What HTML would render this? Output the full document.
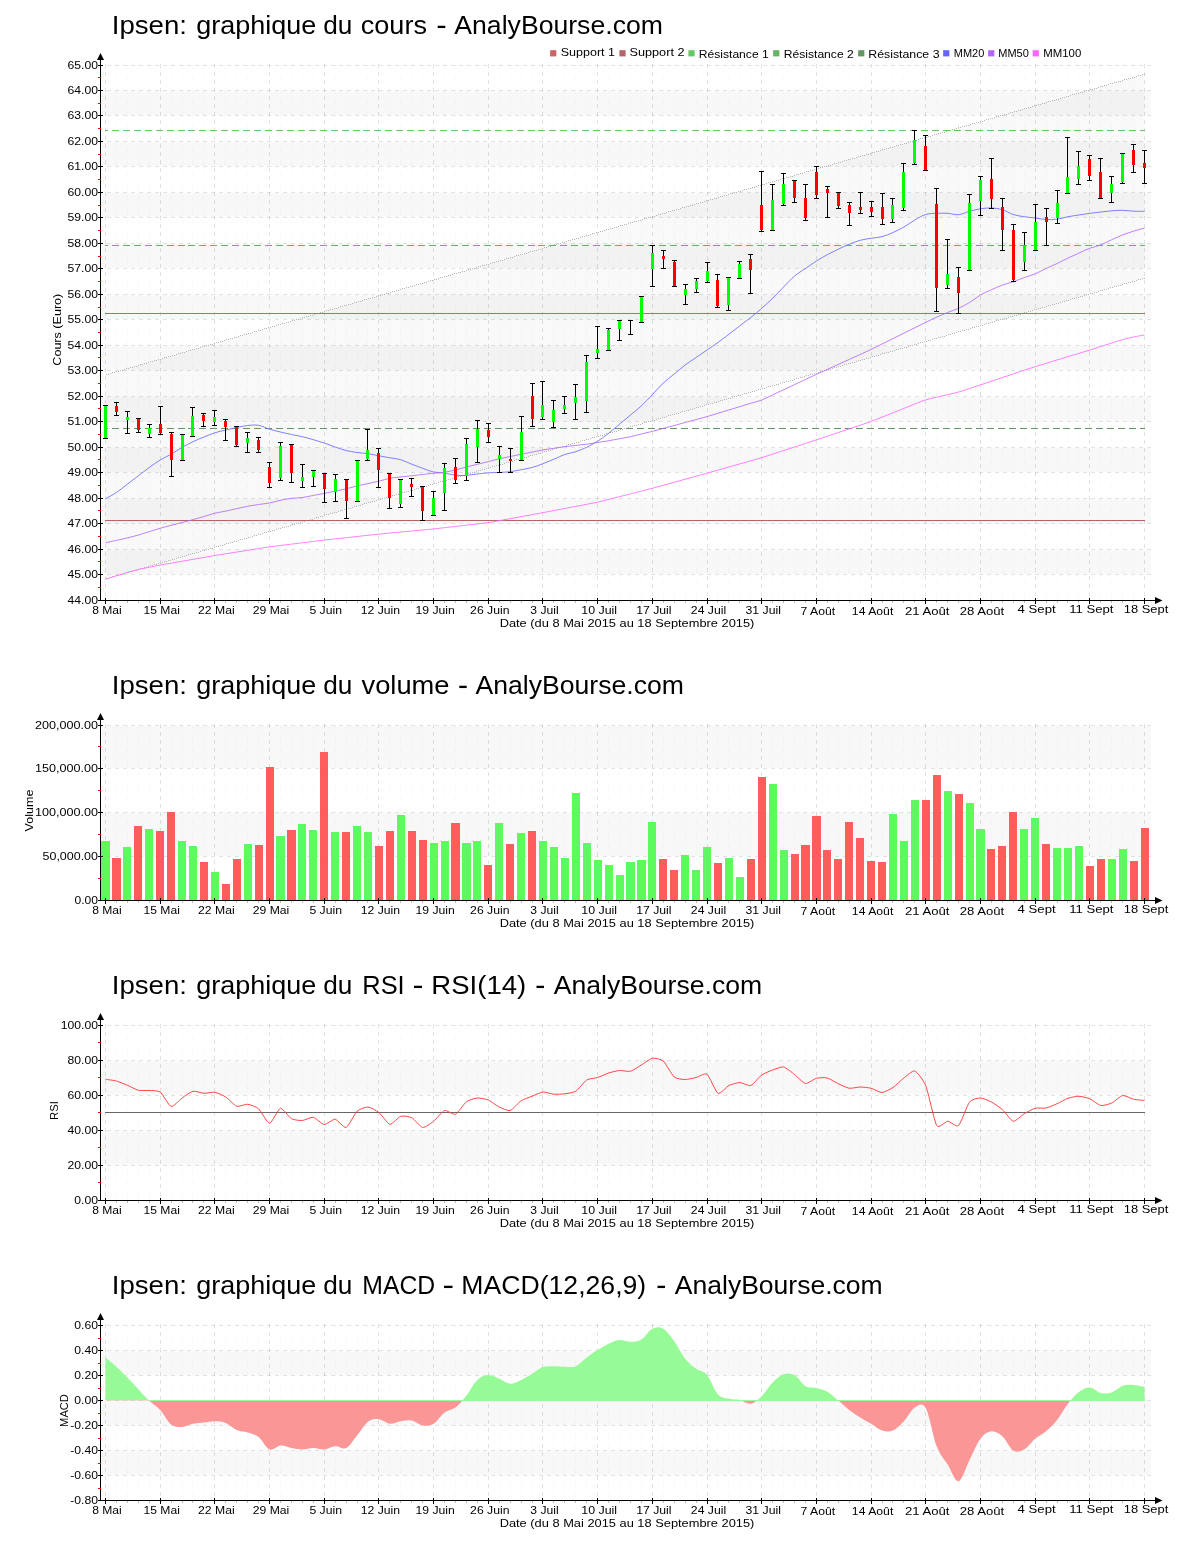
<!DOCTYPE html><html><head><meta charset="utf-8"><title>Ipsen</title><style>html,body{margin:0;padding:0;background:#fff}svg{display:block;will-change:transform}text{font-family:"Liberation Sans",sans-serif}</style></head><body>
<svg width="1200" height="1550" viewBox="0 0 1200 1550">
<rect width="1200" height="1550" fill="#fff"/>
<rect x="102" y="91" width="1049" height="24" fill="#f8f8f8" shape-rendering="crispEdges"/>
<rect x="102" y="142" width="1049" height="24" fill="#f8f8f8" shape-rendering="crispEdges"/>
<rect x="102" y="193" width="1049" height="24" fill="#f8f8f8" shape-rendering="crispEdges"/>
<rect x="102" y="244" width="1049" height="24" fill="#f8f8f8" shape-rendering="crispEdges"/>
<rect x="102" y="295" width="1049" height="24" fill="#f8f8f8" shape-rendering="crispEdges"/>
<rect x="102" y="346" width="1049" height="24" fill="#f8f8f8" shape-rendering="crispEdges"/>
<rect x="102" y="397" width="1049" height="24" fill="#f8f8f8" shape-rendering="crispEdges"/>
<rect x="102" y="448" width="1049" height="24" fill="#f8f8f8" shape-rendering="crispEdges"/>
<rect x="102" y="499" width="1049" height="24" fill="#f8f8f8" shape-rendering="crispEdges"/>
<rect x="102" y="550" width="1049" height="24" fill="#f8f8f8" shape-rendering="crispEdges"/>
<path d="M105.5 375.0 L1144.5 74.1 L1144.5 278.1 L105.5 579.0 Z" fill="#000" fill-opacity="0.022"/>
<g shape-rendering="crispEdges" fill="none">
<line x1="105.5" y1="64.0" x2="105.5" y2="600.0" stroke="#000" stroke-opacity="0.115" stroke-dasharray="4 4"/>
<line x1="116.5" y1="64.0" x2="116.5" y2="600.0" stroke="#000" stroke-opacity="0.022" stroke-dasharray="6 6"/>
<line x1="127.5" y1="64.0" x2="127.5" y2="600.0" stroke="#000" stroke-opacity="0.022" stroke-dasharray="6 6"/>
<line x1="138.5" y1="64.0" x2="138.5" y2="600.0" stroke="#000" stroke-opacity="0.022" stroke-dasharray="6 6"/>
<line x1="149.5" y1="64.0" x2="149.5" y2="600.0" stroke="#000" stroke-opacity="0.022" stroke-dasharray="6 6"/>
<line x1="160.5" y1="64.0" x2="160.5" y2="600.0" stroke="#000" stroke-opacity="0.115" stroke-dasharray="4 4"/>
<line x1="171.5" y1="64.0" x2="171.5" y2="600.0" stroke="#000" stroke-opacity="0.022" stroke-dasharray="6 6"/>
<line x1="182.5" y1="64.0" x2="182.5" y2="600.0" stroke="#000" stroke-opacity="0.022" stroke-dasharray="6 6"/>
<line x1="192.5" y1="64.0" x2="192.5" y2="600.0" stroke="#000" stroke-opacity="0.022" stroke-dasharray="6 6"/>
<line x1="203.5" y1="64.0" x2="203.5" y2="600.0" stroke="#000" stroke-opacity="0.022" stroke-dasharray="6 6"/>
<line x1="214.5" y1="64.0" x2="214.5" y2="600.0" stroke="#000" stroke-opacity="0.115" stroke-dasharray="4 4"/>
<line x1="225.5" y1="64.0" x2="225.5" y2="600.0" stroke="#000" stroke-opacity="0.022" stroke-dasharray="6 6"/>
<line x1="236.5" y1="64.0" x2="236.5" y2="600.0" stroke="#000" stroke-opacity="0.022" stroke-dasharray="6 6"/>
<line x1="247.5" y1="64.0" x2="247.5" y2="600.0" stroke="#000" stroke-opacity="0.022" stroke-dasharray="6 6"/>
<line x1="258.5" y1="64.0" x2="258.5" y2="600.0" stroke="#000" stroke-opacity="0.022" stroke-dasharray="6 6"/>
<line x1="269.5" y1="64.0" x2="269.5" y2="600.0" stroke="#000" stroke-opacity="0.115" stroke-dasharray="4 4"/>
<line x1="280.5" y1="64.0" x2="280.5" y2="600.0" stroke="#000" stroke-opacity="0.022" stroke-dasharray="6 6"/>
<line x1="291.5" y1="64.0" x2="291.5" y2="600.0" stroke="#000" stroke-opacity="0.022" stroke-dasharray="6 6"/>
<line x1="302.5" y1="64.0" x2="302.5" y2="600.0" stroke="#000" stroke-opacity="0.022" stroke-dasharray="6 6"/>
<line x1="313.5" y1="64.0" x2="313.5" y2="600.0" stroke="#000" stroke-opacity="0.022" stroke-dasharray="6 6"/>
<line x1="324.5" y1="64.0" x2="324.5" y2="600.0" stroke="#000" stroke-opacity="0.115" stroke-dasharray="4 4"/>
<line x1="335.5" y1="64.0" x2="335.5" y2="600.0" stroke="#000" stroke-opacity="0.022" stroke-dasharray="6 6"/>
<line x1="346.5" y1="64.0" x2="346.5" y2="600.0" stroke="#000" stroke-opacity="0.022" stroke-dasharray="6 6"/>
<line x1="357.5" y1="64.0" x2="357.5" y2="600.0" stroke="#000" stroke-opacity="0.022" stroke-dasharray="6 6"/>
<line x1="367.5" y1="64.0" x2="367.5" y2="600.0" stroke="#000" stroke-opacity="0.022" stroke-dasharray="6 6"/>
<line x1="378.5" y1="64.0" x2="378.5" y2="600.0" stroke="#000" stroke-opacity="0.115" stroke-dasharray="4 4"/>
<line x1="389.5" y1="64.0" x2="389.5" y2="600.0" stroke="#000" stroke-opacity="0.022" stroke-dasharray="6 6"/>
<line x1="400.5" y1="64.0" x2="400.5" y2="600.0" stroke="#000" stroke-opacity="0.022" stroke-dasharray="6 6"/>
<line x1="411.5" y1="64.0" x2="411.5" y2="600.0" stroke="#000" stroke-opacity="0.022" stroke-dasharray="6 6"/>
<line x1="422.5" y1="64.0" x2="422.5" y2="600.0" stroke="#000" stroke-opacity="0.022" stroke-dasharray="6 6"/>
<line x1="433.5" y1="64.0" x2="433.5" y2="600.0" stroke="#000" stroke-opacity="0.115" stroke-dasharray="4 4"/>
<line x1="444.5" y1="64.0" x2="444.5" y2="600.0" stroke="#000" stroke-opacity="0.022" stroke-dasharray="6 6"/>
<line x1="455.5" y1="64.0" x2="455.5" y2="600.0" stroke="#000" stroke-opacity="0.022" stroke-dasharray="6 6"/>
<line x1="466.5" y1="64.0" x2="466.5" y2="600.0" stroke="#000" stroke-opacity="0.022" stroke-dasharray="6 6"/>
<line x1="477.5" y1="64.0" x2="477.5" y2="600.0" stroke="#000" stroke-opacity="0.022" stroke-dasharray="6 6"/>
<line x1="488.5" y1="64.0" x2="488.5" y2="600.0" stroke="#000" stroke-opacity="0.115" stroke-dasharray="4 4"/>
<line x1="499.5" y1="64.0" x2="499.5" y2="600.0" stroke="#000" stroke-opacity="0.022" stroke-dasharray="6 6"/>
<line x1="510.5" y1="64.0" x2="510.5" y2="600.0" stroke="#000" stroke-opacity="0.022" stroke-dasharray="6 6"/>
<line x1="521.5" y1="64.0" x2="521.5" y2="600.0" stroke="#000" stroke-opacity="0.022" stroke-dasharray="6 6"/>
<line x1="532.5" y1="64.0" x2="532.5" y2="600.0" stroke="#000" stroke-opacity="0.022" stroke-dasharray="6 6"/>
<line x1="542.5" y1="64.0" x2="542.5" y2="600.0" stroke="#000" stroke-opacity="0.115" stroke-dasharray="4 4"/>
<line x1="553.5" y1="64.0" x2="553.5" y2="600.0" stroke="#000" stroke-opacity="0.022" stroke-dasharray="6 6"/>
<line x1="564.5" y1="64.0" x2="564.5" y2="600.0" stroke="#000" stroke-opacity="0.022" stroke-dasharray="6 6"/>
<line x1="575.5" y1="64.0" x2="575.5" y2="600.0" stroke="#000" stroke-opacity="0.022" stroke-dasharray="6 6"/>
<line x1="586.5" y1="64.0" x2="586.5" y2="600.0" stroke="#000" stroke-opacity="0.022" stroke-dasharray="6 6"/>
<line x1="597.5" y1="64.0" x2="597.5" y2="600.0" stroke="#000" stroke-opacity="0.115" stroke-dasharray="4 4"/>
<line x1="608.5" y1="64.0" x2="608.5" y2="600.0" stroke="#000" stroke-opacity="0.022" stroke-dasharray="6 6"/>
<line x1="619.5" y1="64.0" x2="619.5" y2="600.0" stroke="#000" stroke-opacity="0.022" stroke-dasharray="6 6"/>
<line x1="630.5" y1="64.0" x2="630.5" y2="600.0" stroke="#000" stroke-opacity="0.022" stroke-dasharray="6 6"/>
<line x1="641.5" y1="64.0" x2="641.5" y2="600.0" stroke="#000" stroke-opacity="0.022" stroke-dasharray="6 6"/>
<line x1="652.5" y1="64.0" x2="652.5" y2="600.0" stroke="#000" stroke-opacity="0.115" stroke-dasharray="4 4"/>
<line x1="663.5" y1="64.0" x2="663.5" y2="600.0" stroke="#000" stroke-opacity="0.022" stroke-dasharray="6 6"/>
<line x1="674.5" y1="64.0" x2="674.5" y2="600.0" stroke="#000" stroke-opacity="0.022" stroke-dasharray="6 6"/>
<line x1="685.5" y1="64.0" x2="685.5" y2="600.0" stroke="#000" stroke-opacity="0.022" stroke-dasharray="6 6"/>
<line x1="696.5" y1="64.0" x2="696.5" y2="600.0" stroke="#000" stroke-opacity="0.022" stroke-dasharray="6 6"/>
<line x1="707.5" y1="64.0" x2="707.5" y2="600.0" stroke="#000" stroke-opacity="0.115" stroke-dasharray="4 4"/>
<line x1="717.5" y1="64.0" x2="717.5" y2="600.0" stroke="#000" stroke-opacity="0.022" stroke-dasharray="6 6"/>
<line x1="728.5" y1="64.0" x2="728.5" y2="600.0" stroke="#000" stroke-opacity="0.022" stroke-dasharray="6 6"/>
<line x1="739.5" y1="64.0" x2="739.5" y2="600.0" stroke="#000" stroke-opacity="0.022" stroke-dasharray="6 6"/>
<line x1="750.5" y1="64.0" x2="750.5" y2="600.0" stroke="#000" stroke-opacity="0.022" stroke-dasharray="6 6"/>
<line x1="761.5" y1="64.0" x2="761.5" y2="600.0" stroke="#000" stroke-opacity="0.115" stroke-dasharray="4 4"/>
<line x1="772.5" y1="64.0" x2="772.5" y2="600.0" stroke="#000" stroke-opacity="0.022" stroke-dasharray="6 6"/>
<line x1="783.5" y1="64.0" x2="783.5" y2="600.0" stroke="#000" stroke-opacity="0.022" stroke-dasharray="6 6"/>
<line x1="794.5" y1="64.0" x2="794.5" y2="600.0" stroke="#000" stroke-opacity="0.022" stroke-dasharray="6 6"/>
<line x1="805.5" y1="64.0" x2="805.5" y2="600.0" stroke="#000" stroke-opacity="0.022" stroke-dasharray="6 6"/>
<line x1="816.5" y1="64.0" x2="816.5" y2="600.0" stroke="#000" stroke-opacity="0.115" stroke-dasharray="4 4"/>
<line x1="827.5" y1="64.0" x2="827.5" y2="600.0" stroke="#000" stroke-opacity="0.022" stroke-dasharray="6 6"/>
<line x1="838.5" y1="64.0" x2="838.5" y2="600.0" stroke="#000" stroke-opacity="0.022" stroke-dasharray="6 6"/>
<line x1="849.5" y1="64.0" x2="849.5" y2="600.0" stroke="#000" stroke-opacity="0.022" stroke-dasharray="6 6"/>
<line x1="860.5" y1="64.0" x2="860.5" y2="600.0" stroke="#000" stroke-opacity="0.022" stroke-dasharray="6 6"/>
<line x1="871.5" y1="64.0" x2="871.5" y2="600.0" stroke="#000" stroke-opacity="0.115" stroke-dasharray="4 4"/>
<line x1="882.5" y1="64.0" x2="882.5" y2="600.0" stroke="#000" stroke-opacity="0.022" stroke-dasharray="6 6"/>
<line x1="892.5" y1="64.0" x2="892.5" y2="600.0" stroke="#000" stroke-opacity="0.022" stroke-dasharray="6 6"/>
<line x1="903.5" y1="64.0" x2="903.5" y2="600.0" stroke="#000" stroke-opacity="0.022" stroke-dasharray="6 6"/>
<line x1="914.5" y1="64.0" x2="914.5" y2="600.0" stroke="#000" stroke-opacity="0.022" stroke-dasharray="6 6"/>
<line x1="925.5" y1="64.0" x2="925.5" y2="600.0" stroke="#000" stroke-opacity="0.115" stroke-dasharray="4 4"/>
<line x1="936.5" y1="64.0" x2="936.5" y2="600.0" stroke="#000" stroke-opacity="0.022" stroke-dasharray="6 6"/>
<line x1="947.5" y1="64.0" x2="947.5" y2="600.0" stroke="#000" stroke-opacity="0.022" stroke-dasharray="6 6"/>
<line x1="958.5" y1="64.0" x2="958.5" y2="600.0" stroke="#000" stroke-opacity="0.022" stroke-dasharray="6 6"/>
<line x1="969.5" y1="64.0" x2="969.5" y2="600.0" stroke="#000" stroke-opacity="0.022" stroke-dasharray="6 6"/>
<line x1="980.5" y1="64.0" x2="980.5" y2="600.0" stroke="#000" stroke-opacity="0.115" stroke-dasharray="4 4"/>
<line x1="991.5" y1="64.0" x2="991.5" y2="600.0" stroke="#000" stroke-opacity="0.022" stroke-dasharray="6 6"/>
<line x1="1002.5" y1="64.0" x2="1002.5" y2="600.0" stroke="#000" stroke-opacity="0.022" stroke-dasharray="6 6"/>
<line x1="1013.5" y1="64.0" x2="1013.5" y2="600.0" stroke="#000" stroke-opacity="0.022" stroke-dasharray="6 6"/>
<line x1="1024.5" y1="64.0" x2="1024.5" y2="600.0" stroke="#000" stroke-opacity="0.022" stroke-dasharray="6 6"/>
<line x1="1035.5" y1="64.0" x2="1035.5" y2="600.0" stroke="#000" stroke-opacity="0.115" stroke-dasharray="4 4"/>
<line x1="1046.5" y1="64.0" x2="1046.5" y2="600.0" stroke="#000" stroke-opacity="0.022" stroke-dasharray="6 6"/>
<line x1="1057.5" y1="64.0" x2="1057.5" y2="600.0" stroke="#000" stroke-opacity="0.022" stroke-dasharray="6 6"/>
<line x1="1067.5" y1="64.0" x2="1067.5" y2="600.0" stroke="#000" stroke-opacity="0.022" stroke-dasharray="6 6"/>
<line x1="1078.5" y1="64.0" x2="1078.5" y2="600.0" stroke="#000" stroke-opacity="0.022" stroke-dasharray="6 6"/>
<line x1="1089.5" y1="64.0" x2="1089.5" y2="600.0" stroke="#000" stroke-opacity="0.115" stroke-dasharray="4 4"/>
<line x1="1100.5" y1="64.0" x2="1100.5" y2="600.0" stroke="#000" stroke-opacity="0.022" stroke-dasharray="6 6"/>
<line x1="1111.5" y1="64.0" x2="1111.5" y2="600.0" stroke="#000" stroke-opacity="0.022" stroke-dasharray="6 6"/>
<line x1="1122.5" y1="64.0" x2="1122.5" y2="600.0" stroke="#000" stroke-opacity="0.022" stroke-dasharray="6 6"/>
<line x1="1133.5" y1="64.0" x2="1133.5" y2="600.0" stroke="#000" stroke-opacity="0.022" stroke-dasharray="6 6"/>
<line x1="1144.5" y1="64.0" x2="1144.5" y2="600.0" stroke="#000" stroke-opacity="0.115" stroke-dasharray="4 4"/>
<line x1="99" y1="65.5" x2="1151" y2="65.5" stroke="#000" stroke-opacity="0.115" stroke-dasharray="4 4"/>
<line x1="99" y1="90.5" x2="1151" y2="90.5" stroke="#000" stroke-opacity="0.115" stroke-dasharray="4 4"/>
<line x1="99" y1="115.5" x2="1151" y2="115.5" stroke="#000" stroke-opacity="0.115" stroke-dasharray="4 4"/>
<line x1="99" y1="141.5" x2="1151" y2="141.5" stroke="#000" stroke-opacity="0.115" stroke-dasharray="4 4"/>
<line x1="99" y1="166.5" x2="1151" y2="166.5" stroke="#000" stroke-opacity="0.115" stroke-dasharray="4 4"/>
<line x1="99" y1="192.5" x2="1151" y2="192.5" stroke="#000" stroke-opacity="0.115" stroke-dasharray="4 4"/>
<line x1="99" y1="217.5" x2="1151" y2="217.5" stroke="#000" stroke-opacity="0.115" stroke-dasharray="4 4"/>
<line x1="99" y1="243.5" x2="1151" y2="243.5" stroke="#000" stroke-opacity="0.115" stroke-dasharray="4 4"/>
<line x1="99" y1="268.5" x2="1151" y2="268.5" stroke="#000" stroke-opacity="0.115" stroke-dasharray="4 4"/>
<line x1="99" y1="294.5" x2="1151" y2="294.5" stroke="#000" stroke-opacity="0.115" stroke-dasharray="4 4"/>
<line x1="99" y1="319.5" x2="1151" y2="319.5" stroke="#000" stroke-opacity="0.115" stroke-dasharray="4 4"/>
<line x1="99" y1="345.5" x2="1151" y2="345.5" stroke="#000" stroke-opacity="0.115" stroke-dasharray="4 4"/>
<line x1="99" y1="370.5" x2="1151" y2="370.5" stroke="#000" stroke-opacity="0.115" stroke-dasharray="4 4"/>
<line x1="99" y1="396.5" x2="1151" y2="396.5" stroke="#000" stroke-opacity="0.115" stroke-dasharray="4 4"/>
<line x1="99" y1="421.5" x2="1151" y2="421.5" stroke="#000" stroke-opacity="0.115" stroke-dasharray="4 4"/>
<line x1="99" y1="447.5" x2="1151" y2="447.5" stroke="#000" stroke-opacity="0.115" stroke-dasharray="4 4"/>
<line x1="99" y1="472.5" x2="1151" y2="472.5" stroke="#000" stroke-opacity="0.115" stroke-dasharray="4 4"/>
<line x1="99" y1="498.5" x2="1151" y2="498.5" stroke="#000" stroke-opacity="0.115" stroke-dasharray="4 4"/>
<line x1="99" y1="523.5" x2="1151" y2="523.5" stroke="#000" stroke-opacity="0.115" stroke-dasharray="4 4"/>
<line x1="99" y1="549.5" x2="1151" y2="549.5" stroke="#000" stroke-opacity="0.115" stroke-dasharray="4 4"/>
<line x1="99" y1="574.5" x2="1151" y2="574.5" stroke="#000" stroke-opacity="0.115" stroke-dasharray="4 4"/>
</g>
<path d="M106 374.5h1M108 374.5h1M110 373.5h1M112 372.5h1M114 372.5h1M116 371.5h1M118 371.5h1M120 370.5h1M122 370.5h1M124 369.5h1M126 368.5h1M128 368.5h1M130 367.5h1M132 367.5h1M134 366.5h1M136 366.5h1M138 365.5h1M140 364.5h1M142 364.5h1M144 363.5h1M146 363.5h1M148 362.5h1M150 361.5h1M152 361.5h1M154 360.5h1M156 360.5h1M158 359.5h1M160 359.5h1M162 358.5h1M164 357.5h1M166 357.5h1M168 356.5h1M170 356.5h1M172 355.5h1M174 355.5h1M176 354.5h1M178 353.5h1M180 353.5h1M182 352.5h1M184 352.5h1M186 351.5h1M188 350.5h1M190 350.5h1M192 349.5h1M194 349.5h1M196 348.5h1M198 348.5h1M200 347.5h1M202 346.5h1M204 346.5h1M206 345.5h1M208 345.5h1M210 344.5h1M212 344.5h1M214 343.5h1M216 342.5h1M218 342.5h1M220 341.5h1M222 341.5h1M224 340.5h1M226 339.5h1M228 339.5h1M230 338.5h1M232 338.5h1M234 337.5h1M236 337.5h1M238 336.5h1M240 335.5h1M242 335.5h1M244 334.5h1M246 334.5h1M248 333.5h1M250 333.5h1M252 332.5h1M254 331.5h1M256 331.5h1M258 330.5h1M260 330.5h1M262 329.5h1M264 328.5h1M266 328.5h1M268 327.5h1M270 327.5h1M272 326.5h1M274 326.5h1M276 325.5h1M278 324.5h1M280 324.5h1M282 323.5h1M284 323.5h1M286 322.5h1M288 322.5h1M290 321.5h1M292 320.5h1M294 320.5h1M296 319.5h1M298 319.5h1M300 318.5h1M302 317.5h1M304 317.5h1M306 316.5h1M308 316.5h1M310 315.5h1M312 315.5h1M314 314.5h1M316 313.5h1M318 313.5h1M320 312.5h1M322 312.5h1M324 311.5h1M326 310.5h1M328 310.5h1M330 309.5h1M332 309.5h1M334 308.5h1M336 308.5h1M338 307.5h1M340 306.5h1M342 306.5h1M344 305.5h1M346 305.5h1M348 304.5h1M350 304.5h1M352 303.5h1M354 302.5h1M356 302.5h1M358 301.5h1M360 301.5h1M362 300.5h1M364 299.5h1M366 299.5h1M368 298.5h1M370 298.5h1M372 297.5h1M374 297.5h1M376 296.5h1M378 295.5h1M380 295.5h1M382 294.5h1M384 294.5h1M386 293.5h1M388 293.5h1M390 292.5h1M392 291.5h1M394 291.5h1M396 290.5h1M398 290.5h1M400 289.5h1M402 288.5h1M404 288.5h1M406 287.5h1M408 287.5h1M410 286.5h1M412 286.5h1M414 285.5h1M416 284.5h1M418 284.5h1M420 283.5h1M422 283.5h1M424 282.5h1M426 282.5h1M428 281.5h1M430 280.5h1M432 280.5h1M434 279.5h1M436 279.5h1M438 278.5h1M440 277.5h1M442 277.5h1M444 276.5h1M446 276.5h1M448 275.5h1M450 275.5h1M452 274.5h1M454 273.5h1M456 273.5h1M458 272.5h1M460 272.5h1M462 271.5h1M464 271.5h1M466 270.5h1M468 269.5h1M470 269.5h1M472 268.5h1M474 268.5h1M476 267.5h1M478 266.5h1M480 266.5h1M482 265.5h1M484 265.5h1M486 264.5h1M488 264.5h1M490 263.5h1M492 262.5h1M494 262.5h1M496 261.5h1M498 261.5h1M500 260.5h1M502 260.5h1M504 259.5h1M506 258.5h1M508 258.5h1M510 257.5h1M512 257.5h1M514 256.5h1M516 255.5h1M518 255.5h1M520 254.5h1M522 254.5h1M524 253.5h1M526 253.5h1M528 252.5h1M530 251.5h1M532 251.5h1M534 250.5h1M536 250.5h1M538 249.5h1M540 249.5h1M542 248.5h1M544 247.5h1M546 247.5h1M548 246.5h1M550 246.5h1M552 245.5h1M554 244.5h1M556 244.5h1M558 243.5h1M560 243.5h1M562 242.5h1M564 242.5h1M566 241.5h1M568 240.5h1M570 240.5h1M572 239.5h1M574 239.5h1M576 238.5h1M578 238.5h1M580 237.5h1M582 236.5h1M584 236.5h1M586 235.5h1M588 235.5h1M590 234.5h1M592 233.5h1M594 233.5h1M596 232.5h1M598 232.5h1M600 231.5h1M602 231.5h1M604 230.5h1M606 229.5h1M608 229.5h1M610 228.5h1M612 228.5h1M614 227.5h1M616 227.5h1M618 226.5h1M620 225.5h1M622 225.5h1M624 224.5h1M626 224.5h1M628 223.5h1M630 222.5h1M632 222.5h1M634 221.5h1M636 221.5h1M638 220.5h1M640 220.5h1M642 219.5h1M644 218.5h1M646 218.5h1M648 217.5h1M650 217.5h1M652 216.5h1M654 216.5h1M656 215.5h1M658 214.5h1M660 214.5h1M662 213.5h1M664 213.5h1M666 212.5h1M668 211.5h1M670 211.5h1M672 210.5h1M674 210.5h1M676 209.5h1M678 209.5h1M680 208.5h1M682 207.5h1M684 207.5h1M686 206.5h1M688 206.5h1M690 205.5h1M692 205.5h1M694 204.5h1M696 203.5h1M698 203.5h1M700 202.5h1M702 202.5h1M704 201.5h1M706 200.5h1M708 200.5h1M710 199.5h1M712 199.5h1M714 198.5h1M716 198.5h1M718 197.5h1M720 196.5h1M722 196.5h1M724 195.5h1M726 195.5h1M728 194.5h1M730 193.5h1M732 193.5h1M734 192.5h1M736 192.5h1M738 191.5h1M740 191.5h1M742 190.5h1M744 189.5h1M746 189.5h1M748 188.5h1M750 188.5h1M752 187.5h1M754 187.5h1M756 186.5h1M758 185.5h1M760 185.5h1M762 184.5h1M764 184.5h1M766 183.5h1M768 182.5h1M770 182.5h1M772 181.5h1M774 181.5h1M776 180.5h1M778 180.5h1M780 179.5h1M782 178.5h1M784 178.5h1M786 177.5h1M788 177.5h1M790 176.5h1M792 176.5h1M794 175.5h1M796 174.5h1M798 174.5h1M800 173.5h1M802 173.5h1M804 172.5h1M806 171.5h1M808 171.5h1M810 170.5h1M812 170.5h1M814 169.5h1M816 169.5h1M818 168.5h1M820 167.5h1M822 167.5h1M824 166.5h1M826 166.5h1M828 165.5h1M830 165.5h1M832 164.5h1M834 163.5h1M836 163.5h1M838 162.5h1M840 162.5h1M842 161.5h1M844 160.5h1M846 160.5h1M848 159.5h1M850 159.5h1M852 158.5h1M854 158.5h1M856 157.5h1M858 156.5h1M860 156.5h1M862 155.5h1M864 155.5h1M866 154.5h1M868 154.5h1M870 153.5h1M872 152.5h1M874 152.5h1M876 151.5h1M878 151.5h1M880 150.5h1M882 149.5h1M884 149.5h1M886 148.5h1M888 148.5h1M890 147.5h1M892 147.5h1M894 146.5h1M896 145.5h1M898 145.5h1M900 144.5h1M902 144.5h1M904 143.5h1M906 143.5h1M908 142.5h1M910 141.5h1M912 141.5h1M914 140.5h1M916 140.5h1M918 139.5h1M920 138.5h1M922 138.5h1M924 137.5h1M926 137.5h1M928 136.5h1M930 136.5h1M932 135.5h1M934 134.5h1M936 134.5h1M938 133.5h1M940 133.5h1M942 132.5h1M944 132.5h1M946 131.5h1M948 130.5h1M950 130.5h1M952 129.5h1M954 129.5h1M956 128.5h1M958 127.5h1M960 127.5h1M962 126.5h1M964 126.5h1M966 125.5h1M968 125.5h1M970 124.5h1M972 123.5h1M974 123.5h1M976 122.5h1M978 122.5h1M980 121.5h1M982 121.5h1M984 120.5h1M986 119.5h1M988 119.5h1M990 118.5h1M992 118.5h1M994 117.5h1M996 116.5h1M998 116.5h1M1000 115.5h1M1002 115.5h1M1004 114.5h1M1006 114.5h1M1008 113.5h1M1010 112.5h1M1012 112.5h1M1014 111.5h1M1016 111.5h1M1018 110.5h1M1020 110.5h1M1022 109.5h1M1024 108.5h1M1026 108.5h1M1028 107.5h1M1030 107.5h1M1032 106.5h1M1034 105.5h1M1036 105.5h1M1038 104.5h1M1040 104.5h1M1042 103.5h1M1044 103.5h1M1046 102.5h1M1048 101.5h1M1050 101.5h1M1052 100.5h1M1054 100.5h1M1056 99.5h1M1058 99.5h1M1060 98.5h1M1062 97.5h1M1064 97.5h1M1066 96.5h1M1068 96.5h1M1070 95.5h1M1072 94.5h1M1074 94.5h1M1076 93.5h1M1078 93.5h1M1080 92.5h1M1082 92.5h1M1084 91.5h1M1086 90.5h1M1088 90.5h1M1090 89.5h1M1092 89.5h1M1094 88.5h1M1096 88.5h1M1098 87.5h1M1100 86.5h1M1102 86.5h1M1104 85.5h1M1106 85.5h1M1108 84.5h1M1110 83.5h1M1112 83.5h1M1114 82.5h1M1116 82.5h1M1118 81.5h1M1120 81.5h1M1122 80.5h1M1124 79.5h1M1126 79.5h1M1128 78.5h1M1130 78.5h1M1132 77.5h1M1134 77.5h1M1136 76.5h1M1138 75.5h1M1140 75.5h1M1142 74.5h1M1144 74.5h1" stroke="#b6b6b6" stroke-width="1" fill="none" shape-rendering="crispEdges"/>
<path d="M106 578.5h1M108 578.5h1M110 577.5h1M112 576.5h1M114 576.5h1M116 575.5h1M118 575.5h1M120 574.5h1M122 574.5h1M124 573.5h1M126 572.5h1M128 572.5h1M130 571.5h1M132 571.5h1M134 570.5h1M136 570.5h1M138 569.5h1M140 568.5h1M142 568.5h1M144 567.5h1M146 567.5h1M148 566.5h1M150 565.5h1M152 565.5h1M154 564.5h1M156 564.5h1M158 563.5h1M160 563.5h1M162 562.5h1M164 561.5h1M166 561.5h1M168 560.5h1M170 560.5h1M172 559.5h1M174 559.5h1M176 558.5h1M178 557.5h1M180 557.5h1M182 556.5h1M184 556.5h1M186 555.5h1M188 554.5h1M190 554.5h1M192 553.5h1M194 553.5h1M196 552.5h1M198 552.5h1M200 551.5h1M202 550.5h1M204 550.5h1M206 549.5h1M208 549.5h1M210 548.5h1M212 548.5h1M214 547.5h1M216 546.5h1M218 546.5h1M220 545.5h1M222 545.5h1M224 544.5h1M226 543.5h1M228 543.5h1M230 542.5h1M232 542.5h1M234 541.5h1M236 541.5h1M238 540.5h1M240 539.5h1M242 539.5h1M244 538.5h1M246 538.5h1M248 537.5h1M250 537.5h1M252 536.5h1M254 535.5h1M256 535.5h1M258 534.5h1M260 534.5h1M262 533.5h1M264 532.5h1M266 532.5h1M268 531.5h1M270 531.5h1M272 530.5h1M274 530.5h1M276 529.5h1M278 528.5h1M280 528.5h1M282 527.5h1M284 527.5h1M286 526.5h1M288 526.5h1M290 525.5h1M292 524.5h1M294 524.5h1M296 523.5h1M298 523.5h1M300 522.5h1M302 521.5h1M304 521.5h1M306 520.5h1M308 520.5h1M310 519.5h1M312 519.5h1M314 518.5h1M316 517.5h1M318 517.5h1M320 516.5h1M322 516.5h1M324 515.5h1M326 514.5h1M328 514.5h1M330 513.5h1M332 513.5h1M334 512.5h1M336 512.5h1M338 511.5h1M340 510.5h1M342 510.5h1M344 509.5h1M346 509.5h1M348 508.5h1M350 508.5h1M352 507.5h1M354 506.5h1M356 506.5h1M358 505.5h1M360 505.5h1M362 504.5h1M364 503.5h1M366 503.5h1M368 502.5h1M370 502.5h1M372 501.5h1M374 501.5h1M376 500.5h1M378 499.5h1M380 499.5h1M382 498.5h1M384 498.5h1M386 497.5h1M388 497.5h1M390 496.5h1M392 495.5h1M394 495.5h1M396 494.5h1M398 494.5h1M400 493.5h1M402 492.5h1M404 492.5h1M406 491.5h1M408 491.5h1M410 490.5h1M412 490.5h1M414 489.5h1M416 488.5h1M418 488.5h1M420 487.5h1M422 487.5h1M424 486.5h1M426 486.5h1M428 485.5h1M430 484.5h1M432 484.5h1M434 483.5h1M436 483.5h1M438 482.5h1M440 481.5h1M442 481.5h1M444 480.5h1M446 480.5h1M448 479.5h1M450 479.5h1M452 478.5h1M454 477.5h1M456 477.5h1M458 476.5h1M460 476.5h1M462 475.5h1M464 475.5h1M466 474.5h1M468 473.5h1M470 473.5h1M472 472.5h1M474 472.5h1M476 471.5h1M478 470.5h1M480 470.5h1M482 469.5h1M484 469.5h1M486 468.5h1M488 468.5h1M490 467.5h1M492 466.5h1M494 466.5h1M496 465.5h1M498 465.5h1M500 464.5h1M502 464.5h1M504 463.5h1M506 462.5h1M508 462.5h1M510 461.5h1M512 461.5h1M514 460.5h1M516 459.5h1M518 459.5h1M520 458.5h1M522 458.5h1M524 457.5h1M526 457.5h1M528 456.5h1M530 455.5h1M532 455.5h1M534 454.5h1M536 454.5h1M538 453.5h1M540 453.5h1M542 452.5h1M544 451.5h1M546 451.5h1M548 450.5h1M550 450.5h1M552 449.5h1M554 448.5h1M556 448.5h1M558 447.5h1M560 447.5h1M562 446.5h1M564 446.5h1M566 445.5h1M568 444.5h1M570 444.5h1M572 443.5h1M574 443.5h1M576 442.5h1M578 442.5h1M580 441.5h1M582 440.5h1M584 440.5h1M586 439.5h1M588 439.5h1M590 438.5h1M592 437.5h1M594 437.5h1M596 436.5h1M598 436.5h1M600 435.5h1M602 435.5h1M604 434.5h1M606 433.5h1M608 433.5h1M610 432.5h1M612 432.5h1M614 431.5h1M616 431.5h1M618 430.5h1M620 429.5h1M622 429.5h1M624 428.5h1M626 428.5h1M628 427.5h1M630 426.5h1M632 426.5h1M634 425.5h1M636 425.5h1M638 424.5h1M640 424.5h1M642 423.5h1M644 422.5h1M646 422.5h1M648 421.5h1M650 421.5h1M652 420.5h1M654 420.5h1M656 419.5h1M658 418.5h1M660 418.5h1M662 417.5h1M664 417.5h1M666 416.5h1M668 415.5h1M670 415.5h1M672 414.5h1M674 414.5h1M676 413.5h1M678 413.5h1M680 412.5h1M682 411.5h1M684 411.5h1M686 410.5h1M688 410.5h1M690 409.5h1M692 409.5h1M694 408.5h1M696 407.5h1M698 407.5h1M700 406.5h1M702 406.5h1M704 405.5h1M706 404.5h1M708 404.5h1M710 403.5h1M712 403.5h1M714 402.5h1M716 402.5h1M718 401.5h1M720 400.5h1M722 400.5h1M724 399.5h1M726 399.5h1M728 398.5h1M730 398.5h1M732 397.5h1M734 396.5h1M736 396.5h1M738 395.5h1M740 395.5h1M742 394.5h1M744 393.5h1M746 393.5h1M748 392.5h1M750 392.5h1M752 391.5h1M754 391.5h1M756 390.5h1M758 389.5h1M760 389.5h1M762 388.5h1M764 388.5h1M766 387.5h1M768 386.5h1M770 386.5h1M772 385.5h1M774 385.5h1M776 384.5h1M778 384.5h1M780 383.5h1M782 382.5h1M784 382.5h1M786 381.5h1M788 381.5h1M790 380.5h1M792 380.5h1M794 379.5h1M796 378.5h1M798 378.5h1M800 377.5h1M802 377.5h1M804 376.5h1M806 375.5h1M808 375.5h1M810 374.5h1M812 374.5h1M814 373.5h1M816 373.5h1M818 372.5h1M820 371.5h1M822 371.5h1M824 370.5h1M826 370.5h1M828 369.5h1M830 369.5h1M832 368.5h1M834 367.5h1M836 367.5h1M838 366.5h1M840 366.5h1M842 365.5h1M844 364.5h1M846 364.5h1M848 363.5h1M850 363.5h1M852 362.5h1M854 362.5h1M856 361.5h1M858 360.5h1M860 360.5h1M862 359.5h1M864 359.5h1M866 358.5h1M868 358.5h1M870 357.5h1M872 356.5h1M874 356.5h1M876 355.5h1M878 355.5h1M880 354.5h1M882 353.5h1M884 353.5h1M886 352.5h1M888 352.5h1M890 351.5h1M892 351.5h1M894 350.5h1M896 349.5h1M898 349.5h1M900 348.5h1M902 348.5h1M904 347.5h1M906 347.5h1M908 346.5h1M910 345.5h1M912 345.5h1M914 344.5h1M916 344.5h1M918 343.5h1M920 342.5h1M922 342.5h1M924 341.5h1M926 341.5h1M928 340.5h1M930 340.5h1M932 339.5h1M934 338.5h1M936 338.5h1M938 337.5h1M940 337.5h1M942 336.5h1M944 336.5h1M946 335.5h1M948 334.5h1M950 334.5h1M952 333.5h1M954 333.5h1M956 332.5h1M958 331.5h1M960 331.5h1M962 330.5h1M964 330.5h1M966 329.5h1M968 329.5h1M970 328.5h1M972 327.5h1M974 327.5h1M976 326.5h1M978 326.5h1M980 325.5h1M982 325.5h1M984 324.5h1M986 323.5h1M988 323.5h1M990 322.5h1M992 322.5h1M994 321.5h1M996 320.5h1M998 320.5h1M1000 319.5h1M1002 319.5h1M1004 318.5h1M1006 318.5h1M1008 317.5h1M1010 316.5h1M1012 316.5h1M1014 315.5h1M1016 315.5h1M1018 314.5h1M1020 314.5h1M1022 313.5h1M1024 312.5h1M1026 312.5h1M1028 311.5h1M1030 311.5h1M1032 310.5h1M1034 309.5h1M1036 309.5h1M1038 308.5h1M1040 308.5h1M1042 307.5h1M1044 307.5h1M1046 306.5h1M1048 305.5h1M1050 305.5h1M1052 304.5h1M1054 304.5h1M1056 303.5h1M1058 303.5h1M1060 302.5h1M1062 301.5h1M1064 301.5h1M1066 300.5h1M1068 300.5h1M1070 299.5h1M1072 298.5h1M1074 298.5h1M1076 297.5h1M1078 297.5h1M1080 296.5h1M1082 296.5h1M1084 295.5h1M1086 294.5h1M1088 294.5h1M1090 293.5h1M1092 293.5h1M1094 292.5h1M1096 292.5h1M1098 291.5h1M1100 290.5h1M1102 290.5h1M1104 289.5h1M1106 289.5h1M1108 288.5h1M1110 287.5h1M1112 287.5h1M1114 286.5h1M1116 286.5h1M1118 285.5h1M1120 285.5h1M1122 284.5h1M1124 283.5h1M1126 283.5h1M1128 282.5h1M1130 282.5h1M1132 281.5h1M1134 281.5h1M1136 280.5h1M1138 279.5h1M1140 279.5h1M1142 278.5h1M1144 278.5h1" stroke="#b6b6b6" stroke-width="1" fill="none" shape-rendering="crispEdges"/>
<line x1="105" y1="313.5" x2="1145" y2="313.5" stroke="#c86464" stroke-width="1" shape-rendering="crispEdges"/>
<line x1="105" y1="520.5" x2="1145" y2="520.5" stroke="#b46464" stroke-width="1" shape-rendering="crispEdges"/>
<line x1="105" y1="130.5" x2="1145" y2="130.5" stroke="#64c864" stroke-width="1" stroke-dasharray="7 3.937" stroke-dashoffset="4" shape-rendering="crispEdges"/>
<line x1="105" y1="245.5" x2="1145" y2="245.5" stroke="#64b464" stroke-width="1" stroke-dasharray="7 3.937" stroke-dashoffset="4" shape-rendering="crispEdges"/>
<line x1="105" y1="428.5" x2="1145" y2="428.5" stroke="#649664" stroke-width="1" stroke-dasharray="7 3.937" stroke-dashoffset="4" shape-rendering="crispEdges"/>
<path fill="none" stroke="#6a6aff" stroke-width="0.85" d="M105.50 498.70C107.32 497.67 112.79 494.92 116.44 492.50C120.08 490.08 123.73 486.98 127.37 484.20C131.02 481.42 134.67 478.58 138.31 475.80C141.96 473.02 145.60 470.13 149.25 467.50C152.89 464.87 156.54 462.22 160.19 460.00C163.83 457.78 167.48 456.28 171.12 454.20C174.77 452.12 178.41 449.58 182.06 447.50C185.70 445.42 189.35 443.45 193.00 441.70C196.64 439.95 200.29 438.48 203.93 437.00C207.58 435.52 211.22 433.97 214.87 432.80C218.52 431.63 222.16 430.88 225.81 430.00C229.45 429.12 233.10 428.25 236.74 427.50C240.39 426.75 244.04 425.87 247.68 425.50C251.33 425.13 254.97 424.68 258.62 425.30C262.26 425.92 265.91 428.08 269.55 429.20C273.20 430.32 276.85 431.12 280.49 432.00C284.14 432.88 287.78 433.72 291.43 434.50C295.07 435.28 298.72 435.83 302.37 436.70C306.01 437.57 309.66 438.65 313.30 439.70C316.95 440.75 320.59 441.78 324.24 443.00C327.89 444.22 331.53 445.75 335.18 447.00C338.82 448.25 342.47 449.58 346.11 450.50C349.76 451.42 353.41 451.97 357.05 452.50C360.70 453.03 364.34 453.15 367.99 453.70C371.63 454.25 375.28 455.12 378.93 455.80C382.57 456.48 386.22 457.15 389.86 457.80C393.51 458.45 397.15 458.63 400.80 459.70C404.44 460.77 408.09 462.77 411.74 464.20C415.38 465.63 419.03 467.00 422.67 468.30C426.32 469.60 429.96 471.22 433.61 472.00C437.26 472.78 440.90 472.45 444.55 473.00C448.19 473.55 451.84 474.92 455.48 475.30C459.13 475.68 462.78 475.52 466.42 475.30C470.07 475.08 473.71 474.42 477.36 474.00C481.00 473.58 484.65 473.05 488.29 472.80C491.94 472.55 495.59 472.68 499.23 472.50C502.88 472.32 506.52 472.17 510.17 471.70C513.81 471.23 517.46 470.40 521.11 469.70C524.75 469.00 528.40 468.50 532.04 467.50C535.69 466.50 539.33 465.08 542.98 463.70C546.63 462.32 550.27 460.73 553.92 459.20C557.56 457.67 561.21 455.75 564.85 454.50C568.50 453.25 572.15 452.92 575.79 451.70C579.44 450.48 583.08 448.95 586.73 447.20C590.37 445.45 594.02 443.52 597.66 441.20C601.31 438.88 604.96 436.13 608.60 433.30C612.25 430.47 615.89 427.25 619.54 424.20C623.18 421.15 626.83 418.07 630.48 415.00C634.12 411.93 637.77 409.18 641.41 405.80C645.06 402.42 648.70 398.50 652.35 394.70C656.00 390.90 659.64 386.45 663.29 383.00C666.93 379.55 670.58 377.00 674.22 374.00C677.87 371.00 681.52 367.75 685.16 365.00C688.81 362.25 692.45 360.00 696.10 357.50C699.74 355.00 703.39 352.50 707.03 350.00C710.68 347.50 714.33 345.13 717.97 342.50C721.62 339.87 725.26 336.98 728.91 334.20C732.55 331.42 736.20 328.58 739.85 325.80C743.49 323.02 747.14 320.42 750.78 317.50C754.43 314.58 758.07 311.50 761.72 308.30C765.37 305.10 769.01 301.85 772.66 298.30C776.30 294.75 779.95 290.72 783.59 287.00C787.24 283.28 790.89 279.08 794.53 276.00C798.18 272.92 801.82 271.00 805.47 268.50C809.11 266.00 812.76 263.30 816.40 261.00C820.05 258.70 823.70 256.67 827.34 254.70C830.99 252.73 834.63 250.95 838.28 249.20C841.92 247.45 845.57 245.68 849.22 244.20C852.86 242.72 856.51 241.28 860.15 240.30C863.80 239.32 867.44 238.90 871.09 238.30C874.74 237.70 878.38 237.67 882.03 236.70C885.67 235.73 889.32 234.12 892.96 232.50C896.61 230.88 900.26 229.08 903.90 227.00C907.55 224.92 911.19 222.08 914.84 220.00C918.48 217.92 922.13 215.62 925.77 214.50C929.42 213.38 933.07 213.50 936.71 213.30C940.36 213.10 944.00 213.07 947.65 213.30C951.29 213.53 954.94 215.03 958.59 214.70C962.23 214.37 965.88 212.28 969.52 211.30C973.17 210.32 976.81 209.35 980.46 208.80C984.11 208.25 987.75 207.85 991.40 208.00C995.04 208.15 998.69 208.62 1002.33 209.70C1005.98 210.78 1009.63 213.33 1013.27 214.50C1016.92 215.67 1020.56 216.12 1024.21 216.70C1027.85 217.28 1031.50 217.53 1035.14 218.00C1038.79 218.47 1042.44 219.30 1046.08 219.50C1049.73 219.70 1053.37 219.67 1057.02 219.20C1060.66 218.73 1064.31 217.40 1067.96 216.70C1071.60 216.00 1075.25 215.57 1078.89 215.00C1082.54 214.43 1086.18 213.80 1089.83 213.30C1093.48 212.80 1097.12 212.42 1100.77 212.00C1104.41 211.58 1108.06 211.08 1111.70 210.80C1115.35 210.52 1119.00 210.23 1122.64 210.30C1126.29 210.37 1129.93 211.03 1133.58 211.20C1137.22 211.37 1142.69 211.28 1144.51 211.30"/>
<path fill="none" stroke="#b46aff" stroke-width="0.85" d="M105.50 542.70C107.32 542.31 112.79 541.13 116.44 540.34C120.08 539.55 123.73 538.82 127.37 537.94C131.02 537.05 134.67 536.10 138.31 535.05C141.96 534.00 145.60 532.78 149.25 531.65C152.89 530.51 156.54 529.30 160.19 528.25C163.83 527.20 167.48 526.30 171.12 525.35C174.77 524.40 178.41 523.52 182.06 522.56C185.70 521.61 189.35 520.62 193.00 519.62C196.64 518.62 200.29 517.63 203.93 516.57C207.58 515.50 211.22 514.14 214.87 513.23C218.52 512.32 222.16 511.89 225.81 511.13C229.45 510.37 233.10 509.46 236.74 508.65C240.39 507.84 244.04 506.96 247.68 506.27C251.33 505.58 254.97 505.03 258.62 504.48C262.26 503.94 265.91 503.68 269.55 502.99C273.20 502.29 276.85 501.07 280.49 500.30C284.14 499.53 287.78 498.81 291.43 498.35C295.07 497.88 298.72 498.00 302.37 497.51C306.01 497.02 309.66 496.13 313.30 495.44C316.95 494.74 320.59 494.07 324.24 493.35C327.89 492.63 331.53 491.86 335.18 491.12C338.82 490.37 342.47 489.74 346.11 488.88C349.76 488.01 353.41 486.81 357.05 485.92C360.70 485.03 364.34 484.34 367.99 483.55C371.63 482.76 375.28 482.07 378.93 481.18C382.57 480.30 386.22 478.96 389.86 478.26C393.51 477.55 397.15 477.36 400.80 476.95C404.44 476.53 408.09 476.19 411.74 475.77C415.38 475.36 419.03 474.88 422.67 474.46C426.32 474.04 429.96 473.65 433.61 473.27C437.26 472.89 440.90 472.74 444.55 472.19C448.19 471.64 451.84 470.81 455.48 469.95C459.13 469.09 462.78 467.97 466.42 467.02C470.07 466.07 473.71 465.13 477.36 464.24C481.00 463.34 484.65 462.55 488.29 461.64C491.94 460.73 495.59 459.62 499.23 458.77C502.88 457.92 506.52 457.27 510.17 456.52C513.81 455.77 517.46 455.02 521.11 454.28C524.75 453.54 528.40 452.80 532.04 452.07C535.69 451.34 539.33 450.53 542.98 449.90C546.63 449.27 550.27 448.81 553.92 448.27C557.56 447.73 561.21 447.14 564.85 446.66C568.50 446.18 572.15 445.83 575.79 445.42C579.44 445.00 583.08 444.66 586.73 444.16C590.37 443.67 594.02 443.04 597.66 442.47C601.31 441.91 604.96 441.40 608.60 440.78C612.25 440.16 615.89 439.42 619.54 438.74C623.18 438.06 626.83 437.49 630.48 436.70C634.12 435.92 637.77 434.92 641.41 434.02C645.06 433.13 648.70 432.27 652.35 431.34C656.00 430.41 659.64 429.42 663.29 428.45C666.93 427.48 670.58 426.49 674.22 425.50C677.87 424.51 681.52 423.52 685.16 422.54C688.81 421.55 692.45 420.56 696.10 419.57C699.74 418.58 703.39 417.65 707.03 416.60C710.68 415.55 714.33 414.38 717.97 413.28C721.62 412.17 725.26 411.06 728.91 409.96C732.55 408.85 736.20 407.74 739.85 406.64C743.49 405.53 747.14 404.42 750.78 403.31C754.43 402.21 758.07 401.40 761.72 399.99C765.37 398.58 769.01 396.57 772.66 394.86C776.30 393.15 779.95 391.44 783.59 389.73C787.24 388.02 790.89 386.31 794.53 384.60C798.18 382.89 801.82 381.18 805.47 379.47C809.11 377.76 812.76 376.04 816.40 374.36C820.05 372.68 823.70 371.05 827.34 369.39C830.99 367.73 834.63 366.08 838.28 364.42C841.92 362.76 845.57 361.10 849.22 359.45C852.86 357.79 856.51 356.14 860.15 354.48C863.80 352.81 867.44 351.20 871.09 349.46C874.74 347.72 878.38 345.84 882.03 344.03C885.67 342.22 889.32 340.41 892.96 338.60C896.61 336.79 900.26 334.98 903.90 333.17C907.55 331.36 911.19 329.55 914.84 327.74C918.48 325.94 922.13 324.10 925.77 322.33C929.42 320.55 933.07 318.74 936.71 317.09C940.36 315.44 944.00 313.91 947.65 312.43C951.29 310.96 954.94 309.91 958.59 308.25C962.23 306.60 965.88 304.69 969.52 302.48C973.17 300.28 976.81 297.15 980.46 295.03C984.11 292.90 987.75 291.41 991.40 289.75C995.04 288.09 998.69 286.40 1002.33 285.07C1005.98 283.74 1009.63 283.01 1013.27 281.77C1016.92 280.53 1020.56 278.94 1024.21 277.61C1027.85 276.29 1031.50 275.34 1035.14 273.82C1038.79 272.30 1042.44 270.22 1046.08 268.51C1049.73 266.79 1053.37 265.25 1057.02 263.52C1060.66 261.78 1064.31 259.83 1067.96 258.09C1071.60 256.36 1075.25 254.77 1078.89 253.12C1082.54 251.47 1086.18 249.58 1089.83 248.20C1093.48 246.83 1097.12 246.29 1100.77 244.87C1104.41 243.46 1108.06 241.36 1111.70 239.71C1115.35 238.06 1119.00 236.37 1122.64 234.95C1126.29 233.53 1129.93 232.34 1133.58 231.18C1137.22 230.02 1142.69 228.53 1144.51 228.00"/>
<path fill="none" stroke="#ff6aff" stroke-width="0.85" d="M105.50 579.30C107.32 578.72 112.79 576.99 116.44 575.84C120.08 574.68 123.73 573.43 127.37 572.38C131.02 571.32 134.67 570.34 138.31 569.49C141.96 568.64 145.60 568.01 149.25 567.28C152.89 566.54 156.54 565.75 160.19 565.06C163.83 564.38 167.48 563.79 171.12 563.15C174.77 562.51 178.41 561.88 182.06 561.24C185.70 560.61 189.35 559.97 193.00 559.34C196.64 558.70 200.29 558.06 203.93 557.43C207.58 556.79 211.22 556.13 214.87 555.52C218.52 554.92 222.16 554.37 225.81 553.79C229.45 553.21 233.10 552.64 236.74 552.06C240.39 551.48 244.04 550.91 247.68 550.33C251.33 549.75 254.97 549.18 258.62 548.60C262.26 548.02 265.91 547.39 269.55 546.87C273.20 546.35 276.85 545.96 280.49 545.50C284.14 545.05 287.78 544.60 291.43 544.15C295.07 543.70 298.72 543.25 302.37 542.80C306.01 542.35 309.66 541.90 313.30 541.45C316.95 541.00 320.59 540.52 324.24 540.09C327.89 539.67 331.53 539.29 335.18 538.89C338.82 538.49 342.47 538.09 346.11 537.70C349.76 537.30 353.41 536.90 357.05 536.50C360.70 536.11 364.34 535.71 367.99 535.31C371.63 534.91 375.28 534.49 378.93 534.12C382.57 533.74 386.22 533.42 389.86 533.07C393.51 532.72 397.15 532.38 400.80 532.04C404.44 531.69 408.09 531.35 411.74 531.01C415.38 530.66 419.03 530.32 422.67 529.97C426.32 529.63 429.96 529.31 433.61 528.93C437.26 528.55 440.90 528.10 444.55 527.68C448.19 527.27 451.84 526.85 455.48 526.44C459.13 526.02 462.78 525.61 466.42 525.19C470.07 524.78 473.71 524.36 477.36 523.95C481.00 523.53 484.65 523.24 488.29 522.70C491.94 522.16 495.59 521.36 499.23 520.69C502.88 520.02 506.52 519.35 510.17 518.68C513.81 518.01 517.46 517.34 521.11 516.67C524.75 516.00 528.40 515.33 532.04 514.66C535.69 513.99 539.33 513.33 542.98 512.65C546.63 511.96 550.27 511.26 553.92 510.56C557.56 509.87 561.21 509.17 564.85 508.48C568.50 507.79 572.15 507.09 575.79 506.40C579.44 505.70 583.08 505.01 586.73 504.31C590.37 503.62 594.02 503.02 597.66 502.21C601.31 501.39 604.96 500.35 608.60 499.42C612.25 498.50 615.89 497.57 619.54 496.64C623.18 495.71 626.83 494.78 630.48 493.86C634.12 492.93 637.77 492.00 641.41 491.07C645.06 490.14 648.70 489.25 652.35 488.29C656.00 487.32 659.64 486.28 663.29 485.27C666.93 484.27 670.58 483.26 674.22 482.25C677.87 481.25 681.52 480.24 685.16 479.24C688.81 478.23 692.45 477.23 696.10 476.22C699.74 475.22 703.39 474.23 707.03 473.20C710.68 472.18 714.33 471.14 717.97 470.10C721.62 469.07 725.26 468.03 728.91 467.00C732.55 465.97 736.20 464.93 739.85 463.90C743.49 462.86 747.14 461.83 750.78 460.80C754.43 459.76 758.07 458.80 761.72 457.69C765.37 456.58 769.01 455.32 772.66 454.13C776.30 452.94 779.95 451.75 783.59 450.56C787.24 449.37 790.89 448.19 794.53 447.00C798.18 445.81 801.82 444.62 805.47 443.43C809.11 442.24 812.76 441.07 816.40 439.86C820.05 438.66 823.70 437.43 827.34 436.21C830.99 434.99 834.63 433.77 838.28 432.55C841.92 431.33 845.57 430.11 849.22 428.89C852.86 427.67 856.51 426.45 860.15 425.23C863.80 424.00 867.44 422.89 871.09 421.54C874.74 420.20 878.38 418.63 882.03 417.17C885.67 415.72 889.32 414.26 892.96 412.80C896.61 411.35 900.26 409.89 903.90 408.43C907.55 406.97 911.19 405.50 914.84 404.06C918.48 402.63 922.13 400.96 925.77 399.82C929.42 398.68 933.07 398.09 936.71 397.22C940.36 396.36 944.00 395.49 947.65 394.63C951.29 393.76 954.94 393.06 958.59 392.04C962.23 391.02 965.88 389.71 969.52 388.51C973.17 387.31 976.81 386.06 980.46 384.85C984.11 383.63 987.75 382.42 991.40 381.21C995.04 379.99 998.69 378.78 1002.33 377.57C1005.98 376.36 1009.63 375.14 1013.27 373.93C1016.92 372.72 1020.56 371.50 1024.21 370.29C1027.85 369.08 1031.50 367.82 1035.14 366.66C1038.79 365.50 1042.44 364.44 1046.08 363.34C1049.73 362.23 1053.37 361.12 1057.02 360.01C1060.66 358.91 1064.31 357.80 1067.96 356.69C1071.60 355.59 1075.25 354.48 1078.89 353.37C1082.54 352.27 1086.18 351.19 1089.83 350.05C1093.48 348.92 1097.12 347.73 1100.77 346.57C1104.41 345.41 1108.06 344.24 1111.70 343.08C1115.35 341.92 1119.00 340.60 1122.64 339.59C1126.29 338.58 1129.93 337.79 1133.58 337.02C1137.22 336.26 1142.69 335.34 1144.51 335.00"/>
<g shape-rendering="crispEdges">
<rect x="105" y="405" width="1" height="34" fill="#000"/>
<rect x="104" y="406" width="3" height="32" fill="#00ff00"/>
<rect x="103" y="405" width="5" height="1" fill="#000"/>
<rect x="103" y="438" width="5" height="1" fill="#000"/>
<rect x="116" y="402" width="1" height="14" fill="#000"/>
<rect x="115" y="406" width="3" height="6" fill="#ff0000"/>
<rect x="114" y="402" width="5" height="1" fill="#000"/>
<rect x="114" y="415" width="5" height="1" fill="#000"/>
<rect x="127" y="411" width="1" height="23" fill="#000"/>
<rect x="126" y="417" width="3" height="3" fill="#00ff00"/>
<rect x="125" y="411" width="5" height="1" fill="#000"/>
<rect x="125" y="433" width="5" height="1" fill="#000"/>
<rect x="138" y="418" width="1" height="15" fill="#000"/>
<rect x="137" y="419" width="3" height="11" fill="#ff0000"/>
<rect x="136" y="418" width="5" height="1" fill="#000"/>
<rect x="136" y="432" width="5" height="1" fill="#000"/>
<rect x="149" y="424" width="1" height="14" fill="#000"/>
<rect x="148" y="428" width="3" height="6" fill="#00ff00"/>
<rect x="147" y="424" width="5" height="1" fill="#000"/>
<rect x="147" y="437" width="5" height="1" fill="#000"/>
<rect x="160" y="406" width="1" height="29" fill="#000"/>
<rect x="159" y="424" width="3" height="9" fill="#ff0000"/>
<rect x="158" y="406" width="5" height="1" fill="#000"/>
<rect x="158" y="434" width="5" height="1" fill="#000"/>
<rect x="171" y="432" width="1" height="45" fill="#000"/>
<rect x="170" y="434" width="3" height="26" fill="#ff0000"/>
<rect x="169" y="432" width="5" height="1" fill="#000"/>
<rect x="169" y="476" width="5" height="1" fill="#000"/>
<rect x="182" y="434" width="1" height="27" fill="#000"/>
<rect x="181" y="434" width="3" height="26" fill="#00ff00"/>
<rect x="180" y="434" width="5" height="1" fill="#000"/>
<rect x="180" y="460" width="5" height="1" fill="#000"/>
<rect x="192" y="407" width="1" height="30" fill="#000"/>
<rect x="191" y="416" width="3" height="20" fill="#00ff00"/>
<rect x="190" y="407" width="5" height="1" fill="#000"/>
<rect x="190" y="436" width="5" height="1" fill="#000"/>
<rect x="203" y="413" width="1" height="14" fill="#000"/>
<rect x="202" y="415" width="3" height="6" fill="#ff0000"/>
<rect x="201" y="413" width="5" height="1" fill="#000"/>
<rect x="201" y="426" width="5" height="1" fill="#000"/>
<rect x="214" y="410" width="1" height="16" fill="#000"/>
<rect x="213" y="417" width="3" height="5" fill="#00ff00"/>
<rect x="212" y="410" width="5" height="1" fill="#000"/>
<rect x="212" y="425" width="5" height="1" fill="#000"/>
<rect x="225" y="419" width="1" height="22" fill="#000"/>
<rect x="224" y="421" width="3" height="6" fill="#ff0000"/>
<rect x="223" y="419" width="5" height="1" fill="#000"/>
<rect x="223" y="440" width="5" height="1" fill="#000"/>
<rect x="236" y="426" width="1" height="21" fill="#000"/>
<rect x="235" y="427" width="3" height="18" fill="#ff0000"/>
<rect x="234" y="426" width="5" height="1" fill="#000"/>
<rect x="234" y="446" width="5" height="1" fill="#000"/>
<rect x="247" y="432" width="1" height="21" fill="#000"/>
<rect x="246" y="438" width="3" height="5" fill="#00ff00"/>
<rect x="245" y="432" width="5" height="1" fill="#000"/>
<rect x="245" y="452" width="5" height="1" fill="#000"/>
<rect x="258" y="437" width="1" height="16" fill="#000"/>
<rect x="257" y="440" width="3" height="10" fill="#ff0000"/>
<rect x="256" y="437" width="5" height="1" fill="#000"/>
<rect x="256" y="452" width="5" height="1" fill="#000"/>
<rect x="269" y="462" width="1" height="26" fill="#000"/>
<rect x="268" y="467" width="3" height="16" fill="#ff0000"/>
<rect x="267" y="462" width="5" height="1" fill="#000"/>
<rect x="267" y="487" width="5" height="1" fill="#000"/>
<rect x="280" y="442" width="1" height="39" fill="#000"/>
<rect x="279" y="446" width="3" height="32" fill="#00ff00"/>
<rect x="278" y="442" width="5" height="1" fill="#000"/>
<rect x="278" y="480" width="5" height="1" fill="#000"/>
<rect x="291" y="444" width="1" height="39" fill="#000"/>
<rect x="290" y="445" width="3" height="28" fill="#ff0000"/>
<rect x="289" y="444" width="5" height="1" fill="#000"/>
<rect x="289" y="482" width="5" height="1" fill="#000"/>
<rect x="302" y="464" width="1" height="24" fill="#000"/>
<rect x="301" y="477" width="3" height="4" fill="#00ff00"/>
<rect x="300" y="464" width="5" height="1" fill="#000"/>
<rect x="300" y="487" width="5" height="1" fill="#000"/>
<rect x="313" y="470" width="1" height="17" fill="#000"/>
<rect x="312" y="471" width="3" height="6" fill="#00ff00"/>
<rect x="311" y="470" width="5" height="1" fill="#000"/>
<rect x="311" y="486" width="5" height="1" fill="#000"/>
<rect x="324" y="473" width="1" height="30" fill="#000"/>
<rect x="323" y="473" width="3" height="16" fill="#ff0000"/>
<rect x="322" y="473" width="5" height="1" fill="#000"/>
<rect x="322" y="502" width="5" height="1" fill="#000"/>
<rect x="335" y="474" width="1" height="28" fill="#000"/>
<rect x="334" y="479" width="3" height="13" fill="#00ff00"/>
<rect x="333" y="474" width="5" height="1" fill="#000"/>
<rect x="333" y="501" width="5" height="1" fill="#000"/>
<rect x="346" y="479" width="1" height="40" fill="#000"/>
<rect x="345" y="480" width="3" height="21" fill="#ff0000"/>
<rect x="344" y="479" width="5" height="1" fill="#000"/>
<rect x="344" y="518" width="5" height="1" fill="#000"/>
<rect x="357" y="460" width="1" height="42" fill="#000"/>
<rect x="356" y="460" width="3" height="41" fill="#00ff00"/>
<rect x="355" y="460" width="5" height="1" fill="#000"/>
<rect x="355" y="501" width="5" height="1" fill="#000"/>
<rect x="367" y="429" width="1" height="32" fill="#000"/>
<rect x="366" y="450" width="3" height="9" fill="#00ff00"/>
<rect x="365" y="429" width="5" height="1" fill="#000"/>
<rect x="365" y="460" width="5" height="1" fill="#000"/>
<rect x="378" y="448" width="1" height="40" fill="#000"/>
<rect x="377" y="453" width="3" height="17" fill="#ff0000"/>
<rect x="376" y="448" width="5" height="1" fill="#000"/>
<rect x="376" y="487" width="5" height="1" fill="#000"/>
<rect x="389" y="473" width="1" height="36" fill="#000"/>
<rect x="388" y="473" width="3" height="25" fill="#ff0000"/>
<rect x="387" y="473" width="5" height="1" fill="#000"/>
<rect x="387" y="508" width="5" height="1" fill="#000"/>
<rect x="400" y="479" width="1" height="29" fill="#000"/>
<rect x="399" y="480" width="3" height="24" fill="#00ff00"/>
<rect x="398" y="479" width="5" height="1" fill="#000"/>
<rect x="398" y="507" width="5" height="1" fill="#000"/>
<rect x="411" y="478" width="1" height="19" fill="#000"/>
<rect x="410" y="484" width="3" height="3" fill="#ff0000"/>
<rect x="409" y="478" width="5" height="1" fill="#000"/>
<rect x="409" y="496" width="5" height="1" fill="#000"/>
<rect x="422" y="486" width="1" height="35" fill="#000"/>
<rect x="421" y="487" width="3" height="24" fill="#ff0000"/>
<rect x="420" y="486" width="5" height="1" fill="#000"/>
<rect x="420" y="520" width="5" height="1" fill="#000"/>
<rect x="433" y="491" width="1" height="25" fill="#000"/>
<rect x="432" y="498" width="3" height="17" fill="#00ff00"/>
<rect x="431" y="491" width="5" height="1" fill="#000"/>
<rect x="431" y="515" width="5" height="1" fill="#000"/>
<rect x="444" y="463" width="1" height="48" fill="#000"/>
<rect x="443" y="468" width="3" height="25" fill="#00ff00"/>
<rect x="442" y="463" width="5" height="1" fill="#000"/>
<rect x="442" y="510" width="5" height="1" fill="#000"/>
<rect x="455" y="458" width="1" height="26" fill="#000"/>
<rect x="454" y="467" width="3" height="13" fill="#ff0000"/>
<rect x="453" y="458" width="5" height="1" fill="#000"/>
<rect x="453" y="483" width="5" height="1" fill="#000"/>
<rect x="466" y="438" width="1" height="43" fill="#000"/>
<rect x="465" y="444" width="3" height="32" fill="#00ff00"/>
<rect x="464" y="438" width="5" height="1" fill="#000"/>
<rect x="464" y="480" width="5" height="1" fill="#000"/>
<rect x="477" y="420" width="1" height="43" fill="#000"/>
<rect x="476" y="429" width="3" height="18" fill="#00ff00"/>
<rect x="475" y="420" width="5" height="1" fill="#000"/>
<rect x="475" y="462" width="5" height="1" fill="#000"/>
<rect x="488" y="423" width="1" height="20" fill="#000"/>
<rect x="487" y="430" width="3" height="7" fill="#ff0000"/>
<rect x="486" y="423" width="5" height="1" fill="#000"/>
<rect x="486" y="442" width="5" height="1" fill="#000"/>
<rect x="499" y="446" width="1" height="27" fill="#000"/>
<rect x="498" y="455" width="3" height="4" fill="#00ff00"/>
<rect x="497" y="446" width="5" height="1" fill="#000"/>
<rect x="497" y="472" width="5" height="1" fill="#000"/>
<rect x="510" y="448" width="1" height="25" fill="#000"/>
<rect x="509" y="459" width="3" height="2" fill="#ff0000"/>
<rect x="508" y="448" width="5" height="1" fill="#000"/>
<rect x="508" y="472" width="5" height="1" fill="#000"/>
<rect x="521" y="416" width="1" height="45" fill="#000"/>
<rect x="520" y="432" width="3" height="28" fill="#00ff00"/>
<rect x="519" y="416" width="5" height="1" fill="#000"/>
<rect x="519" y="460" width="5" height="1" fill="#000"/>
<rect x="532" y="383" width="1" height="44" fill="#000"/>
<rect x="531" y="396" width="3" height="23" fill="#ff0000"/>
<rect x="530" y="383" width="5" height="1" fill="#000"/>
<rect x="530" y="426" width="5" height="1" fill="#000"/>
<rect x="542" y="381" width="1" height="39" fill="#000"/>
<rect x="541" y="405" width="3" height="12" fill="#00ff00"/>
<rect x="540" y="381" width="5" height="1" fill="#000"/>
<rect x="540" y="419" width="5" height="1" fill="#000"/>
<rect x="553" y="400" width="1" height="28" fill="#000"/>
<rect x="552" y="410" width="3" height="12" fill="#00ff00"/>
<rect x="551" y="400" width="5" height="1" fill="#000"/>
<rect x="551" y="427" width="5" height="1" fill="#000"/>
<rect x="564" y="396" width="1" height="18" fill="#000"/>
<rect x="563" y="405" width="3" height="4" fill="#00ff00"/>
<rect x="562" y="396" width="5" height="1" fill="#000"/>
<rect x="562" y="413" width="5" height="1" fill="#000"/>
<rect x="575" y="384" width="1" height="36" fill="#000"/>
<rect x="574" y="397" width="3" height="6" fill="#00ff00"/>
<rect x="573" y="384" width="5" height="1" fill="#000"/>
<rect x="573" y="419" width="5" height="1" fill="#000"/>
<rect x="586" y="355" width="1" height="58" fill="#000"/>
<rect x="585" y="362" width="3" height="39" fill="#00ff00"/>
<rect x="584" y="355" width="5" height="1" fill="#000"/>
<rect x="584" y="412" width="5" height="1" fill="#000"/>
<rect x="597" y="326" width="1" height="33" fill="#000"/>
<rect x="596" y="349" width="3" height="4" fill="#00ff00"/>
<rect x="595" y="326" width="5" height="1" fill="#000"/>
<rect x="595" y="358" width="5" height="1" fill="#000"/>
<rect x="608" y="328" width="1" height="23" fill="#000"/>
<rect x="607" y="330" width="3" height="20" fill="#00ff00"/>
<rect x="606" y="328" width="5" height="1" fill="#000"/>
<rect x="606" y="350" width="5" height="1" fill="#000"/>
<rect x="619" y="320" width="1" height="21" fill="#000"/>
<rect x="618" y="320" width="3" height="9" fill="#00ff00"/>
<rect x="617" y="320" width="5" height="1" fill="#000"/>
<rect x="617" y="340" width="5" height="1" fill="#000"/>
<rect x="630" y="320" width="1" height="15" fill="#000"/>
<rect x="629" y="320" width="3" height="1" fill="#00ff00"/>
<rect x="628" y="320" width="5" height="1" fill="#000"/>
<rect x="628" y="334" width="5" height="1" fill="#000"/>
<rect x="641" y="296" width="1" height="27" fill="#000"/>
<rect x="640" y="296" width="3" height="26" fill="#00ff00"/>
<rect x="639" y="296" width="5" height="1" fill="#000"/>
<rect x="639" y="322" width="5" height="1" fill="#000"/>
<rect x="652" y="245" width="1" height="42" fill="#000"/>
<rect x="651" y="253" width="3" height="16" fill="#00ff00"/>
<rect x="650" y="245" width="5" height="1" fill="#000"/>
<rect x="650" y="286" width="5" height="1" fill="#000"/>
<rect x="663" y="250" width="1" height="19" fill="#000"/>
<rect x="662" y="256" width="3" height="3" fill="#ff0000"/>
<rect x="661" y="250" width="5" height="1" fill="#000"/>
<rect x="661" y="268" width="5" height="1" fill="#000"/>
<rect x="674" y="260" width="1" height="27" fill="#000"/>
<rect x="673" y="262" width="3" height="24" fill="#ff0000"/>
<rect x="672" y="260" width="5" height="1" fill="#000"/>
<rect x="672" y="286" width="5" height="1" fill="#000"/>
<rect x="685" y="284" width="1" height="21" fill="#000"/>
<rect x="684" y="289" width="3" height="6" fill="#00ff00"/>
<rect x="683" y="284" width="5" height="1" fill="#000"/>
<rect x="683" y="304" width="5" height="1" fill="#000"/>
<rect x="696" y="278" width="1" height="15" fill="#000"/>
<rect x="695" y="281" width="3" height="8" fill="#00ff00"/>
<rect x="694" y="278" width="5" height="1" fill="#000"/>
<rect x="694" y="292" width="5" height="1" fill="#000"/>
<rect x="707" y="262" width="1" height="21" fill="#000"/>
<rect x="706" y="271" width="3" height="10" fill="#00ff00"/>
<rect x="705" y="262" width="5" height="1" fill="#000"/>
<rect x="705" y="282" width="5" height="1" fill="#000"/>
<rect x="717" y="274" width="1" height="34" fill="#000"/>
<rect x="716" y="280" width="3" height="26" fill="#ff0000"/>
<rect x="715" y="274" width="5" height="1" fill="#000"/>
<rect x="715" y="307" width="5" height="1" fill="#000"/>
<rect x="728" y="277" width="1" height="34" fill="#000"/>
<rect x="727" y="277" width="3" height="28" fill="#00ff00"/>
<rect x="726" y="277" width="5" height="1" fill="#000"/>
<rect x="726" y="310" width="5" height="1" fill="#000"/>
<rect x="739" y="261" width="1" height="18" fill="#000"/>
<rect x="738" y="264" width="3" height="14" fill="#00ff00"/>
<rect x="737" y="261" width="5" height="1" fill="#000"/>
<rect x="737" y="278" width="5" height="1" fill="#000"/>
<rect x="750" y="254" width="1" height="40" fill="#000"/>
<rect x="749" y="259" width="3" height="11" fill="#ff0000"/>
<rect x="748" y="254" width="5" height="1" fill="#000"/>
<rect x="748" y="293" width="5" height="1" fill="#000"/>
<rect x="761" y="171" width="1" height="61" fill="#000"/>
<rect x="760" y="205" width="3" height="25" fill="#ff0000"/>
<rect x="759" y="171" width="5" height="1" fill="#000"/>
<rect x="759" y="231" width="5" height="1" fill="#000"/>
<rect x="772" y="184" width="1" height="47" fill="#000"/>
<rect x="771" y="200" width="3" height="30" fill="#00ff00"/>
<rect x="770" y="184" width="5" height="1" fill="#000"/>
<rect x="770" y="230" width="5" height="1" fill="#000"/>
<rect x="783" y="173" width="1" height="33" fill="#000"/>
<rect x="782" y="184" width="3" height="20" fill="#00ff00"/>
<rect x="781" y="173" width="5" height="1" fill="#000"/>
<rect x="781" y="205" width="5" height="1" fill="#000"/>
<rect x="794" y="180" width="1" height="23" fill="#000"/>
<rect x="793" y="180" width="3" height="18" fill="#ff0000"/>
<rect x="792" y="180" width="5" height="1" fill="#000"/>
<rect x="792" y="202" width="5" height="1" fill="#000"/>
<rect x="805" y="184" width="1" height="37" fill="#000"/>
<rect x="804" y="198" width="3" height="20" fill="#ff0000"/>
<rect x="803" y="184" width="5" height="1" fill="#000"/>
<rect x="803" y="220" width="5" height="1" fill="#000"/>
<rect x="816" y="166" width="1" height="33" fill="#000"/>
<rect x="815" y="172" width="3" height="23" fill="#ff0000"/>
<rect x="814" y="166" width="5" height="1" fill="#000"/>
<rect x="814" y="198" width="5" height="1" fill="#000"/>
<rect x="827" y="186" width="1" height="32" fill="#000"/>
<rect x="826" y="189" width="3" height="4" fill="#ff0000"/>
<rect x="825" y="186" width="5" height="1" fill="#000"/>
<rect x="825" y="217" width="5" height="1" fill="#000"/>
<rect x="838" y="192" width="1" height="17" fill="#000"/>
<rect x="837" y="192" width="3" height="14" fill="#ff0000"/>
<rect x="836" y="192" width="5" height="1" fill="#000"/>
<rect x="836" y="208" width="5" height="1" fill="#000"/>
<rect x="849" y="202" width="1" height="24" fill="#000"/>
<rect x="848" y="205" width="3" height="8" fill="#ff0000"/>
<rect x="847" y="202" width="5" height="1" fill="#000"/>
<rect x="847" y="225" width="5" height="1" fill="#000"/>
<rect x="860" y="192" width="1" height="22" fill="#000"/>
<rect x="859" y="207" width="3" height="3" fill="#ff0000"/>
<rect x="858" y="192" width="5" height="1" fill="#000"/>
<rect x="858" y="213" width="5" height="1" fill="#000"/>
<rect x="871" y="201" width="1" height="16" fill="#000"/>
<rect x="870" y="207" width="3" height="5" fill="#ff0000"/>
<rect x="869" y="201" width="5" height="1" fill="#000"/>
<rect x="869" y="216" width="5" height="1" fill="#000"/>
<rect x="882" y="193" width="1" height="32" fill="#000"/>
<rect x="881" y="207" width="3" height="12" fill="#ff0000"/>
<rect x="880" y="193" width="5" height="1" fill="#000"/>
<rect x="880" y="224" width="5" height="1" fill="#000"/>
<rect x="892" y="198" width="1" height="25" fill="#000"/>
<rect x="891" y="205" width="3" height="14" fill="#00ff00"/>
<rect x="890" y="198" width="5" height="1" fill="#000"/>
<rect x="890" y="222" width="5" height="1" fill="#000"/>
<rect x="903" y="163" width="1" height="48" fill="#000"/>
<rect x="902" y="172" width="3" height="36" fill="#00ff00"/>
<rect x="901" y="163" width="5" height="1" fill="#000"/>
<rect x="901" y="210" width="5" height="1" fill="#000"/>
<rect x="914" y="130" width="1" height="35" fill="#000"/>
<rect x="913" y="140" width="3" height="23" fill="#00ff00"/>
<rect x="912" y="130" width="5" height="1" fill="#000"/>
<rect x="912" y="164" width="5" height="1" fill="#000"/>
<rect x="925" y="135" width="1" height="36" fill="#000"/>
<rect x="924" y="146" width="3" height="24" fill="#ff0000"/>
<rect x="923" y="135" width="5" height="1" fill="#000"/>
<rect x="923" y="170" width="5" height="1" fill="#000"/>
<rect x="936" y="188" width="1" height="124" fill="#000"/>
<rect x="935" y="204" width="3" height="84" fill="#ff0000"/>
<rect x="934" y="188" width="5" height="1" fill="#000"/>
<rect x="934" y="311" width="5" height="1" fill="#000"/>
<rect x="947" y="239" width="1" height="50" fill="#000"/>
<rect x="946" y="274" width="3" height="11" fill="#00ff00"/>
<rect x="945" y="239" width="5" height="1" fill="#000"/>
<rect x="945" y="288" width="5" height="1" fill="#000"/>
<rect x="958" y="267" width="1" height="47" fill="#000"/>
<rect x="957" y="277" width="3" height="16" fill="#ff0000"/>
<rect x="956" y="267" width="5" height="1" fill="#000"/>
<rect x="956" y="313" width="5" height="1" fill="#000"/>
<rect x="969" y="194" width="1" height="77" fill="#000"/>
<rect x="968" y="203" width="3" height="67" fill="#00ff00"/>
<rect x="967" y="194" width="5" height="1" fill="#000"/>
<rect x="967" y="270" width="5" height="1" fill="#000"/>
<rect x="980" y="176" width="1" height="40" fill="#000"/>
<rect x="979" y="180" width="3" height="21" fill="#00ff00"/>
<rect x="978" y="176" width="5" height="1" fill="#000"/>
<rect x="978" y="215" width="5" height="1" fill="#000"/>
<rect x="991" y="158" width="1" height="51" fill="#000"/>
<rect x="990" y="179" width="3" height="20" fill="#ff0000"/>
<rect x="989" y="158" width="5" height="1" fill="#000"/>
<rect x="989" y="208" width="5" height="1" fill="#000"/>
<rect x="1002" y="198" width="1" height="53" fill="#000"/>
<rect x="1001" y="207" width="3" height="23" fill="#ff0000"/>
<rect x="1000" y="198" width="5" height="1" fill="#000"/>
<rect x="1000" y="250" width="5" height="1" fill="#000"/>
<rect x="1013" y="224" width="1" height="58" fill="#000"/>
<rect x="1012" y="230" width="3" height="50" fill="#ff0000"/>
<rect x="1011" y="224" width="5" height="1" fill="#000"/>
<rect x="1011" y="281" width="5" height="1" fill="#000"/>
<rect x="1024" y="232" width="1" height="39" fill="#000"/>
<rect x="1023" y="245" width="3" height="17" fill="#00ff00"/>
<rect x="1022" y="232" width="5" height="1" fill="#000"/>
<rect x="1022" y="270" width="5" height="1" fill="#000"/>
<rect x="1035" y="204" width="1" height="47" fill="#000"/>
<rect x="1034" y="222" width="3" height="28" fill="#00ff00"/>
<rect x="1033" y="204" width="5" height="1" fill="#000"/>
<rect x="1033" y="250" width="5" height="1" fill="#000"/>
<rect x="1046" y="208" width="1" height="38" fill="#000"/>
<rect x="1045" y="217" width="3" height="5" fill="#ff0000"/>
<rect x="1044" y="208" width="5" height="1" fill="#000"/>
<rect x="1044" y="245" width="5" height="1" fill="#000"/>
<rect x="1057" y="190" width="1" height="34" fill="#000"/>
<rect x="1056" y="203" width="3" height="15" fill="#00ff00"/>
<rect x="1055" y="190" width="5" height="1" fill="#000"/>
<rect x="1055" y="223" width="5" height="1" fill="#000"/>
<rect x="1067" y="137" width="1" height="57" fill="#000"/>
<rect x="1066" y="177" width="3" height="16" fill="#00ff00"/>
<rect x="1065" y="137" width="5" height="1" fill="#000"/>
<rect x="1065" y="193" width="5" height="1" fill="#000"/>
<rect x="1078" y="151" width="1" height="34" fill="#000"/>
<rect x="1077" y="166" width="3" height="13" fill="#00ff00"/>
<rect x="1076" y="151" width="5" height="1" fill="#000"/>
<rect x="1076" y="184" width="5" height="1" fill="#000"/>
<rect x="1089" y="155" width="1" height="26" fill="#000"/>
<rect x="1088" y="159" width="3" height="17" fill="#ff0000"/>
<rect x="1087" y="155" width="5" height="1" fill="#000"/>
<rect x="1087" y="180" width="5" height="1" fill="#000"/>
<rect x="1100" y="158" width="1" height="41" fill="#000"/>
<rect x="1099" y="172" width="3" height="26" fill="#ff0000"/>
<rect x="1098" y="158" width="5" height="1" fill="#000"/>
<rect x="1098" y="198" width="5" height="1" fill="#000"/>
<rect x="1111" y="176" width="1" height="27" fill="#000"/>
<rect x="1110" y="184" width="3" height="9" fill="#00ff00"/>
<rect x="1109" y="176" width="5" height="1" fill="#000"/>
<rect x="1109" y="202" width="5" height="1" fill="#000"/>
<rect x="1122" y="153" width="1" height="31" fill="#000"/>
<rect x="1121" y="153" width="3" height="29" fill="#00ff00"/>
<rect x="1120" y="153" width="5" height="1" fill="#000"/>
<rect x="1120" y="183" width="5" height="1" fill="#000"/>
<rect x="1133" y="144" width="1" height="29" fill="#000"/>
<rect x="1132" y="150" width="3" height="15" fill="#ff0000"/>
<rect x="1131" y="144" width="5" height="1" fill="#000"/>
<rect x="1131" y="172" width="5" height="1" fill="#000"/>
<rect x="1144" y="150" width="1" height="34" fill="#000"/>
<rect x="1143" y="163" width="3" height="5" fill="#ff0000"/>
<rect x="1142" y="150" width="5" height="1" fill="#000"/>
<rect x="1142" y="183" width="5" height="1" fill="#000"/>
</g>
<g shape-rendering="crispEdges">
<rect x="100" y="59" width="1" height="542" fill="#000"/>
<rect x="100" y="600" width="1056" height="1" fill="#000"/>
<rect x="98" y="65" width="5" height="1" fill="#000"/>
<rect x="98" y="90" width="5" height="1" fill="#000"/>
<rect x="98" y="115" width="5" height="1" fill="#000"/>
<rect x="98" y="141" width="5" height="1" fill="#000"/>
<rect x="98" y="166" width="5" height="1" fill="#000"/>
<rect x="98" y="192" width="5" height="1" fill="#000"/>
<rect x="98" y="217" width="5" height="1" fill="#000"/>
<rect x="98" y="243" width="5" height="1" fill="#000"/>
<rect x="98" y="268" width="5" height="1" fill="#000"/>
<rect x="98" y="294" width="5" height="1" fill="#000"/>
<rect x="98" y="319" width="5" height="1" fill="#000"/>
<rect x="98" y="345" width="5" height="1" fill="#000"/>
<rect x="98" y="370" width="5" height="1" fill="#000"/>
<rect x="98" y="396" width="5" height="1" fill="#000"/>
<rect x="98" y="421" width="5" height="1" fill="#000"/>
<rect x="98" y="447" width="5" height="1" fill="#000"/>
<rect x="98" y="472" width="5" height="1" fill="#000"/>
<rect x="98" y="498" width="5" height="1" fill="#000"/>
<rect x="98" y="523" width="5" height="1" fill="#000"/>
<rect x="98" y="549" width="5" height="1" fill="#000"/>
<rect x="98" y="574" width="5" height="1" fill="#000"/>
<rect x="98" y="600" width="5" height="1" fill="#000"/>
<rect x="98" y="587" width="3" height="1" fill="#f00"/>
<rect x="98" y="561" width="3" height="1" fill="#f00"/>
<rect x="98" y="536" width="3" height="1" fill="#f00"/>
<rect x="98" y="510" width="3" height="1" fill="#f00"/>
<rect x="98" y="485" width="3" height="1" fill="#f00"/>
<rect x="98" y="459" width="3" height="1" fill="#f00"/>
<rect x="98" y="434" width="3" height="1" fill="#f00"/>
<rect x="98" y="408" width="3" height="1" fill="#f00"/>
<rect x="98" y="383" width="3" height="1" fill="#f00"/>
<rect x="98" y="357" width="3" height="1" fill="#f00"/>
<rect x="98" y="332" width="3" height="1" fill="#f00"/>
<rect x="98" y="307" width="3" height="1" fill="#f00"/>
<rect x="98" y="281" width="3" height="1" fill="#f00"/>
<rect x="98" y="256" width="3" height="1" fill="#f00"/>
<rect x="98" y="230" width="3" height="1" fill="#f00"/>
<rect x="98" y="205" width="3" height="1" fill="#f00"/>
<rect x="98" y="179" width="3" height="1" fill="#f00"/>
<rect x="98" y="154" width="3" height="1" fill="#f00"/>
<rect x="98" y="128" width="3" height="1" fill="#f00"/>
<rect x="98" y="103" width="3" height="1" fill="#f00"/>
<rect x="98" y="77" width="3" height="1" fill="#f00"/>
<rect x="105" y="598" width="1" height="6" fill="#000"/>
<rect x="116" y="601" width="1" height="2" fill="#bbb"/>
<rect x="127" y="601" width="1" height="2" fill="#bbb"/>
<rect x="138" y="601" width="1" height="2" fill="#bbb"/>
<rect x="149" y="601" width="1" height="2" fill="#bbb"/>
<rect x="160" y="598" width="1" height="6" fill="#000"/>
<rect x="171" y="601" width="1" height="2" fill="#bbb"/>
<rect x="182" y="601" width="1" height="2" fill="#bbb"/>
<rect x="192" y="601" width="1" height="2" fill="#bbb"/>
<rect x="203" y="601" width="1" height="2" fill="#bbb"/>
<rect x="214" y="598" width="1" height="6" fill="#000"/>
<rect x="225" y="601" width="1" height="2" fill="#bbb"/>
<rect x="236" y="601" width="1" height="2" fill="#bbb"/>
<rect x="247" y="601" width="1" height="2" fill="#bbb"/>
<rect x="258" y="601" width="1" height="2" fill="#bbb"/>
<rect x="269" y="598" width="1" height="6" fill="#000"/>
<rect x="280" y="601" width="1" height="2" fill="#bbb"/>
<rect x="291" y="601" width="1" height="2" fill="#bbb"/>
<rect x="302" y="601" width="1" height="2" fill="#bbb"/>
<rect x="313" y="601" width="1" height="2" fill="#bbb"/>
<rect x="324" y="598" width="1" height="6" fill="#000"/>
<rect x="335" y="601" width="1" height="2" fill="#bbb"/>
<rect x="346" y="601" width="1" height="2" fill="#bbb"/>
<rect x="357" y="601" width="1" height="2" fill="#bbb"/>
<rect x="367" y="601" width="1" height="2" fill="#bbb"/>
<rect x="378" y="598" width="1" height="6" fill="#000"/>
<rect x="389" y="601" width="1" height="2" fill="#bbb"/>
<rect x="400" y="601" width="1" height="2" fill="#bbb"/>
<rect x="411" y="601" width="1" height="2" fill="#bbb"/>
<rect x="422" y="601" width="1" height="2" fill="#bbb"/>
<rect x="433" y="598" width="1" height="6" fill="#000"/>
<rect x="444" y="601" width="1" height="2" fill="#bbb"/>
<rect x="455" y="601" width="1" height="2" fill="#bbb"/>
<rect x="466" y="601" width="1" height="2" fill="#bbb"/>
<rect x="477" y="601" width="1" height="2" fill="#bbb"/>
<rect x="488" y="598" width="1" height="6" fill="#000"/>
<rect x="499" y="601" width="1" height="2" fill="#bbb"/>
<rect x="510" y="601" width="1" height="2" fill="#bbb"/>
<rect x="521" y="601" width="1" height="2" fill="#bbb"/>
<rect x="532" y="601" width="1" height="2" fill="#bbb"/>
<rect x="542" y="598" width="1" height="6" fill="#000"/>
<rect x="553" y="601" width="1" height="2" fill="#bbb"/>
<rect x="564" y="601" width="1" height="2" fill="#bbb"/>
<rect x="575" y="601" width="1" height="2" fill="#bbb"/>
<rect x="586" y="601" width="1" height="2" fill="#bbb"/>
<rect x="597" y="598" width="1" height="6" fill="#000"/>
<rect x="608" y="601" width="1" height="2" fill="#bbb"/>
<rect x="619" y="601" width="1" height="2" fill="#bbb"/>
<rect x="630" y="601" width="1" height="2" fill="#bbb"/>
<rect x="641" y="601" width="1" height="2" fill="#bbb"/>
<rect x="652" y="598" width="1" height="6" fill="#000"/>
<rect x="663" y="601" width="1" height="2" fill="#bbb"/>
<rect x="674" y="601" width="1" height="2" fill="#bbb"/>
<rect x="685" y="601" width="1" height="2" fill="#bbb"/>
<rect x="696" y="601" width="1" height="2" fill="#bbb"/>
<rect x="707" y="598" width="1" height="6" fill="#000"/>
<rect x="717" y="601" width="1" height="2" fill="#bbb"/>
<rect x="728" y="601" width="1" height="2" fill="#bbb"/>
<rect x="739" y="601" width="1" height="2" fill="#bbb"/>
<rect x="750" y="601" width="1" height="2" fill="#bbb"/>
<rect x="761" y="598" width="1" height="6" fill="#000"/>
<rect x="772" y="601" width="1" height="2" fill="#bbb"/>
<rect x="783" y="601" width="1" height="2" fill="#bbb"/>
<rect x="794" y="601" width="1" height="2" fill="#bbb"/>
<rect x="805" y="601" width="1" height="2" fill="#bbb"/>
<rect x="816" y="598" width="1" height="6" fill="#000"/>
<rect x="827" y="601" width="1" height="2" fill="#bbb"/>
<rect x="838" y="601" width="1" height="2" fill="#bbb"/>
<rect x="849" y="601" width="1" height="2" fill="#bbb"/>
<rect x="860" y="601" width="1" height="2" fill="#bbb"/>
<rect x="871" y="598" width="1" height="6" fill="#000"/>
<rect x="882" y="601" width="1" height="2" fill="#bbb"/>
<rect x="892" y="601" width="1" height="2" fill="#bbb"/>
<rect x="903" y="601" width="1" height="2" fill="#bbb"/>
<rect x="914" y="601" width="1" height="2" fill="#bbb"/>
<rect x="925" y="598" width="1" height="6" fill="#000"/>
<rect x="936" y="601" width="1" height="2" fill="#bbb"/>
<rect x="947" y="601" width="1" height="2" fill="#bbb"/>
<rect x="958" y="601" width="1" height="2" fill="#bbb"/>
<rect x="969" y="601" width="1" height="2" fill="#bbb"/>
<rect x="980" y="598" width="1" height="6" fill="#000"/>
<rect x="991" y="601" width="1" height="2" fill="#bbb"/>
<rect x="1002" y="601" width="1" height="2" fill="#bbb"/>
<rect x="1013" y="601" width="1" height="2" fill="#bbb"/>
<rect x="1024" y="601" width="1" height="2" fill="#bbb"/>
<rect x="1035" y="598" width="1" height="6" fill="#000"/>
<rect x="1046" y="601" width="1" height="2" fill="#bbb"/>
<rect x="1057" y="601" width="1" height="2" fill="#bbb"/>
<rect x="1067" y="601" width="1" height="2" fill="#bbb"/>
<rect x="1078" y="601" width="1" height="2" fill="#bbb"/>
<rect x="1089" y="598" width="1" height="6" fill="#000"/>
<rect x="1100" y="601" width="1" height="2" fill="#bbb"/>
<rect x="1111" y="601" width="1" height="2" fill="#bbb"/>
<rect x="1122" y="601" width="1" height="2" fill="#bbb"/>
<rect x="1133" y="601" width="1" height="2" fill="#bbb"/>
<rect x="1144" y="598" width="1" height="6" fill="#000"/>
</g>
<path d="M100.5 53.0 L97 60.0 L104 60.0 Z" fill="#000"/>
<path d="M1162.5 600.5 L1155 597.0 L1155 604.0 Z" fill="#000"/>
<text x="98.00" y="69.40" font-size="11" text-anchor="end" textLength="30.50" lengthAdjust="spacingAndGlyphs" fill="#000">65.00</text>
<text x="98.00" y="94.40" font-size="11" text-anchor="end" textLength="30.50" lengthAdjust="spacingAndGlyphs" fill="#000">64.00</text>
<text x="98.00" y="119.40" font-size="11" text-anchor="end" textLength="30.50" lengthAdjust="spacingAndGlyphs" fill="#000">63.00</text>
<text x="98.00" y="145.40" font-size="11" text-anchor="end" textLength="30.50" lengthAdjust="spacingAndGlyphs" fill="#000">62.00</text>
<text x="98.00" y="170.40" font-size="11" text-anchor="end" textLength="30.50" lengthAdjust="spacingAndGlyphs" fill="#000">61.00</text>
<text x="98.00" y="196.40" font-size="11" text-anchor="end" textLength="30.50" lengthAdjust="spacingAndGlyphs" fill="#000">60.00</text>
<text x="98.00" y="221.40" font-size="11" text-anchor="end" textLength="30.50" lengthAdjust="spacingAndGlyphs" fill="#000">59.00</text>
<text x="98.00" y="247.40" font-size="11" text-anchor="end" textLength="30.50" lengthAdjust="spacingAndGlyphs" fill="#000">58.00</text>
<text x="98.00" y="272.40" font-size="11" text-anchor="end" textLength="30.50" lengthAdjust="spacingAndGlyphs" fill="#000">57.00</text>
<text x="98.00" y="298.40" font-size="11" text-anchor="end" textLength="30.50" lengthAdjust="spacingAndGlyphs" fill="#000">56.00</text>
<text x="98.00" y="323.40" font-size="11" text-anchor="end" textLength="30.50" lengthAdjust="spacingAndGlyphs" fill="#000">55.00</text>
<text x="98.00" y="349.40" font-size="11" text-anchor="end" textLength="30.50" lengthAdjust="spacingAndGlyphs" fill="#000">54.00</text>
<text x="98.00" y="374.40" font-size="11" text-anchor="end" textLength="30.50" lengthAdjust="spacingAndGlyphs" fill="#000">53.00</text>
<text x="98.00" y="400.40" font-size="11" text-anchor="end" textLength="30.50" lengthAdjust="spacingAndGlyphs" fill="#000">52.00</text>
<text x="98.00" y="425.40" font-size="11" text-anchor="end" textLength="30.50" lengthAdjust="spacingAndGlyphs" fill="#000">51.00</text>
<text x="98.00" y="451.40" font-size="11" text-anchor="end" textLength="30.50" lengthAdjust="spacingAndGlyphs" fill="#000">50.00</text>
<text x="98.00" y="476.40" font-size="11" text-anchor="end" textLength="30.50" lengthAdjust="spacingAndGlyphs" fill="#000">49.00</text>
<text x="98.00" y="502.40" font-size="11" text-anchor="end" textLength="30.50" lengthAdjust="spacingAndGlyphs" fill="#000">48.00</text>
<text x="98.00" y="527.40" font-size="11" text-anchor="end" textLength="30.50" lengthAdjust="spacingAndGlyphs" fill="#000">47.00</text>
<text x="98.00" y="553.40" font-size="11" text-anchor="end" textLength="30.50" lengthAdjust="spacingAndGlyphs" fill="#000">46.00</text>
<text x="98.00" y="578.40" font-size="11" text-anchor="end" textLength="30.50" lengthAdjust="spacingAndGlyphs" fill="#000">45.00</text>
<text x="98.00" y="604.40" font-size="11" text-anchor="end" textLength="30.50" lengthAdjust="spacingAndGlyphs" fill="#000">44.00</text>
<text x="107.00" y="613.75" font-size="11" text-anchor="middle" textLength="29.55" lengthAdjust="spacingAndGlyphs" fill="#000">8 Mai</text>
<text x="161.69" y="613.75" font-size="11" text-anchor="middle" textLength="36.30" lengthAdjust="spacingAndGlyphs" fill="#000">15 Mai</text>
<text x="216.37" y="613.75" font-size="11" text-anchor="middle" textLength="36.55" lengthAdjust="spacingAndGlyphs" fill="#000">22 Mai</text>
<text x="271.05" y="613.75" font-size="11" text-anchor="middle" textLength="36.55" lengthAdjust="spacingAndGlyphs" fill="#000">29 Mai</text>
<text x="325.74" y="613.75" font-size="11" text-anchor="middle" textLength="32.58" lengthAdjust="spacingAndGlyphs" fill="#000">5 Juin</text>
<text x="380.43" y="613.75" font-size="11" text-anchor="middle" textLength="39.37" lengthAdjust="spacingAndGlyphs" fill="#000">12 Juin</text>
<text x="435.11" y="613.75" font-size="11" text-anchor="middle" textLength="39.37" lengthAdjust="spacingAndGlyphs" fill="#000">19 Juin</text>
<text x="489.79" y="613.75" font-size="11" text-anchor="middle" textLength="39.37" lengthAdjust="spacingAndGlyphs" fill="#000">26 Juin</text>
<text x="544.48" y="613.75" font-size="11" text-anchor="middle" textLength="28.30" lengthAdjust="spacingAndGlyphs" fill="#000">3 Juil</text>
<text x="599.16" y="613.75" font-size="11" text-anchor="middle" textLength="35.80" lengthAdjust="spacingAndGlyphs" fill="#000">10 Juil</text>
<text x="653.85" y="613.75" font-size="11" text-anchor="middle" textLength="35.30" lengthAdjust="spacingAndGlyphs" fill="#000">17 Juil</text>
<text x="708.53" y="613.75" font-size="11" text-anchor="middle" textLength="35.30" lengthAdjust="spacingAndGlyphs" fill="#000">24 Juil</text>
<text x="763.22" y="613.75" font-size="11" text-anchor="middle" textLength="35.30" lengthAdjust="spacingAndGlyphs" fill="#000">31 Juil</text>
<text x="817.90" y="614.50" font-size="11" text-anchor="middle" textLength="34.63" lengthAdjust="spacingAndGlyphs" fill="#000">7 Août</text>
<text x="872.59" y="614.50" font-size="11" text-anchor="middle" textLength="41.42" lengthAdjust="spacingAndGlyphs" fill="#000">14 Août</text>
<text x="927.27" y="614.50" font-size="11" text-anchor="middle" textLength="44.55" lengthAdjust="spacingAndGlyphs" fill="#000">21 Août</text>
<text x="981.96" y="614.50" font-size="11" text-anchor="middle" textLength="44.55" lengthAdjust="spacingAndGlyphs" fill="#000">28 Août</text>
<text x="1036.64" y="612.75" font-size="11" text-anchor="middle" textLength="38.05" lengthAdjust="spacingAndGlyphs" fill="#000">4 Sept</text>
<text x="1091.33" y="612.75" font-size="11" text-anchor="middle" textLength="44.30" lengthAdjust="spacingAndGlyphs" fill="#000">11 Sept</text>
<text x="1146.01" y="612.75" font-size="11" text-anchor="middle" textLength="44.55" lengthAdjust="spacingAndGlyphs" fill="#000">18 Sept</text>
<text x="627.00" y="627.00" font-size="11" text-anchor="middle" textLength="254.75" lengthAdjust="spacingAndGlyphs" fill="#000">Date (du 8 Mai 2015 au 18 Septembre 2015)</text>
<text x="61.25" y="329.70" font-size="11" text-anchor="middle" textLength="72.00" lengthAdjust="spacingAndGlyphs" fill="#000" transform="rotate(-90 61.25 329.7)">Cours (Euro)</text>
<text x="111.80" y="34.25" font-size="25" text-anchor="start" textLength="75.15" lengthAdjust="spacingAndGlyphs" fill="#000">Ipsen:</text>
<text x="196.30" y="34.25" font-size="25" text-anchor="start" textLength="119.90" lengthAdjust="spacingAndGlyphs" fill="#000">graphique</text>
<text x="323.30" y="34.25" font-size="25" text-anchor="start" textLength="29.15" lengthAdjust="spacingAndGlyphs" fill="#000">du</text>
<text x="360.80" y="34.25" font-size="25" text-anchor="start" textLength="66.15" lengthAdjust="spacingAndGlyphs" fill="#000">cours</text>
<rect x="437.70" y="25.75" width="7.60" height="2.3" fill="#000"/>
<text x="454.30" y="34.25" font-size="25" text-anchor="start" textLength="208.65" lengthAdjust="spacingAndGlyphs" fill="#000">AnalyBourse.com</text>
<rect x="550.15" y="50.2" width="6.2" height="6.2" fill="#c86464"/>
<text x="560.75" y="56.25" font-size="11" text-anchor="start" textLength="54.25" lengthAdjust="spacingAndGlyphs" fill="#000">Support 1</text>
<rect x="619.40" y="50.2" width="6.2" height="6.2" fill="#b46464"/>
<text x="629.50" y="56.25" font-size="11" text-anchor="start" textLength="55.00" lengthAdjust="spacingAndGlyphs" fill="#000">Support 2</text>
<rect x="688.40" y="50.2" width="6.2" height="6.2" fill="#64c864"/>
<text x="698.75" y="58.00" font-size="11" text-anchor="start" textLength="70.00" lengthAdjust="spacingAndGlyphs" fill="#000">Résistance 1</text>
<rect x="773.15" y="50.2" width="6.2" height="6.2" fill="#64b464"/>
<text x="783.75" y="58.00" font-size="11" text-anchor="start" textLength="70.00" lengthAdjust="spacingAndGlyphs" fill="#000">Résistance 2</text>
<rect x="858.15" y="50.2" width="6.2" height="6.2" fill="#649664"/>
<text x="868.25" y="58.00" font-size="11" text-anchor="start" textLength="71.25" lengthAdjust="spacingAndGlyphs" fill="#000">Résistance 3</text>
<rect x="943.15" y="50.2" width="6.2" height="6.2" fill="#6464ff"/>
<text x="953.75" y="56.75" font-size="11" text-anchor="start" textLength="30.50" lengthAdjust="spacingAndGlyphs" fill="#000">MM20</text>
<rect x="988.15" y="50.2" width="6.2" height="6.2" fill="#b464ff"/>
<text x="998.25" y="56.75" font-size="11" text-anchor="start" textLength="30.50" lengthAdjust="spacingAndGlyphs" fill="#000">MM50</text>
<rect x="1032.65" y="50.2" width="6.2" height="6.2" fill="#ff64ff"/>
<text x="1043.25" y="56.75" font-size="11" text-anchor="start" textLength="38.00" lengthAdjust="spacingAndGlyphs" fill="#000">MM100</text>
<rect x="102" y="726" width="1049" height="42" fill="#f8f8f8" shape-rendering="crispEdges"/>
<rect x="102" y="813" width="1049" height="43" fill="#f8f8f8" shape-rendering="crispEdges"/>
<g shape-rendering="crispEdges" fill="none">
<line x1="105.5" y1="724.0" x2="105.5" y2="900.0" stroke="#000" stroke-opacity="0.115" stroke-dasharray="4 4"/>
<line x1="116.5" y1="724.0" x2="116.5" y2="900.0" stroke="#000" stroke-opacity="0.022" stroke-dasharray="6 6"/>
<line x1="127.5" y1="724.0" x2="127.5" y2="900.0" stroke="#000" stroke-opacity="0.022" stroke-dasharray="6 6"/>
<line x1="138.5" y1="724.0" x2="138.5" y2="900.0" stroke="#000" stroke-opacity="0.022" stroke-dasharray="6 6"/>
<line x1="149.5" y1="724.0" x2="149.5" y2="900.0" stroke="#000" stroke-opacity="0.022" stroke-dasharray="6 6"/>
<line x1="160.5" y1="724.0" x2="160.5" y2="900.0" stroke="#000" stroke-opacity="0.115" stroke-dasharray="4 4"/>
<line x1="171.5" y1="724.0" x2="171.5" y2="900.0" stroke="#000" stroke-opacity="0.022" stroke-dasharray="6 6"/>
<line x1="182.5" y1="724.0" x2="182.5" y2="900.0" stroke="#000" stroke-opacity="0.022" stroke-dasharray="6 6"/>
<line x1="192.5" y1="724.0" x2="192.5" y2="900.0" stroke="#000" stroke-opacity="0.022" stroke-dasharray="6 6"/>
<line x1="203.5" y1="724.0" x2="203.5" y2="900.0" stroke="#000" stroke-opacity="0.022" stroke-dasharray="6 6"/>
<line x1="214.5" y1="724.0" x2="214.5" y2="900.0" stroke="#000" stroke-opacity="0.115" stroke-dasharray="4 4"/>
<line x1="225.5" y1="724.0" x2="225.5" y2="900.0" stroke="#000" stroke-opacity="0.022" stroke-dasharray="6 6"/>
<line x1="236.5" y1="724.0" x2="236.5" y2="900.0" stroke="#000" stroke-opacity="0.022" stroke-dasharray="6 6"/>
<line x1="247.5" y1="724.0" x2="247.5" y2="900.0" stroke="#000" stroke-opacity="0.022" stroke-dasharray="6 6"/>
<line x1="258.5" y1="724.0" x2="258.5" y2="900.0" stroke="#000" stroke-opacity="0.022" stroke-dasharray="6 6"/>
<line x1="269.5" y1="724.0" x2="269.5" y2="900.0" stroke="#000" stroke-opacity="0.115" stroke-dasharray="4 4"/>
<line x1="280.5" y1="724.0" x2="280.5" y2="900.0" stroke="#000" stroke-opacity="0.022" stroke-dasharray="6 6"/>
<line x1="291.5" y1="724.0" x2="291.5" y2="900.0" stroke="#000" stroke-opacity="0.022" stroke-dasharray="6 6"/>
<line x1="302.5" y1="724.0" x2="302.5" y2="900.0" stroke="#000" stroke-opacity="0.022" stroke-dasharray="6 6"/>
<line x1="313.5" y1="724.0" x2="313.5" y2="900.0" stroke="#000" stroke-opacity="0.022" stroke-dasharray="6 6"/>
<line x1="324.5" y1="724.0" x2="324.5" y2="900.0" stroke="#000" stroke-opacity="0.115" stroke-dasharray="4 4"/>
<line x1="335.5" y1="724.0" x2="335.5" y2="900.0" stroke="#000" stroke-opacity="0.022" stroke-dasharray="6 6"/>
<line x1="346.5" y1="724.0" x2="346.5" y2="900.0" stroke="#000" stroke-opacity="0.022" stroke-dasharray="6 6"/>
<line x1="357.5" y1="724.0" x2="357.5" y2="900.0" stroke="#000" stroke-opacity="0.022" stroke-dasharray="6 6"/>
<line x1="367.5" y1="724.0" x2="367.5" y2="900.0" stroke="#000" stroke-opacity="0.022" stroke-dasharray="6 6"/>
<line x1="378.5" y1="724.0" x2="378.5" y2="900.0" stroke="#000" stroke-opacity="0.115" stroke-dasharray="4 4"/>
<line x1="389.5" y1="724.0" x2="389.5" y2="900.0" stroke="#000" stroke-opacity="0.022" stroke-dasharray="6 6"/>
<line x1="400.5" y1="724.0" x2="400.5" y2="900.0" stroke="#000" stroke-opacity="0.022" stroke-dasharray="6 6"/>
<line x1="411.5" y1="724.0" x2="411.5" y2="900.0" stroke="#000" stroke-opacity="0.022" stroke-dasharray="6 6"/>
<line x1="422.5" y1="724.0" x2="422.5" y2="900.0" stroke="#000" stroke-opacity="0.022" stroke-dasharray="6 6"/>
<line x1="433.5" y1="724.0" x2="433.5" y2="900.0" stroke="#000" stroke-opacity="0.115" stroke-dasharray="4 4"/>
<line x1="444.5" y1="724.0" x2="444.5" y2="900.0" stroke="#000" stroke-opacity="0.022" stroke-dasharray="6 6"/>
<line x1="455.5" y1="724.0" x2="455.5" y2="900.0" stroke="#000" stroke-opacity="0.022" stroke-dasharray="6 6"/>
<line x1="466.5" y1="724.0" x2="466.5" y2="900.0" stroke="#000" stroke-opacity="0.022" stroke-dasharray="6 6"/>
<line x1="477.5" y1="724.0" x2="477.5" y2="900.0" stroke="#000" stroke-opacity="0.022" stroke-dasharray="6 6"/>
<line x1="488.5" y1="724.0" x2="488.5" y2="900.0" stroke="#000" stroke-opacity="0.115" stroke-dasharray="4 4"/>
<line x1="499.5" y1="724.0" x2="499.5" y2="900.0" stroke="#000" stroke-opacity="0.022" stroke-dasharray="6 6"/>
<line x1="510.5" y1="724.0" x2="510.5" y2="900.0" stroke="#000" stroke-opacity="0.022" stroke-dasharray="6 6"/>
<line x1="521.5" y1="724.0" x2="521.5" y2="900.0" stroke="#000" stroke-opacity="0.022" stroke-dasharray="6 6"/>
<line x1="532.5" y1="724.0" x2="532.5" y2="900.0" stroke="#000" stroke-opacity="0.022" stroke-dasharray="6 6"/>
<line x1="542.5" y1="724.0" x2="542.5" y2="900.0" stroke="#000" stroke-opacity="0.115" stroke-dasharray="4 4"/>
<line x1="553.5" y1="724.0" x2="553.5" y2="900.0" stroke="#000" stroke-opacity="0.022" stroke-dasharray="6 6"/>
<line x1="564.5" y1="724.0" x2="564.5" y2="900.0" stroke="#000" stroke-opacity="0.022" stroke-dasharray="6 6"/>
<line x1="575.5" y1="724.0" x2="575.5" y2="900.0" stroke="#000" stroke-opacity="0.022" stroke-dasharray="6 6"/>
<line x1="586.5" y1="724.0" x2="586.5" y2="900.0" stroke="#000" stroke-opacity="0.022" stroke-dasharray="6 6"/>
<line x1="597.5" y1="724.0" x2="597.5" y2="900.0" stroke="#000" stroke-opacity="0.115" stroke-dasharray="4 4"/>
<line x1="608.5" y1="724.0" x2="608.5" y2="900.0" stroke="#000" stroke-opacity="0.022" stroke-dasharray="6 6"/>
<line x1="619.5" y1="724.0" x2="619.5" y2="900.0" stroke="#000" stroke-opacity="0.022" stroke-dasharray="6 6"/>
<line x1="630.5" y1="724.0" x2="630.5" y2="900.0" stroke="#000" stroke-opacity="0.022" stroke-dasharray="6 6"/>
<line x1="641.5" y1="724.0" x2="641.5" y2="900.0" stroke="#000" stroke-opacity="0.022" stroke-dasharray="6 6"/>
<line x1="652.5" y1="724.0" x2="652.5" y2="900.0" stroke="#000" stroke-opacity="0.115" stroke-dasharray="4 4"/>
<line x1="663.5" y1="724.0" x2="663.5" y2="900.0" stroke="#000" stroke-opacity="0.022" stroke-dasharray="6 6"/>
<line x1="674.5" y1="724.0" x2="674.5" y2="900.0" stroke="#000" stroke-opacity="0.022" stroke-dasharray="6 6"/>
<line x1="685.5" y1="724.0" x2="685.5" y2="900.0" stroke="#000" stroke-opacity="0.022" stroke-dasharray="6 6"/>
<line x1="696.5" y1="724.0" x2="696.5" y2="900.0" stroke="#000" stroke-opacity="0.022" stroke-dasharray="6 6"/>
<line x1="707.5" y1="724.0" x2="707.5" y2="900.0" stroke="#000" stroke-opacity="0.115" stroke-dasharray="4 4"/>
<line x1="717.5" y1="724.0" x2="717.5" y2="900.0" stroke="#000" stroke-opacity="0.022" stroke-dasharray="6 6"/>
<line x1="728.5" y1="724.0" x2="728.5" y2="900.0" stroke="#000" stroke-opacity="0.022" stroke-dasharray="6 6"/>
<line x1="739.5" y1="724.0" x2="739.5" y2="900.0" stroke="#000" stroke-opacity="0.022" stroke-dasharray="6 6"/>
<line x1="750.5" y1="724.0" x2="750.5" y2="900.0" stroke="#000" stroke-opacity="0.022" stroke-dasharray="6 6"/>
<line x1="761.5" y1="724.0" x2="761.5" y2="900.0" stroke="#000" stroke-opacity="0.115" stroke-dasharray="4 4"/>
<line x1="772.5" y1="724.0" x2="772.5" y2="900.0" stroke="#000" stroke-opacity="0.022" stroke-dasharray="6 6"/>
<line x1="783.5" y1="724.0" x2="783.5" y2="900.0" stroke="#000" stroke-opacity="0.022" stroke-dasharray="6 6"/>
<line x1="794.5" y1="724.0" x2="794.5" y2="900.0" stroke="#000" stroke-opacity="0.022" stroke-dasharray="6 6"/>
<line x1="805.5" y1="724.0" x2="805.5" y2="900.0" stroke="#000" stroke-opacity="0.022" stroke-dasharray="6 6"/>
<line x1="816.5" y1="724.0" x2="816.5" y2="900.0" stroke="#000" stroke-opacity="0.115" stroke-dasharray="4 4"/>
<line x1="827.5" y1="724.0" x2="827.5" y2="900.0" stroke="#000" stroke-opacity="0.022" stroke-dasharray="6 6"/>
<line x1="838.5" y1="724.0" x2="838.5" y2="900.0" stroke="#000" stroke-opacity="0.022" stroke-dasharray="6 6"/>
<line x1="849.5" y1="724.0" x2="849.5" y2="900.0" stroke="#000" stroke-opacity="0.022" stroke-dasharray="6 6"/>
<line x1="860.5" y1="724.0" x2="860.5" y2="900.0" stroke="#000" stroke-opacity="0.022" stroke-dasharray="6 6"/>
<line x1="871.5" y1="724.0" x2="871.5" y2="900.0" stroke="#000" stroke-opacity="0.115" stroke-dasharray="4 4"/>
<line x1="882.5" y1="724.0" x2="882.5" y2="900.0" stroke="#000" stroke-opacity="0.022" stroke-dasharray="6 6"/>
<line x1="892.5" y1="724.0" x2="892.5" y2="900.0" stroke="#000" stroke-opacity="0.022" stroke-dasharray="6 6"/>
<line x1="903.5" y1="724.0" x2="903.5" y2="900.0" stroke="#000" stroke-opacity="0.022" stroke-dasharray="6 6"/>
<line x1="914.5" y1="724.0" x2="914.5" y2="900.0" stroke="#000" stroke-opacity="0.022" stroke-dasharray="6 6"/>
<line x1="925.5" y1="724.0" x2="925.5" y2="900.0" stroke="#000" stroke-opacity="0.115" stroke-dasharray="4 4"/>
<line x1="936.5" y1="724.0" x2="936.5" y2="900.0" stroke="#000" stroke-opacity="0.022" stroke-dasharray="6 6"/>
<line x1="947.5" y1="724.0" x2="947.5" y2="900.0" stroke="#000" stroke-opacity="0.022" stroke-dasharray="6 6"/>
<line x1="958.5" y1="724.0" x2="958.5" y2="900.0" stroke="#000" stroke-opacity="0.022" stroke-dasharray="6 6"/>
<line x1="969.5" y1="724.0" x2="969.5" y2="900.0" stroke="#000" stroke-opacity="0.022" stroke-dasharray="6 6"/>
<line x1="980.5" y1="724.0" x2="980.5" y2="900.0" stroke="#000" stroke-opacity="0.115" stroke-dasharray="4 4"/>
<line x1="991.5" y1="724.0" x2="991.5" y2="900.0" stroke="#000" stroke-opacity="0.022" stroke-dasharray="6 6"/>
<line x1="1002.5" y1="724.0" x2="1002.5" y2="900.0" stroke="#000" stroke-opacity="0.022" stroke-dasharray="6 6"/>
<line x1="1013.5" y1="724.0" x2="1013.5" y2="900.0" stroke="#000" stroke-opacity="0.022" stroke-dasharray="6 6"/>
<line x1="1024.5" y1="724.0" x2="1024.5" y2="900.0" stroke="#000" stroke-opacity="0.022" stroke-dasharray="6 6"/>
<line x1="1035.5" y1="724.0" x2="1035.5" y2="900.0" stroke="#000" stroke-opacity="0.115" stroke-dasharray="4 4"/>
<line x1="1046.5" y1="724.0" x2="1046.5" y2="900.0" stroke="#000" stroke-opacity="0.022" stroke-dasharray="6 6"/>
<line x1="1057.5" y1="724.0" x2="1057.5" y2="900.0" stroke="#000" stroke-opacity="0.022" stroke-dasharray="6 6"/>
<line x1="1067.5" y1="724.0" x2="1067.5" y2="900.0" stroke="#000" stroke-opacity="0.022" stroke-dasharray="6 6"/>
<line x1="1078.5" y1="724.0" x2="1078.5" y2="900.0" stroke="#000" stroke-opacity="0.022" stroke-dasharray="6 6"/>
<line x1="1089.5" y1="724.0" x2="1089.5" y2="900.0" stroke="#000" stroke-opacity="0.115" stroke-dasharray="4 4"/>
<line x1="1100.5" y1="724.0" x2="1100.5" y2="900.0" stroke="#000" stroke-opacity="0.022" stroke-dasharray="6 6"/>
<line x1="1111.5" y1="724.0" x2="1111.5" y2="900.0" stroke="#000" stroke-opacity="0.022" stroke-dasharray="6 6"/>
<line x1="1122.5" y1="724.0" x2="1122.5" y2="900.0" stroke="#000" stroke-opacity="0.022" stroke-dasharray="6 6"/>
<line x1="1133.5" y1="724.0" x2="1133.5" y2="900.0" stroke="#000" stroke-opacity="0.022" stroke-dasharray="6 6"/>
<line x1="1144.5" y1="724.0" x2="1144.5" y2="900.0" stroke="#000" stroke-opacity="0.115" stroke-dasharray="4 4"/>
<line x1="99" y1="725.5" x2="1151" y2="725.5" stroke="#000" stroke-opacity="0.115" stroke-dasharray="4 4"/>
<line x1="99" y1="768.5" x2="1151" y2="768.5" stroke="#000" stroke-opacity="0.115" stroke-dasharray="4 4"/>
<line x1="99" y1="812.5" x2="1151" y2="812.5" stroke="#000" stroke-opacity="0.115" stroke-dasharray="4 4"/>
<line x1="99" y1="856.5" x2="1151" y2="856.5" stroke="#000" stroke-opacity="0.115" stroke-dasharray="4 4"/>
</g>
<g shape-rendering="crispEdges">
<rect x="101" y="841" width="9" height="59" fill="#55fa55" fill-opacity="0.96"/>
<rect x="112" y="858" width="9" height="42" fill="#ff5555" fill-opacity="0.96"/>
<rect x="123" y="847" width="8" height="53" fill="#55fa55" fill-opacity="0.96"/>
<rect x="134" y="826" width="8" height="74" fill="#ff5555" fill-opacity="0.96"/>
<rect x="145" y="829" width="8" height="71" fill="#55fa55" fill-opacity="0.96"/>
<rect x="156" y="831" width="8" height="69" fill="#ff5555" fill-opacity="0.96"/>
<rect x="167" y="812" width="8" height="88" fill="#ff5555" fill-opacity="0.96"/>
<rect x="178" y="841" width="8" height="59" fill="#55fa55" fill-opacity="0.96"/>
<rect x="189" y="846" width="8" height="54" fill="#55fa55" fill-opacity="0.96"/>
<rect x="200" y="862" width="8" height="38" fill="#ff5555" fill-opacity="0.96"/>
<rect x="211" y="872" width="8" height="28" fill="#55fa55" fill-opacity="0.96"/>
<rect x="222" y="884" width="8" height="16" fill="#ff5555" fill-opacity="0.96"/>
<rect x="233" y="859" width="8" height="41" fill="#ff5555" fill-opacity="0.96"/>
<rect x="244" y="844" width="8" height="56" fill="#55fa55" fill-opacity="0.96"/>
<rect x="255" y="845" width="8" height="55" fill="#ff5555" fill-opacity="0.96"/>
<rect x="266" y="767" width="8" height="133" fill="#ff5555" fill-opacity="0.96"/>
<rect x="276" y="836" width="9" height="64" fill="#55fa55" fill-opacity="0.96"/>
<rect x="287" y="830" width="9" height="70" fill="#ff5555" fill-opacity="0.96"/>
<rect x="298" y="824" width="8" height="76" fill="#55fa55" fill-opacity="0.96"/>
<rect x="309" y="830" width="8" height="70" fill="#55fa55" fill-opacity="0.96"/>
<rect x="320" y="752" width="8" height="148" fill="#ff5555" fill-opacity="0.96"/>
<rect x="331" y="832" width="8" height="68" fill="#55fa55" fill-opacity="0.96"/>
<rect x="342" y="832" width="8" height="68" fill="#ff5555" fill-opacity="0.96"/>
<rect x="353" y="826" width="8" height="74" fill="#55fa55" fill-opacity="0.96"/>
<rect x="364" y="832" width="8" height="68" fill="#55fa55" fill-opacity="0.96"/>
<rect x="375" y="846" width="8" height="54" fill="#ff5555" fill-opacity="0.96"/>
<rect x="386" y="831" width="8" height="69" fill="#ff5555" fill-opacity="0.96"/>
<rect x="397" y="815" width="8" height="85" fill="#55fa55" fill-opacity="0.96"/>
<rect x="408" y="831" width="8" height="69" fill="#ff5555" fill-opacity="0.96"/>
<rect x="419" y="840" width="8" height="60" fill="#ff5555" fill-opacity="0.96"/>
<rect x="430" y="843" width="8" height="57" fill="#55fa55" fill-opacity="0.96"/>
<rect x="441" y="841" width="8" height="59" fill="#55fa55" fill-opacity="0.96"/>
<rect x="451" y="823" width="9" height="77" fill="#ff5555" fill-opacity="0.96"/>
<rect x="462" y="843" width="9" height="57" fill="#55fa55" fill-opacity="0.96"/>
<rect x="473" y="841" width="8" height="59" fill="#55fa55" fill-opacity="0.96"/>
<rect x="484" y="865" width="8" height="35" fill="#ff5555" fill-opacity="0.96"/>
<rect x="495" y="823" width="8" height="77" fill="#55fa55" fill-opacity="0.96"/>
<rect x="506" y="844" width="8" height="56" fill="#ff5555" fill-opacity="0.96"/>
<rect x="517" y="833" width="8" height="67" fill="#55fa55" fill-opacity="0.96"/>
<rect x="528" y="831" width="8" height="69" fill="#ff5555" fill-opacity="0.96"/>
<rect x="539" y="841" width="8" height="59" fill="#55fa55" fill-opacity="0.96"/>
<rect x="550" y="847" width="8" height="53" fill="#55fa55" fill-opacity="0.96"/>
<rect x="561" y="858" width="8" height="42" fill="#55fa55" fill-opacity="0.96"/>
<rect x="572" y="793" width="8" height="107" fill="#55fa55" fill-opacity="0.96"/>
<rect x="583" y="843" width="8" height="57" fill="#55fa55" fill-opacity="0.96"/>
<rect x="594" y="860" width="8" height="40" fill="#55fa55" fill-opacity="0.96"/>
<rect x="605" y="865" width="8" height="35" fill="#55fa55" fill-opacity="0.96"/>
<rect x="616" y="875" width="8" height="25" fill="#55fa55" fill-opacity="0.96"/>
<rect x="626" y="862" width="9" height="38" fill="#55fa55" fill-opacity="0.96"/>
<rect x="637" y="860" width="9" height="40" fill="#55fa55" fill-opacity="0.96"/>
<rect x="648" y="822" width="8" height="78" fill="#55fa55" fill-opacity="0.96"/>
<rect x="659" y="859" width="8" height="41" fill="#ff5555" fill-opacity="0.96"/>
<rect x="670" y="870" width="8" height="30" fill="#ff5555" fill-opacity="0.96"/>
<rect x="681" y="855" width="8" height="45" fill="#55fa55" fill-opacity="0.96"/>
<rect x="692" y="870" width="8" height="30" fill="#55fa55" fill-opacity="0.96"/>
<rect x="703" y="847" width="8" height="53" fill="#55fa55" fill-opacity="0.96"/>
<rect x="714" y="863" width="8" height="37" fill="#ff5555" fill-opacity="0.96"/>
<rect x="725" y="858" width="8" height="42" fill="#55fa55" fill-opacity="0.96"/>
<rect x="736" y="877" width="8" height="23" fill="#55fa55" fill-opacity="0.96"/>
<rect x="747" y="859" width="8" height="41" fill="#ff5555" fill-opacity="0.96"/>
<rect x="758" y="777" width="8" height="123" fill="#ff5555" fill-opacity="0.96"/>
<rect x="769" y="784" width="8" height="116" fill="#55fa55" fill-opacity="0.96"/>
<rect x="780" y="850" width="8" height="50" fill="#55fa55" fill-opacity="0.96"/>
<rect x="791" y="854" width="8" height="46" fill="#ff5555" fill-opacity="0.96"/>
<rect x="801" y="845" width="9" height="55" fill="#ff5555" fill-opacity="0.96"/>
<rect x="812" y="816" width="9" height="84" fill="#ff5555" fill-opacity="0.96"/>
<rect x="823" y="850" width="8" height="50" fill="#ff5555" fill-opacity="0.96"/>
<rect x="834" y="859" width="8" height="41" fill="#ff5555" fill-opacity="0.96"/>
<rect x="845" y="822" width="8" height="78" fill="#ff5555" fill-opacity="0.96"/>
<rect x="856" y="838" width="8" height="62" fill="#ff5555" fill-opacity="0.96"/>
<rect x="867" y="861" width="8" height="39" fill="#ff5555" fill-opacity="0.96"/>
<rect x="878" y="862" width="8" height="38" fill="#ff5555" fill-opacity="0.96"/>
<rect x="889" y="814" width="8" height="86" fill="#55fa55" fill-opacity="0.96"/>
<rect x="900" y="841" width="8" height="59" fill="#55fa55" fill-opacity="0.96"/>
<rect x="911" y="800" width="8" height="100" fill="#55fa55" fill-opacity="0.96"/>
<rect x="922" y="800" width="8" height="100" fill="#ff5555" fill-opacity="0.96"/>
<rect x="933" y="775" width="8" height="125" fill="#ff5555" fill-opacity="0.96"/>
<rect x="944" y="791" width="8" height="109" fill="#55fa55" fill-opacity="0.96"/>
<rect x="955" y="794" width="8" height="106" fill="#ff5555" fill-opacity="0.96"/>
<rect x="966" y="803" width="8" height="97" fill="#55fa55" fill-opacity="0.96"/>
<rect x="976" y="829" width="9" height="71" fill="#55fa55" fill-opacity="0.96"/>
<rect x="987" y="849" width="8" height="51" fill="#ff5555" fill-opacity="0.96"/>
<rect x="998" y="846" width="8" height="54" fill="#ff5555" fill-opacity="0.96"/>
<rect x="1009" y="812" width="8" height="88" fill="#ff5555" fill-opacity="0.96"/>
<rect x="1020" y="829" width="8" height="71" fill="#55fa55" fill-opacity="0.96"/>
<rect x="1031" y="818" width="8" height="82" fill="#55fa55" fill-opacity="0.96"/>
<rect x="1042" y="844" width="8" height="56" fill="#ff5555" fill-opacity="0.96"/>
<rect x="1053" y="848" width="8" height="52" fill="#55fa55" fill-opacity="0.96"/>
<rect x="1064" y="848" width="8" height="52" fill="#55fa55" fill-opacity="0.96"/>
<rect x="1075" y="846" width="8" height="54" fill="#55fa55" fill-opacity="0.96"/>
<rect x="1086" y="866" width="8" height="34" fill="#ff5555" fill-opacity="0.96"/>
<rect x="1097" y="859" width="8" height="41" fill="#ff5555" fill-opacity="0.96"/>
<rect x="1108" y="859" width="8" height="41" fill="#55fa55" fill-opacity="0.96"/>
<rect x="1119" y="849" width="8" height="51" fill="#55fa55" fill-opacity="0.96"/>
<rect x="1130" y="861" width="8" height="39" fill="#ff5555" fill-opacity="0.96"/>
<rect x="1141" y="828" width="8" height="72" fill="#ff5555" fill-opacity="0.96"/>
</g>
<g shape-rendering="crispEdges">
<rect x="100" y="719" width="1" height="182" fill="#000"/>
<rect x="100" y="900" width="1056" height="1" fill="#000"/>
<rect x="98" y="725" width="5" height="1" fill="#000"/>
<rect x="98" y="768" width="5" height="1" fill="#000"/>
<rect x="98" y="812" width="5" height="1" fill="#000"/>
<rect x="98" y="856" width="5" height="1" fill="#000"/>
<rect x="98" y="900" width="5" height="1" fill="#000"/>
<rect x="98" y="746" width="3" height="1" fill="#f00"/>
<rect x="98" y="790" width="3" height="1" fill="#f00"/>
<rect x="98" y="834" width="3" height="1" fill="#f00"/>
<rect x="98" y="878" width="3" height="1" fill="#f00"/>
<rect x="105" y="898" width="1" height="6" fill="#000"/>
<rect x="116" y="901" width="1" height="2" fill="#bbb"/>
<rect x="127" y="901" width="1" height="2" fill="#bbb"/>
<rect x="138" y="901" width="1" height="2" fill="#bbb"/>
<rect x="149" y="901" width="1" height="2" fill="#bbb"/>
<rect x="160" y="898" width="1" height="6" fill="#000"/>
<rect x="171" y="901" width="1" height="2" fill="#bbb"/>
<rect x="182" y="901" width="1" height="2" fill="#bbb"/>
<rect x="192" y="901" width="1" height="2" fill="#bbb"/>
<rect x="203" y="901" width="1" height="2" fill="#bbb"/>
<rect x="214" y="898" width="1" height="6" fill="#000"/>
<rect x="225" y="901" width="1" height="2" fill="#bbb"/>
<rect x="236" y="901" width="1" height="2" fill="#bbb"/>
<rect x="247" y="901" width="1" height="2" fill="#bbb"/>
<rect x="258" y="901" width="1" height="2" fill="#bbb"/>
<rect x="269" y="898" width="1" height="6" fill="#000"/>
<rect x="280" y="901" width="1" height="2" fill="#bbb"/>
<rect x="291" y="901" width="1" height="2" fill="#bbb"/>
<rect x="302" y="901" width="1" height="2" fill="#bbb"/>
<rect x="313" y="901" width="1" height="2" fill="#bbb"/>
<rect x="324" y="898" width="1" height="6" fill="#000"/>
<rect x="335" y="901" width="1" height="2" fill="#bbb"/>
<rect x="346" y="901" width="1" height="2" fill="#bbb"/>
<rect x="357" y="901" width="1" height="2" fill="#bbb"/>
<rect x="367" y="901" width="1" height="2" fill="#bbb"/>
<rect x="378" y="898" width="1" height="6" fill="#000"/>
<rect x="389" y="901" width="1" height="2" fill="#bbb"/>
<rect x="400" y="901" width="1" height="2" fill="#bbb"/>
<rect x="411" y="901" width="1" height="2" fill="#bbb"/>
<rect x="422" y="901" width="1" height="2" fill="#bbb"/>
<rect x="433" y="898" width="1" height="6" fill="#000"/>
<rect x="444" y="901" width="1" height="2" fill="#bbb"/>
<rect x="455" y="901" width="1" height="2" fill="#bbb"/>
<rect x="466" y="901" width="1" height="2" fill="#bbb"/>
<rect x="477" y="901" width="1" height="2" fill="#bbb"/>
<rect x="488" y="898" width="1" height="6" fill="#000"/>
<rect x="499" y="901" width="1" height="2" fill="#bbb"/>
<rect x="510" y="901" width="1" height="2" fill="#bbb"/>
<rect x="521" y="901" width="1" height="2" fill="#bbb"/>
<rect x="532" y="901" width="1" height="2" fill="#bbb"/>
<rect x="542" y="898" width="1" height="6" fill="#000"/>
<rect x="553" y="901" width="1" height="2" fill="#bbb"/>
<rect x="564" y="901" width="1" height="2" fill="#bbb"/>
<rect x="575" y="901" width="1" height="2" fill="#bbb"/>
<rect x="586" y="901" width="1" height="2" fill="#bbb"/>
<rect x="597" y="898" width="1" height="6" fill="#000"/>
<rect x="608" y="901" width="1" height="2" fill="#bbb"/>
<rect x="619" y="901" width="1" height="2" fill="#bbb"/>
<rect x="630" y="901" width="1" height="2" fill="#bbb"/>
<rect x="641" y="901" width="1" height="2" fill="#bbb"/>
<rect x="652" y="898" width="1" height="6" fill="#000"/>
<rect x="663" y="901" width="1" height="2" fill="#bbb"/>
<rect x="674" y="901" width="1" height="2" fill="#bbb"/>
<rect x="685" y="901" width="1" height="2" fill="#bbb"/>
<rect x="696" y="901" width="1" height="2" fill="#bbb"/>
<rect x="707" y="898" width="1" height="6" fill="#000"/>
<rect x="717" y="901" width="1" height="2" fill="#bbb"/>
<rect x="728" y="901" width="1" height="2" fill="#bbb"/>
<rect x="739" y="901" width="1" height="2" fill="#bbb"/>
<rect x="750" y="901" width="1" height="2" fill="#bbb"/>
<rect x="761" y="898" width="1" height="6" fill="#000"/>
<rect x="772" y="901" width="1" height="2" fill="#bbb"/>
<rect x="783" y="901" width="1" height="2" fill="#bbb"/>
<rect x="794" y="901" width="1" height="2" fill="#bbb"/>
<rect x="805" y="901" width="1" height="2" fill="#bbb"/>
<rect x="816" y="898" width="1" height="6" fill="#000"/>
<rect x="827" y="901" width="1" height="2" fill="#bbb"/>
<rect x="838" y="901" width="1" height="2" fill="#bbb"/>
<rect x="849" y="901" width="1" height="2" fill="#bbb"/>
<rect x="860" y="901" width="1" height="2" fill="#bbb"/>
<rect x="871" y="898" width="1" height="6" fill="#000"/>
<rect x="882" y="901" width="1" height="2" fill="#bbb"/>
<rect x="892" y="901" width="1" height="2" fill="#bbb"/>
<rect x="903" y="901" width="1" height="2" fill="#bbb"/>
<rect x="914" y="901" width="1" height="2" fill="#bbb"/>
<rect x="925" y="898" width="1" height="6" fill="#000"/>
<rect x="936" y="901" width="1" height="2" fill="#bbb"/>
<rect x="947" y="901" width="1" height="2" fill="#bbb"/>
<rect x="958" y="901" width="1" height="2" fill="#bbb"/>
<rect x="969" y="901" width="1" height="2" fill="#bbb"/>
<rect x="980" y="898" width="1" height="6" fill="#000"/>
<rect x="991" y="901" width="1" height="2" fill="#bbb"/>
<rect x="1002" y="901" width="1" height="2" fill="#bbb"/>
<rect x="1013" y="901" width="1" height="2" fill="#bbb"/>
<rect x="1024" y="901" width="1" height="2" fill="#bbb"/>
<rect x="1035" y="898" width="1" height="6" fill="#000"/>
<rect x="1046" y="901" width="1" height="2" fill="#bbb"/>
<rect x="1057" y="901" width="1" height="2" fill="#bbb"/>
<rect x="1067" y="901" width="1" height="2" fill="#bbb"/>
<rect x="1078" y="901" width="1" height="2" fill="#bbb"/>
<rect x="1089" y="898" width="1" height="6" fill="#000"/>
<rect x="1100" y="901" width="1" height="2" fill="#bbb"/>
<rect x="1111" y="901" width="1" height="2" fill="#bbb"/>
<rect x="1122" y="901" width="1" height="2" fill="#bbb"/>
<rect x="1133" y="901" width="1" height="2" fill="#bbb"/>
<rect x="1144" y="898" width="1" height="6" fill="#000"/>
</g>
<path d="M100.5 713.0 L97 720.0 L104 720.0 Z" fill="#000"/>
<path d="M1162.5 900.5 L1155 897.0 L1155 904.0 Z" fill="#000"/>
<text x="98.00" y="729.40" font-size="11" text-anchor="end" textLength="63.00" lengthAdjust="spacingAndGlyphs" fill="#000">200,000.00</text>
<text x="98.00" y="772.40" font-size="11" text-anchor="end" textLength="63.00" lengthAdjust="spacingAndGlyphs" fill="#000">150,000.00</text>
<text x="98.00" y="816.40" font-size="11" text-anchor="end" textLength="63.00" lengthAdjust="spacingAndGlyphs" fill="#000">100,000.00</text>
<text x="98.00" y="860.40" font-size="11" text-anchor="end" textLength="55.50" lengthAdjust="spacingAndGlyphs" fill="#000">50,000.00</text>
<text x="98.00" y="904.40" font-size="11" text-anchor="end" textLength="23.50" lengthAdjust="spacingAndGlyphs" fill="#000">0.00</text>
<text x="107.00" y="913.75" font-size="11" text-anchor="middle" textLength="29.55" lengthAdjust="spacingAndGlyphs" fill="#000">8 Mai</text>
<text x="161.69" y="913.75" font-size="11" text-anchor="middle" textLength="36.30" lengthAdjust="spacingAndGlyphs" fill="#000">15 Mai</text>
<text x="216.37" y="913.75" font-size="11" text-anchor="middle" textLength="36.55" lengthAdjust="spacingAndGlyphs" fill="#000">22 Mai</text>
<text x="271.05" y="913.75" font-size="11" text-anchor="middle" textLength="36.55" lengthAdjust="spacingAndGlyphs" fill="#000">29 Mai</text>
<text x="325.74" y="913.75" font-size="11" text-anchor="middle" textLength="32.58" lengthAdjust="spacingAndGlyphs" fill="#000">5 Juin</text>
<text x="380.43" y="913.75" font-size="11" text-anchor="middle" textLength="39.37" lengthAdjust="spacingAndGlyphs" fill="#000">12 Juin</text>
<text x="435.11" y="913.75" font-size="11" text-anchor="middle" textLength="39.37" lengthAdjust="spacingAndGlyphs" fill="#000">19 Juin</text>
<text x="489.79" y="913.75" font-size="11" text-anchor="middle" textLength="39.37" lengthAdjust="spacingAndGlyphs" fill="#000">26 Juin</text>
<text x="544.48" y="913.75" font-size="11" text-anchor="middle" textLength="28.30" lengthAdjust="spacingAndGlyphs" fill="#000">3 Juil</text>
<text x="599.16" y="913.75" font-size="11" text-anchor="middle" textLength="35.80" lengthAdjust="spacingAndGlyphs" fill="#000">10 Juil</text>
<text x="653.85" y="913.75" font-size="11" text-anchor="middle" textLength="35.30" lengthAdjust="spacingAndGlyphs" fill="#000">17 Juil</text>
<text x="708.53" y="913.75" font-size="11" text-anchor="middle" textLength="35.30" lengthAdjust="spacingAndGlyphs" fill="#000">24 Juil</text>
<text x="763.22" y="913.75" font-size="11" text-anchor="middle" textLength="35.30" lengthAdjust="spacingAndGlyphs" fill="#000">31 Juil</text>
<text x="817.90" y="914.50" font-size="11" text-anchor="middle" textLength="34.63" lengthAdjust="spacingAndGlyphs" fill="#000">7 Août</text>
<text x="872.59" y="914.50" font-size="11" text-anchor="middle" textLength="41.42" lengthAdjust="spacingAndGlyphs" fill="#000">14 Août</text>
<text x="927.27" y="914.50" font-size="11" text-anchor="middle" textLength="44.55" lengthAdjust="spacingAndGlyphs" fill="#000">21 Août</text>
<text x="981.96" y="914.50" font-size="11" text-anchor="middle" textLength="44.55" lengthAdjust="spacingAndGlyphs" fill="#000">28 Août</text>
<text x="1036.64" y="912.75" font-size="11" text-anchor="middle" textLength="38.05" lengthAdjust="spacingAndGlyphs" fill="#000">4 Sept</text>
<text x="1091.33" y="912.75" font-size="11" text-anchor="middle" textLength="44.30" lengthAdjust="spacingAndGlyphs" fill="#000">11 Sept</text>
<text x="1146.01" y="912.75" font-size="11" text-anchor="middle" textLength="44.55" lengthAdjust="spacingAndGlyphs" fill="#000">18 Sept</text>
<text x="627.00" y="927.00" font-size="11" text-anchor="middle" textLength="254.75" lengthAdjust="spacingAndGlyphs" fill="#000">Date (du 8 Mai 2015 au 18 Septembre 2015)</text>
<text x="33.25" y="810.50" font-size="11" text-anchor="middle" textLength="41.75" lengthAdjust="spacingAndGlyphs" fill="#000" transform="rotate(-90 33.25 810.5)">Volume</text>
<text x="111.80" y="694.25" font-size="25" text-anchor="start" textLength="75.15" lengthAdjust="spacingAndGlyphs" fill="#000">Ipsen:</text>
<text x="196.30" y="694.25" font-size="25" text-anchor="start" textLength="119.90" lengthAdjust="spacingAndGlyphs" fill="#000">graphique</text>
<text x="323.30" y="694.25" font-size="25" text-anchor="start" textLength="29.15" lengthAdjust="spacingAndGlyphs" fill="#000">du</text>
<text x="361.50" y="694.25" font-size="25" text-anchor="start" textLength="88.00" lengthAdjust="spacingAndGlyphs" fill="#000">volume</text>
<rect x="459.30" y="685.75" width="7.40" height="2.3" fill="#000"/>
<text x="475.50" y="694.25" font-size="25" text-anchor="start" textLength="208.40" lengthAdjust="spacingAndGlyphs" fill="#000">AnalyBourse.com</text>
<rect x="102" y="1061" width="1049" height="34" fill="#f8f8f8" shape-rendering="crispEdges"/>
<rect x="102" y="1131" width="1049" height="34" fill="#f8f8f8" shape-rendering="crispEdges"/>
<g shape-rendering="crispEdges" fill="none">
<line x1="105.5" y1="1024.0" x2="105.5" y2="1200.0" stroke="#000" stroke-opacity="0.115" stroke-dasharray="4 4"/>
<line x1="116.5" y1="1024.0" x2="116.5" y2="1200.0" stroke="#000" stroke-opacity="0.022" stroke-dasharray="6 6"/>
<line x1="127.5" y1="1024.0" x2="127.5" y2="1200.0" stroke="#000" stroke-opacity="0.022" stroke-dasharray="6 6"/>
<line x1="138.5" y1="1024.0" x2="138.5" y2="1200.0" stroke="#000" stroke-opacity="0.022" stroke-dasharray="6 6"/>
<line x1="149.5" y1="1024.0" x2="149.5" y2="1200.0" stroke="#000" stroke-opacity="0.022" stroke-dasharray="6 6"/>
<line x1="160.5" y1="1024.0" x2="160.5" y2="1200.0" stroke="#000" stroke-opacity="0.115" stroke-dasharray="4 4"/>
<line x1="171.5" y1="1024.0" x2="171.5" y2="1200.0" stroke="#000" stroke-opacity="0.022" stroke-dasharray="6 6"/>
<line x1="182.5" y1="1024.0" x2="182.5" y2="1200.0" stroke="#000" stroke-opacity="0.022" stroke-dasharray="6 6"/>
<line x1="192.5" y1="1024.0" x2="192.5" y2="1200.0" stroke="#000" stroke-opacity="0.022" stroke-dasharray="6 6"/>
<line x1="203.5" y1="1024.0" x2="203.5" y2="1200.0" stroke="#000" stroke-opacity="0.022" stroke-dasharray="6 6"/>
<line x1="214.5" y1="1024.0" x2="214.5" y2="1200.0" stroke="#000" stroke-opacity="0.115" stroke-dasharray="4 4"/>
<line x1="225.5" y1="1024.0" x2="225.5" y2="1200.0" stroke="#000" stroke-opacity="0.022" stroke-dasharray="6 6"/>
<line x1="236.5" y1="1024.0" x2="236.5" y2="1200.0" stroke="#000" stroke-opacity="0.022" stroke-dasharray="6 6"/>
<line x1="247.5" y1="1024.0" x2="247.5" y2="1200.0" stroke="#000" stroke-opacity="0.022" stroke-dasharray="6 6"/>
<line x1="258.5" y1="1024.0" x2="258.5" y2="1200.0" stroke="#000" stroke-opacity="0.022" stroke-dasharray="6 6"/>
<line x1="269.5" y1="1024.0" x2="269.5" y2="1200.0" stroke="#000" stroke-opacity="0.115" stroke-dasharray="4 4"/>
<line x1="280.5" y1="1024.0" x2="280.5" y2="1200.0" stroke="#000" stroke-opacity="0.022" stroke-dasharray="6 6"/>
<line x1="291.5" y1="1024.0" x2="291.5" y2="1200.0" stroke="#000" stroke-opacity="0.022" stroke-dasharray="6 6"/>
<line x1="302.5" y1="1024.0" x2="302.5" y2="1200.0" stroke="#000" stroke-opacity="0.022" stroke-dasharray="6 6"/>
<line x1="313.5" y1="1024.0" x2="313.5" y2="1200.0" stroke="#000" stroke-opacity="0.022" stroke-dasharray="6 6"/>
<line x1="324.5" y1="1024.0" x2="324.5" y2="1200.0" stroke="#000" stroke-opacity="0.115" stroke-dasharray="4 4"/>
<line x1="335.5" y1="1024.0" x2="335.5" y2="1200.0" stroke="#000" stroke-opacity="0.022" stroke-dasharray="6 6"/>
<line x1="346.5" y1="1024.0" x2="346.5" y2="1200.0" stroke="#000" stroke-opacity="0.022" stroke-dasharray="6 6"/>
<line x1="357.5" y1="1024.0" x2="357.5" y2="1200.0" stroke="#000" stroke-opacity="0.022" stroke-dasharray="6 6"/>
<line x1="367.5" y1="1024.0" x2="367.5" y2="1200.0" stroke="#000" stroke-opacity="0.022" stroke-dasharray="6 6"/>
<line x1="378.5" y1="1024.0" x2="378.5" y2="1200.0" stroke="#000" stroke-opacity="0.115" stroke-dasharray="4 4"/>
<line x1="389.5" y1="1024.0" x2="389.5" y2="1200.0" stroke="#000" stroke-opacity="0.022" stroke-dasharray="6 6"/>
<line x1="400.5" y1="1024.0" x2="400.5" y2="1200.0" stroke="#000" stroke-opacity="0.022" stroke-dasharray="6 6"/>
<line x1="411.5" y1="1024.0" x2="411.5" y2="1200.0" stroke="#000" stroke-opacity="0.022" stroke-dasharray="6 6"/>
<line x1="422.5" y1="1024.0" x2="422.5" y2="1200.0" stroke="#000" stroke-opacity="0.022" stroke-dasharray="6 6"/>
<line x1="433.5" y1="1024.0" x2="433.5" y2="1200.0" stroke="#000" stroke-opacity="0.115" stroke-dasharray="4 4"/>
<line x1="444.5" y1="1024.0" x2="444.5" y2="1200.0" stroke="#000" stroke-opacity="0.022" stroke-dasharray="6 6"/>
<line x1="455.5" y1="1024.0" x2="455.5" y2="1200.0" stroke="#000" stroke-opacity="0.022" stroke-dasharray="6 6"/>
<line x1="466.5" y1="1024.0" x2="466.5" y2="1200.0" stroke="#000" stroke-opacity="0.022" stroke-dasharray="6 6"/>
<line x1="477.5" y1="1024.0" x2="477.5" y2="1200.0" stroke="#000" stroke-opacity="0.022" stroke-dasharray="6 6"/>
<line x1="488.5" y1="1024.0" x2="488.5" y2="1200.0" stroke="#000" stroke-opacity="0.115" stroke-dasharray="4 4"/>
<line x1="499.5" y1="1024.0" x2="499.5" y2="1200.0" stroke="#000" stroke-opacity="0.022" stroke-dasharray="6 6"/>
<line x1="510.5" y1="1024.0" x2="510.5" y2="1200.0" stroke="#000" stroke-opacity="0.022" stroke-dasharray="6 6"/>
<line x1="521.5" y1="1024.0" x2="521.5" y2="1200.0" stroke="#000" stroke-opacity="0.022" stroke-dasharray="6 6"/>
<line x1="532.5" y1="1024.0" x2="532.5" y2="1200.0" stroke="#000" stroke-opacity="0.022" stroke-dasharray="6 6"/>
<line x1="542.5" y1="1024.0" x2="542.5" y2="1200.0" stroke="#000" stroke-opacity="0.115" stroke-dasharray="4 4"/>
<line x1="553.5" y1="1024.0" x2="553.5" y2="1200.0" stroke="#000" stroke-opacity="0.022" stroke-dasharray="6 6"/>
<line x1="564.5" y1="1024.0" x2="564.5" y2="1200.0" stroke="#000" stroke-opacity="0.022" stroke-dasharray="6 6"/>
<line x1="575.5" y1="1024.0" x2="575.5" y2="1200.0" stroke="#000" stroke-opacity="0.022" stroke-dasharray="6 6"/>
<line x1="586.5" y1="1024.0" x2="586.5" y2="1200.0" stroke="#000" stroke-opacity="0.022" stroke-dasharray="6 6"/>
<line x1="597.5" y1="1024.0" x2="597.5" y2="1200.0" stroke="#000" stroke-opacity="0.115" stroke-dasharray="4 4"/>
<line x1="608.5" y1="1024.0" x2="608.5" y2="1200.0" stroke="#000" stroke-opacity="0.022" stroke-dasharray="6 6"/>
<line x1="619.5" y1="1024.0" x2="619.5" y2="1200.0" stroke="#000" stroke-opacity="0.022" stroke-dasharray="6 6"/>
<line x1="630.5" y1="1024.0" x2="630.5" y2="1200.0" stroke="#000" stroke-opacity="0.022" stroke-dasharray="6 6"/>
<line x1="641.5" y1="1024.0" x2="641.5" y2="1200.0" stroke="#000" stroke-opacity="0.022" stroke-dasharray="6 6"/>
<line x1="652.5" y1="1024.0" x2="652.5" y2="1200.0" stroke="#000" stroke-opacity="0.115" stroke-dasharray="4 4"/>
<line x1="663.5" y1="1024.0" x2="663.5" y2="1200.0" stroke="#000" stroke-opacity="0.022" stroke-dasharray="6 6"/>
<line x1="674.5" y1="1024.0" x2="674.5" y2="1200.0" stroke="#000" stroke-opacity="0.022" stroke-dasharray="6 6"/>
<line x1="685.5" y1="1024.0" x2="685.5" y2="1200.0" stroke="#000" stroke-opacity="0.022" stroke-dasharray="6 6"/>
<line x1="696.5" y1="1024.0" x2="696.5" y2="1200.0" stroke="#000" stroke-opacity="0.022" stroke-dasharray="6 6"/>
<line x1="707.5" y1="1024.0" x2="707.5" y2="1200.0" stroke="#000" stroke-opacity="0.115" stroke-dasharray="4 4"/>
<line x1="717.5" y1="1024.0" x2="717.5" y2="1200.0" stroke="#000" stroke-opacity="0.022" stroke-dasharray="6 6"/>
<line x1="728.5" y1="1024.0" x2="728.5" y2="1200.0" stroke="#000" stroke-opacity="0.022" stroke-dasharray="6 6"/>
<line x1="739.5" y1="1024.0" x2="739.5" y2="1200.0" stroke="#000" stroke-opacity="0.022" stroke-dasharray="6 6"/>
<line x1="750.5" y1="1024.0" x2="750.5" y2="1200.0" stroke="#000" stroke-opacity="0.022" stroke-dasharray="6 6"/>
<line x1="761.5" y1="1024.0" x2="761.5" y2="1200.0" stroke="#000" stroke-opacity="0.115" stroke-dasharray="4 4"/>
<line x1="772.5" y1="1024.0" x2="772.5" y2="1200.0" stroke="#000" stroke-opacity="0.022" stroke-dasharray="6 6"/>
<line x1="783.5" y1="1024.0" x2="783.5" y2="1200.0" stroke="#000" stroke-opacity="0.022" stroke-dasharray="6 6"/>
<line x1="794.5" y1="1024.0" x2="794.5" y2="1200.0" stroke="#000" stroke-opacity="0.022" stroke-dasharray="6 6"/>
<line x1="805.5" y1="1024.0" x2="805.5" y2="1200.0" stroke="#000" stroke-opacity="0.022" stroke-dasharray="6 6"/>
<line x1="816.5" y1="1024.0" x2="816.5" y2="1200.0" stroke="#000" stroke-opacity="0.115" stroke-dasharray="4 4"/>
<line x1="827.5" y1="1024.0" x2="827.5" y2="1200.0" stroke="#000" stroke-opacity="0.022" stroke-dasharray="6 6"/>
<line x1="838.5" y1="1024.0" x2="838.5" y2="1200.0" stroke="#000" stroke-opacity="0.022" stroke-dasharray="6 6"/>
<line x1="849.5" y1="1024.0" x2="849.5" y2="1200.0" stroke="#000" stroke-opacity="0.022" stroke-dasharray="6 6"/>
<line x1="860.5" y1="1024.0" x2="860.5" y2="1200.0" stroke="#000" stroke-opacity="0.022" stroke-dasharray="6 6"/>
<line x1="871.5" y1="1024.0" x2="871.5" y2="1200.0" stroke="#000" stroke-opacity="0.115" stroke-dasharray="4 4"/>
<line x1="882.5" y1="1024.0" x2="882.5" y2="1200.0" stroke="#000" stroke-opacity="0.022" stroke-dasharray="6 6"/>
<line x1="892.5" y1="1024.0" x2="892.5" y2="1200.0" stroke="#000" stroke-opacity="0.022" stroke-dasharray="6 6"/>
<line x1="903.5" y1="1024.0" x2="903.5" y2="1200.0" stroke="#000" stroke-opacity="0.022" stroke-dasharray="6 6"/>
<line x1="914.5" y1="1024.0" x2="914.5" y2="1200.0" stroke="#000" stroke-opacity="0.022" stroke-dasharray="6 6"/>
<line x1="925.5" y1="1024.0" x2="925.5" y2="1200.0" stroke="#000" stroke-opacity="0.115" stroke-dasharray="4 4"/>
<line x1="936.5" y1="1024.0" x2="936.5" y2="1200.0" stroke="#000" stroke-opacity="0.022" stroke-dasharray="6 6"/>
<line x1="947.5" y1="1024.0" x2="947.5" y2="1200.0" stroke="#000" stroke-opacity="0.022" stroke-dasharray="6 6"/>
<line x1="958.5" y1="1024.0" x2="958.5" y2="1200.0" stroke="#000" stroke-opacity="0.022" stroke-dasharray="6 6"/>
<line x1="969.5" y1="1024.0" x2="969.5" y2="1200.0" stroke="#000" stroke-opacity="0.022" stroke-dasharray="6 6"/>
<line x1="980.5" y1="1024.0" x2="980.5" y2="1200.0" stroke="#000" stroke-opacity="0.115" stroke-dasharray="4 4"/>
<line x1="991.5" y1="1024.0" x2="991.5" y2="1200.0" stroke="#000" stroke-opacity="0.022" stroke-dasharray="6 6"/>
<line x1="1002.5" y1="1024.0" x2="1002.5" y2="1200.0" stroke="#000" stroke-opacity="0.022" stroke-dasharray="6 6"/>
<line x1="1013.5" y1="1024.0" x2="1013.5" y2="1200.0" stroke="#000" stroke-opacity="0.022" stroke-dasharray="6 6"/>
<line x1="1024.5" y1="1024.0" x2="1024.5" y2="1200.0" stroke="#000" stroke-opacity="0.022" stroke-dasharray="6 6"/>
<line x1="1035.5" y1="1024.0" x2="1035.5" y2="1200.0" stroke="#000" stroke-opacity="0.115" stroke-dasharray="4 4"/>
<line x1="1046.5" y1="1024.0" x2="1046.5" y2="1200.0" stroke="#000" stroke-opacity="0.022" stroke-dasharray="6 6"/>
<line x1="1057.5" y1="1024.0" x2="1057.5" y2="1200.0" stroke="#000" stroke-opacity="0.022" stroke-dasharray="6 6"/>
<line x1="1067.5" y1="1024.0" x2="1067.5" y2="1200.0" stroke="#000" stroke-opacity="0.022" stroke-dasharray="6 6"/>
<line x1="1078.5" y1="1024.0" x2="1078.5" y2="1200.0" stroke="#000" stroke-opacity="0.022" stroke-dasharray="6 6"/>
<line x1="1089.5" y1="1024.0" x2="1089.5" y2="1200.0" stroke="#000" stroke-opacity="0.115" stroke-dasharray="4 4"/>
<line x1="1100.5" y1="1024.0" x2="1100.5" y2="1200.0" stroke="#000" stroke-opacity="0.022" stroke-dasharray="6 6"/>
<line x1="1111.5" y1="1024.0" x2="1111.5" y2="1200.0" stroke="#000" stroke-opacity="0.022" stroke-dasharray="6 6"/>
<line x1="1122.5" y1="1024.0" x2="1122.5" y2="1200.0" stroke="#000" stroke-opacity="0.022" stroke-dasharray="6 6"/>
<line x1="1133.5" y1="1024.0" x2="1133.5" y2="1200.0" stroke="#000" stroke-opacity="0.022" stroke-dasharray="6 6"/>
<line x1="1144.5" y1="1024.0" x2="1144.5" y2="1200.0" stroke="#000" stroke-opacity="0.115" stroke-dasharray="4 4"/>
<line x1="99" y1="1025.5" x2="1151" y2="1025.5" stroke="#000" stroke-opacity="0.115" stroke-dasharray="4 4"/>
<line x1="99" y1="1060.5" x2="1151" y2="1060.5" stroke="#000" stroke-opacity="0.115" stroke-dasharray="4 4"/>
<line x1="99" y1="1095.5" x2="1151" y2="1095.5" stroke="#000" stroke-opacity="0.115" stroke-dasharray="4 4"/>
<line x1="99" y1="1130.5" x2="1151" y2="1130.5" stroke="#000" stroke-opacity="0.115" stroke-dasharray="4 4"/>
<line x1="99" y1="1165.5" x2="1151" y2="1165.5" stroke="#000" stroke-opacity="0.115" stroke-dasharray="4 4"/>
</g>
<line x1="105" y1="1112.5" x2="1145" y2="1112.5" stroke="#666" stroke-width="1" shape-rendering="crispEdges"/>
<path fill="none" stroke="#ff3c3c" stroke-width="0.95" d="M105.50 1079.25C106.59 1079.42 114.25 1080.40 116.44 1081.00C118.62 1081.60 125.19 1084.33 127.37 1085.25C129.56 1086.17 136.12 1089.72 138.31 1090.25C140.50 1090.78 147.06 1090.33 149.25 1090.50C151.44 1090.67 158.00 1090.40 160.19 1092.00C162.37 1093.60 168.93 1105.90 171.12 1106.50C173.31 1107.10 179.87 1099.53 182.06 1098.00C184.25 1096.47 190.81 1091.72 193.00 1091.25C195.18 1090.78 201.75 1093.15 203.93 1093.25C206.12 1093.35 212.68 1091.88 214.87 1092.25C217.06 1092.62 223.62 1095.60 225.81 1097.00C227.99 1098.40 234.56 1105.53 236.74 1106.25C238.93 1106.97 245.49 1104.00 247.68 1104.25C249.87 1104.50 256.43 1106.85 258.62 1108.75C260.81 1110.65 267.37 1123.30 269.55 1123.25C271.74 1123.20 278.30 1108.70 280.49 1108.25C282.68 1107.80 289.24 1117.53 291.43 1118.75C293.62 1119.97 300.18 1120.65 302.37 1120.50C304.55 1120.35 311.12 1116.85 313.30 1117.25C315.49 1117.65 322.05 1124.30 324.24 1124.50C326.43 1124.70 332.99 1118.95 335.18 1119.25C337.36 1119.55 343.93 1128.30 346.11 1127.50C348.30 1126.70 354.86 1113.30 357.05 1111.25C359.24 1109.20 365.80 1106.88 367.99 1107.00C370.18 1107.12 376.74 1110.78 378.93 1112.50C381.11 1114.22 387.67 1123.88 389.86 1124.25C392.05 1124.62 398.61 1116.90 400.80 1116.25C402.99 1115.60 409.55 1116.62 411.74 1117.75C413.92 1118.88 420.49 1127.15 422.67 1127.50C424.86 1127.85 431.42 1122.95 433.61 1121.25C435.80 1119.55 442.36 1111.20 444.55 1110.50C446.73 1109.80 453.30 1115.12 455.48 1114.25C457.67 1113.38 464.23 1103.38 466.42 1101.75C468.61 1100.12 475.17 1098.17 477.36 1098.00C479.55 1097.83 486.11 1099.10 488.29 1100.00C490.48 1100.90 497.04 1105.95 499.23 1107.00C501.42 1108.05 507.98 1111.12 510.17 1110.50C512.36 1109.88 518.92 1102.17 521.11 1100.75C523.29 1099.33 529.86 1097.12 532.04 1096.25C534.23 1095.38 540.79 1092.20 542.98 1092.00C545.17 1091.80 551.73 1094.08 553.92 1094.25C556.10 1094.42 562.67 1094.05 564.85 1093.75C567.04 1093.45 573.60 1092.62 575.79 1091.25C577.98 1089.88 584.54 1081.38 586.73 1080.00C588.92 1078.62 595.48 1078.20 597.66 1077.50C599.85 1076.80 606.41 1073.70 608.60 1073.00C610.79 1072.30 617.35 1070.67 619.54 1070.50C621.73 1070.33 628.29 1071.80 630.48 1071.25C632.66 1070.70 639.23 1066.30 641.41 1065.00C643.60 1063.70 650.16 1058.65 652.35 1058.25C654.54 1057.85 661.10 1059.12 663.29 1061.00C665.47 1062.88 672.04 1075.15 674.22 1077.00C676.41 1078.85 682.97 1079.45 685.16 1079.50C687.35 1079.55 693.91 1078.03 696.10 1077.50C698.29 1076.97 704.85 1072.67 707.03 1074.25C709.22 1075.83 715.78 1092.12 717.97 1093.25C720.16 1094.38 726.72 1086.58 728.91 1085.50C731.10 1084.42 737.66 1082.50 739.85 1082.50C742.03 1082.50 748.60 1086.25 750.78 1085.50C752.97 1084.75 759.53 1076.55 761.72 1075.00C763.91 1073.45 770.47 1070.80 772.66 1070.00C774.84 1069.20 781.41 1066.55 783.59 1067.00C785.78 1067.45 792.34 1072.85 794.53 1074.50C796.72 1076.15 803.28 1083.12 805.47 1083.50C807.66 1083.88 814.22 1078.80 816.40 1078.25C818.59 1077.70 825.15 1077.45 827.34 1078.00C829.53 1078.55 836.09 1082.72 838.28 1083.75C840.47 1084.78 847.03 1087.92 849.22 1088.25C851.40 1088.58 857.97 1087.00 860.15 1087.00C862.34 1087.00 868.90 1087.70 871.09 1088.25C873.28 1088.80 879.84 1092.58 882.03 1092.50C884.21 1092.42 890.78 1088.95 892.96 1087.50C895.15 1086.05 901.71 1079.65 903.90 1078.00C906.09 1076.35 912.65 1070.22 914.84 1071.00C917.03 1071.78 923.59 1080.30 925.77 1085.75C927.96 1091.20 934.52 1121.95 936.71 1125.50C938.90 1129.05 945.46 1121.25 947.65 1121.25C949.84 1121.25 956.40 1127.42 958.59 1125.50C960.77 1123.58 967.34 1104.75 969.52 1102.00C971.71 1099.25 978.27 1098.00 980.46 1098.00C982.65 1098.00 989.21 1100.85 991.40 1102.00C993.58 1103.15 1000.15 1107.58 1002.33 1109.50C1004.52 1111.42 1011.08 1120.83 1013.27 1121.25C1015.46 1121.67 1022.02 1115.05 1024.21 1113.75C1026.40 1112.45 1032.96 1108.83 1035.14 1108.25C1037.33 1107.67 1043.89 1108.45 1046.08 1108.00C1048.27 1107.55 1054.83 1104.72 1057.02 1103.75C1059.21 1102.78 1065.77 1099.00 1067.96 1098.25C1070.14 1097.50 1076.71 1096.20 1078.89 1096.25C1081.08 1096.30 1087.64 1097.83 1089.83 1098.75C1092.02 1099.67 1098.58 1105.08 1100.77 1105.50C1102.95 1105.92 1109.52 1104.00 1111.70 1103.00C1113.89 1102.00 1120.45 1095.88 1122.64 1095.50C1124.83 1095.12 1131.39 1098.75 1133.58 1099.25C1135.77 1099.75 1143.42 1100.38 1144.51 1100.50"/>
<g shape-rendering="crispEdges">
<rect x="100" y="1019" width="1" height="182" fill="#000"/>
<rect x="100" y="1200" width="1056" height="1" fill="#000"/>
<rect x="98" y="1025" width="5" height="1" fill="#000"/>
<rect x="98" y="1060" width="5" height="1" fill="#000"/>
<rect x="98" y="1095" width="5" height="1" fill="#000"/>
<rect x="98" y="1130" width="5" height="1" fill="#000"/>
<rect x="98" y="1165" width="5" height="1" fill="#000"/>
<rect x="98" y="1200" width="5" height="1" fill="#000"/>
<rect x="98" y="1042" width="3" height="1" fill="#f00"/>
<rect x="98" y="1077" width="3" height="1" fill="#f00"/>
<rect x="98" y="1112" width="3" height="1" fill="#f00"/>
<rect x="98" y="1147" width="3" height="1" fill="#f00"/>
<rect x="98" y="1182" width="3" height="1" fill="#f00"/>
<rect x="105" y="1198" width="1" height="6" fill="#000"/>
<rect x="116" y="1201" width="1" height="2" fill="#bbb"/>
<rect x="127" y="1201" width="1" height="2" fill="#bbb"/>
<rect x="138" y="1201" width="1" height="2" fill="#bbb"/>
<rect x="149" y="1201" width="1" height="2" fill="#bbb"/>
<rect x="160" y="1198" width="1" height="6" fill="#000"/>
<rect x="171" y="1201" width="1" height="2" fill="#bbb"/>
<rect x="182" y="1201" width="1" height="2" fill="#bbb"/>
<rect x="192" y="1201" width="1" height="2" fill="#bbb"/>
<rect x="203" y="1201" width="1" height="2" fill="#bbb"/>
<rect x="214" y="1198" width="1" height="6" fill="#000"/>
<rect x="225" y="1201" width="1" height="2" fill="#bbb"/>
<rect x="236" y="1201" width="1" height="2" fill="#bbb"/>
<rect x="247" y="1201" width="1" height="2" fill="#bbb"/>
<rect x="258" y="1201" width="1" height="2" fill="#bbb"/>
<rect x="269" y="1198" width="1" height="6" fill="#000"/>
<rect x="280" y="1201" width="1" height="2" fill="#bbb"/>
<rect x="291" y="1201" width="1" height="2" fill="#bbb"/>
<rect x="302" y="1201" width="1" height="2" fill="#bbb"/>
<rect x="313" y="1201" width="1" height="2" fill="#bbb"/>
<rect x="324" y="1198" width="1" height="6" fill="#000"/>
<rect x="335" y="1201" width="1" height="2" fill="#bbb"/>
<rect x="346" y="1201" width="1" height="2" fill="#bbb"/>
<rect x="357" y="1201" width="1" height="2" fill="#bbb"/>
<rect x="367" y="1201" width="1" height="2" fill="#bbb"/>
<rect x="378" y="1198" width="1" height="6" fill="#000"/>
<rect x="389" y="1201" width="1" height="2" fill="#bbb"/>
<rect x="400" y="1201" width="1" height="2" fill="#bbb"/>
<rect x="411" y="1201" width="1" height="2" fill="#bbb"/>
<rect x="422" y="1201" width="1" height="2" fill="#bbb"/>
<rect x="433" y="1198" width="1" height="6" fill="#000"/>
<rect x="444" y="1201" width="1" height="2" fill="#bbb"/>
<rect x="455" y="1201" width="1" height="2" fill="#bbb"/>
<rect x="466" y="1201" width="1" height="2" fill="#bbb"/>
<rect x="477" y="1201" width="1" height="2" fill="#bbb"/>
<rect x="488" y="1198" width="1" height="6" fill="#000"/>
<rect x="499" y="1201" width="1" height="2" fill="#bbb"/>
<rect x="510" y="1201" width="1" height="2" fill="#bbb"/>
<rect x="521" y="1201" width="1" height="2" fill="#bbb"/>
<rect x="532" y="1201" width="1" height="2" fill="#bbb"/>
<rect x="542" y="1198" width="1" height="6" fill="#000"/>
<rect x="553" y="1201" width="1" height="2" fill="#bbb"/>
<rect x="564" y="1201" width="1" height="2" fill="#bbb"/>
<rect x="575" y="1201" width="1" height="2" fill="#bbb"/>
<rect x="586" y="1201" width="1" height="2" fill="#bbb"/>
<rect x="597" y="1198" width="1" height="6" fill="#000"/>
<rect x="608" y="1201" width="1" height="2" fill="#bbb"/>
<rect x="619" y="1201" width="1" height="2" fill="#bbb"/>
<rect x="630" y="1201" width="1" height="2" fill="#bbb"/>
<rect x="641" y="1201" width="1" height="2" fill="#bbb"/>
<rect x="652" y="1198" width="1" height="6" fill="#000"/>
<rect x="663" y="1201" width="1" height="2" fill="#bbb"/>
<rect x="674" y="1201" width="1" height="2" fill="#bbb"/>
<rect x="685" y="1201" width="1" height="2" fill="#bbb"/>
<rect x="696" y="1201" width="1" height="2" fill="#bbb"/>
<rect x="707" y="1198" width="1" height="6" fill="#000"/>
<rect x="717" y="1201" width="1" height="2" fill="#bbb"/>
<rect x="728" y="1201" width="1" height="2" fill="#bbb"/>
<rect x="739" y="1201" width="1" height="2" fill="#bbb"/>
<rect x="750" y="1201" width="1" height="2" fill="#bbb"/>
<rect x="761" y="1198" width="1" height="6" fill="#000"/>
<rect x="772" y="1201" width="1" height="2" fill="#bbb"/>
<rect x="783" y="1201" width="1" height="2" fill="#bbb"/>
<rect x="794" y="1201" width="1" height="2" fill="#bbb"/>
<rect x="805" y="1201" width="1" height="2" fill="#bbb"/>
<rect x="816" y="1198" width="1" height="6" fill="#000"/>
<rect x="827" y="1201" width="1" height="2" fill="#bbb"/>
<rect x="838" y="1201" width="1" height="2" fill="#bbb"/>
<rect x="849" y="1201" width="1" height="2" fill="#bbb"/>
<rect x="860" y="1201" width="1" height="2" fill="#bbb"/>
<rect x="871" y="1198" width="1" height="6" fill="#000"/>
<rect x="882" y="1201" width="1" height="2" fill="#bbb"/>
<rect x="892" y="1201" width="1" height="2" fill="#bbb"/>
<rect x="903" y="1201" width="1" height="2" fill="#bbb"/>
<rect x="914" y="1201" width="1" height="2" fill="#bbb"/>
<rect x="925" y="1198" width="1" height="6" fill="#000"/>
<rect x="936" y="1201" width="1" height="2" fill="#bbb"/>
<rect x="947" y="1201" width="1" height="2" fill="#bbb"/>
<rect x="958" y="1201" width="1" height="2" fill="#bbb"/>
<rect x="969" y="1201" width="1" height="2" fill="#bbb"/>
<rect x="980" y="1198" width="1" height="6" fill="#000"/>
<rect x="991" y="1201" width="1" height="2" fill="#bbb"/>
<rect x="1002" y="1201" width="1" height="2" fill="#bbb"/>
<rect x="1013" y="1201" width="1" height="2" fill="#bbb"/>
<rect x="1024" y="1201" width="1" height="2" fill="#bbb"/>
<rect x="1035" y="1198" width="1" height="6" fill="#000"/>
<rect x="1046" y="1201" width="1" height="2" fill="#bbb"/>
<rect x="1057" y="1201" width="1" height="2" fill="#bbb"/>
<rect x="1067" y="1201" width="1" height="2" fill="#bbb"/>
<rect x="1078" y="1201" width="1" height="2" fill="#bbb"/>
<rect x="1089" y="1198" width="1" height="6" fill="#000"/>
<rect x="1100" y="1201" width="1" height="2" fill="#bbb"/>
<rect x="1111" y="1201" width="1" height="2" fill="#bbb"/>
<rect x="1122" y="1201" width="1" height="2" fill="#bbb"/>
<rect x="1133" y="1201" width="1" height="2" fill="#bbb"/>
<rect x="1144" y="1198" width="1" height="6" fill="#000"/>
</g>
<path d="M100.5 1013.0 L97 1020.0 L104 1020.0 Z" fill="#000"/>
<path d="M1162.5 1200.5 L1155 1197.0 L1155 1204.0 Z" fill="#000"/>
<text x="98.00" y="1029.40" font-size="11" text-anchor="end" textLength="37.28" lengthAdjust="spacingAndGlyphs" fill="#000">100.00</text>
<text x="98.00" y="1064.40" font-size="11" text-anchor="end" textLength="30.50" lengthAdjust="spacingAndGlyphs" fill="#000">80.00</text>
<text x="98.00" y="1099.40" font-size="11" text-anchor="end" textLength="30.50" lengthAdjust="spacingAndGlyphs" fill="#000">60.00</text>
<text x="98.00" y="1134.40" font-size="11" text-anchor="end" textLength="30.50" lengthAdjust="spacingAndGlyphs" fill="#000">40.00</text>
<text x="98.00" y="1169.40" font-size="11" text-anchor="end" textLength="30.50" lengthAdjust="spacingAndGlyphs" fill="#000">20.00</text>
<text x="98.00" y="1204.40" font-size="11" text-anchor="end" textLength="23.72" lengthAdjust="spacingAndGlyphs" fill="#000">0.00</text>
<text x="107.00" y="1213.75" font-size="11" text-anchor="middle" textLength="29.55" lengthAdjust="spacingAndGlyphs" fill="#000">8 Mai</text>
<text x="161.69" y="1213.75" font-size="11" text-anchor="middle" textLength="36.30" lengthAdjust="spacingAndGlyphs" fill="#000">15 Mai</text>
<text x="216.37" y="1213.75" font-size="11" text-anchor="middle" textLength="36.55" lengthAdjust="spacingAndGlyphs" fill="#000">22 Mai</text>
<text x="271.05" y="1213.75" font-size="11" text-anchor="middle" textLength="36.55" lengthAdjust="spacingAndGlyphs" fill="#000">29 Mai</text>
<text x="325.74" y="1213.75" font-size="11" text-anchor="middle" textLength="32.58" lengthAdjust="spacingAndGlyphs" fill="#000">5 Juin</text>
<text x="380.43" y="1213.75" font-size="11" text-anchor="middle" textLength="39.37" lengthAdjust="spacingAndGlyphs" fill="#000">12 Juin</text>
<text x="435.11" y="1213.75" font-size="11" text-anchor="middle" textLength="39.37" lengthAdjust="spacingAndGlyphs" fill="#000">19 Juin</text>
<text x="489.79" y="1213.75" font-size="11" text-anchor="middle" textLength="39.37" lengthAdjust="spacingAndGlyphs" fill="#000">26 Juin</text>
<text x="544.48" y="1213.75" font-size="11" text-anchor="middle" textLength="28.30" lengthAdjust="spacingAndGlyphs" fill="#000">3 Juil</text>
<text x="599.16" y="1213.75" font-size="11" text-anchor="middle" textLength="35.80" lengthAdjust="spacingAndGlyphs" fill="#000">10 Juil</text>
<text x="653.85" y="1213.75" font-size="11" text-anchor="middle" textLength="35.30" lengthAdjust="spacingAndGlyphs" fill="#000">17 Juil</text>
<text x="708.53" y="1213.75" font-size="11" text-anchor="middle" textLength="35.30" lengthAdjust="spacingAndGlyphs" fill="#000">24 Juil</text>
<text x="763.22" y="1213.75" font-size="11" text-anchor="middle" textLength="35.30" lengthAdjust="spacingAndGlyphs" fill="#000">31 Juil</text>
<text x="817.90" y="1214.50" font-size="11" text-anchor="middle" textLength="34.63" lengthAdjust="spacingAndGlyphs" fill="#000">7 Août</text>
<text x="872.59" y="1214.50" font-size="11" text-anchor="middle" textLength="41.42" lengthAdjust="spacingAndGlyphs" fill="#000">14 Août</text>
<text x="927.27" y="1214.50" font-size="11" text-anchor="middle" textLength="44.55" lengthAdjust="spacingAndGlyphs" fill="#000">21 Août</text>
<text x="981.96" y="1214.50" font-size="11" text-anchor="middle" textLength="44.55" lengthAdjust="spacingAndGlyphs" fill="#000">28 Août</text>
<text x="1036.64" y="1212.75" font-size="11" text-anchor="middle" textLength="38.05" lengthAdjust="spacingAndGlyphs" fill="#000">4 Sept</text>
<text x="1091.33" y="1212.75" font-size="11" text-anchor="middle" textLength="44.30" lengthAdjust="spacingAndGlyphs" fill="#000">11 Sept</text>
<text x="1146.01" y="1212.75" font-size="11" text-anchor="middle" textLength="44.55" lengthAdjust="spacingAndGlyphs" fill="#000">18 Sept</text>
<text x="627.00" y="1227.00" font-size="11" text-anchor="middle" textLength="254.75" lengthAdjust="spacingAndGlyphs" fill="#000">Date (du 8 Mai 2015 au 18 Septembre 2015)</text>
<text x="58.25" y="1110.50" font-size="11" text-anchor="middle" textLength="18.75" lengthAdjust="spacingAndGlyphs" fill="#000" transform="rotate(-90 58.25 1110.5)">RSI</text>
<text x="111.80" y="994.25" font-size="25" text-anchor="start" textLength="75.15" lengthAdjust="spacingAndGlyphs" fill="#000">Ipsen:</text>
<text x="196.30" y="994.25" font-size="25" text-anchor="start" textLength="119.90" lengthAdjust="spacingAndGlyphs" fill="#000">graphique</text>
<text x="323.30" y="994.25" font-size="25" text-anchor="start" textLength="29.15" lengthAdjust="spacingAndGlyphs" fill="#000">du</text>
<text x="362.30" y="994.25" font-size="25" text-anchor="start" textLength="42.40" lengthAdjust="spacingAndGlyphs" fill="#000">RSI</text>
<rect x="414.00" y="985.75" width="8.00" height="2.3" fill="#000"/>
<text x="431.30" y="994.25" font-size="25" text-anchor="start" textLength="94.90" lengthAdjust="spacingAndGlyphs" fill="#000">RSI(14)</text>
<rect x="536.50" y="985.75" width="7.50" height="2.3" fill="#000"/>
<text x="553.80" y="994.25" font-size="25" text-anchor="start" textLength="208.40" lengthAdjust="spacingAndGlyphs" fill="#000">AnalyBourse.com</text>
<rect x="102" y="1351" width="1049" height="24" fill="#f8f8f8" shape-rendering="crispEdges"/>
<rect x="102" y="1401" width="1049" height="24" fill="#f8f8f8" shape-rendering="crispEdges"/>
<rect x="102" y="1451" width="1049" height="24" fill="#f8f8f8" shape-rendering="crispEdges"/>
<g shape-rendering="crispEdges" fill="none">
<line x1="105.5" y1="1324.0" x2="105.5" y2="1500.0" stroke="#000" stroke-opacity="0.115" stroke-dasharray="4 4"/>
<line x1="116.5" y1="1324.0" x2="116.5" y2="1500.0" stroke="#000" stroke-opacity="0.022" stroke-dasharray="6 6"/>
<line x1="127.5" y1="1324.0" x2="127.5" y2="1500.0" stroke="#000" stroke-opacity="0.022" stroke-dasharray="6 6"/>
<line x1="138.5" y1="1324.0" x2="138.5" y2="1500.0" stroke="#000" stroke-opacity="0.022" stroke-dasharray="6 6"/>
<line x1="149.5" y1="1324.0" x2="149.5" y2="1500.0" stroke="#000" stroke-opacity="0.022" stroke-dasharray="6 6"/>
<line x1="160.5" y1="1324.0" x2="160.5" y2="1500.0" stroke="#000" stroke-opacity="0.115" stroke-dasharray="4 4"/>
<line x1="171.5" y1="1324.0" x2="171.5" y2="1500.0" stroke="#000" stroke-opacity="0.022" stroke-dasharray="6 6"/>
<line x1="182.5" y1="1324.0" x2="182.5" y2="1500.0" stroke="#000" stroke-opacity="0.022" stroke-dasharray="6 6"/>
<line x1="192.5" y1="1324.0" x2="192.5" y2="1500.0" stroke="#000" stroke-opacity="0.022" stroke-dasharray="6 6"/>
<line x1="203.5" y1="1324.0" x2="203.5" y2="1500.0" stroke="#000" stroke-opacity="0.022" stroke-dasharray="6 6"/>
<line x1="214.5" y1="1324.0" x2="214.5" y2="1500.0" stroke="#000" stroke-opacity="0.115" stroke-dasharray="4 4"/>
<line x1="225.5" y1="1324.0" x2="225.5" y2="1500.0" stroke="#000" stroke-opacity="0.022" stroke-dasharray="6 6"/>
<line x1="236.5" y1="1324.0" x2="236.5" y2="1500.0" stroke="#000" stroke-opacity="0.022" stroke-dasharray="6 6"/>
<line x1="247.5" y1="1324.0" x2="247.5" y2="1500.0" stroke="#000" stroke-opacity="0.022" stroke-dasharray="6 6"/>
<line x1="258.5" y1="1324.0" x2="258.5" y2="1500.0" stroke="#000" stroke-opacity="0.022" stroke-dasharray="6 6"/>
<line x1="269.5" y1="1324.0" x2="269.5" y2="1500.0" stroke="#000" stroke-opacity="0.115" stroke-dasharray="4 4"/>
<line x1="280.5" y1="1324.0" x2="280.5" y2="1500.0" stroke="#000" stroke-opacity="0.022" stroke-dasharray="6 6"/>
<line x1="291.5" y1="1324.0" x2="291.5" y2="1500.0" stroke="#000" stroke-opacity="0.022" stroke-dasharray="6 6"/>
<line x1="302.5" y1="1324.0" x2="302.5" y2="1500.0" stroke="#000" stroke-opacity="0.022" stroke-dasharray="6 6"/>
<line x1="313.5" y1="1324.0" x2="313.5" y2="1500.0" stroke="#000" stroke-opacity="0.022" stroke-dasharray="6 6"/>
<line x1="324.5" y1="1324.0" x2="324.5" y2="1500.0" stroke="#000" stroke-opacity="0.115" stroke-dasharray="4 4"/>
<line x1="335.5" y1="1324.0" x2="335.5" y2="1500.0" stroke="#000" stroke-opacity="0.022" stroke-dasharray="6 6"/>
<line x1="346.5" y1="1324.0" x2="346.5" y2="1500.0" stroke="#000" stroke-opacity="0.022" stroke-dasharray="6 6"/>
<line x1="357.5" y1="1324.0" x2="357.5" y2="1500.0" stroke="#000" stroke-opacity="0.022" stroke-dasharray="6 6"/>
<line x1="367.5" y1="1324.0" x2="367.5" y2="1500.0" stroke="#000" stroke-opacity="0.022" stroke-dasharray="6 6"/>
<line x1="378.5" y1="1324.0" x2="378.5" y2="1500.0" stroke="#000" stroke-opacity="0.115" stroke-dasharray="4 4"/>
<line x1="389.5" y1="1324.0" x2="389.5" y2="1500.0" stroke="#000" stroke-opacity="0.022" stroke-dasharray="6 6"/>
<line x1="400.5" y1="1324.0" x2="400.5" y2="1500.0" stroke="#000" stroke-opacity="0.022" stroke-dasharray="6 6"/>
<line x1="411.5" y1="1324.0" x2="411.5" y2="1500.0" stroke="#000" stroke-opacity="0.022" stroke-dasharray="6 6"/>
<line x1="422.5" y1="1324.0" x2="422.5" y2="1500.0" stroke="#000" stroke-opacity="0.022" stroke-dasharray="6 6"/>
<line x1="433.5" y1="1324.0" x2="433.5" y2="1500.0" stroke="#000" stroke-opacity="0.115" stroke-dasharray="4 4"/>
<line x1="444.5" y1="1324.0" x2="444.5" y2="1500.0" stroke="#000" stroke-opacity="0.022" stroke-dasharray="6 6"/>
<line x1="455.5" y1="1324.0" x2="455.5" y2="1500.0" stroke="#000" stroke-opacity="0.022" stroke-dasharray="6 6"/>
<line x1="466.5" y1="1324.0" x2="466.5" y2="1500.0" stroke="#000" stroke-opacity="0.022" stroke-dasharray="6 6"/>
<line x1="477.5" y1="1324.0" x2="477.5" y2="1500.0" stroke="#000" stroke-opacity="0.022" stroke-dasharray="6 6"/>
<line x1="488.5" y1="1324.0" x2="488.5" y2="1500.0" stroke="#000" stroke-opacity="0.115" stroke-dasharray="4 4"/>
<line x1="499.5" y1="1324.0" x2="499.5" y2="1500.0" stroke="#000" stroke-opacity="0.022" stroke-dasharray="6 6"/>
<line x1="510.5" y1="1324.0" x2="510.5" y2="1500.0" stroke="#000" stroke-opacity="0.022" stroke-dasharray="6 6"/>
<line x1="521.5" y1="1324.0" x2="521.5" y2="1500.0" stroke="#000" stroke-opacity="0.022" stroke-dasharray="6 6"/>
<line x1="532.5" y1="1324.0" x2="532.5" y2="1500.0" stroke="#000" stroke-opacity="0.022" stroke-dasharray="6 6"/>
<line x1="542.5" y1="1324.0" x2="542.5" y2="1500.0" stroke="#000" stroke-opacity="0.115" stroke-dasharray="4 4"/>
<line x1="553.5" y1="1324.0" x2="553.5" y2="1500.0" stroke="#000" stroke-opacity="0.022" stroke-dasharray="6 6"/>
<line x1="564.5" y1="1324.0" x2="564.5" y2="1500.0" stroke="#000" stroke-opacity="0.022" stroke-dasharray="6 6"/>
<line x1="575.5" y1="1324.0" x2="575.5" y2="1500.0" stroke="#000" stroke-opacity="0.022" stroke-dasharray="6 6"/>
<line x1="586.5" y1="1324.0" x2="586.5" y2="1500.0" stroke="#000" stroke-opacity="0.022" stroke-dasharray="6 6"/>
<line x1="597.5" y1="1324.0" x2="597.5" y2="1500.0" stroke="#000" stroke-opacity="0.115" stroke-dasharray="4 4"/>
<line x1="608.5" y1="1324.0" x2="608.5" y2="1500.0" stroke="#000" stroke-opacity="0.022" stroke-dasharray="6 6"/>
<line x1="619.5" y1="1324.0" x2="619.5" y2="1500.0" stroke="#000" stroke-opacity="0.022" stroke-dasharray="6 6"/>
<line x1="630.5" y1="1324.0" x2="630.5" y2="1500.0" stroke="#000" stroke-opacity="0.022" stroke-dasharray="6 6"/>
<line x1="641.5" y1="1324.0" x2="641.5" y2="1500.0" stroke="#000" stroke-opacity="0.022" stroke-dasharray="6 6"/>
<line x1="652.5" y1="1324.0" x2="652.5" y2="1500.0" stroke="#000" stroke-opacity="0.115" stroke-dasharray="4 4"/>
<line x1="663.5" y1="1324.0" x2="663.5" y2="1500.0" stroke="#000" stroke-opacity="0.022" stroke-dasharray="6 6"/>
<line x1="674.5" y1="1324.0" x2="674.5" y2="1500.0" stroke="#000" stroke-opacity="0.022" stroke-dasharray="6 6"/>
<line x1="685.5" y1="1324.0" x2="685.5" y2="1500.0" stroke="#000" stroke-opacity="0.022" stroke-dasharray="6 6"/>
<line x1="696.5" y1="1324.0" x2="696.5" y2="1500.0" stroke="#000" stroke-opacity="0.022" stroke-dasharray="6 6"/>
<line x1="707.5" y1="1324.0" x2="707.5" y2="1500.0" stroke="#000" stroke-opacity="0.115" stroke-dasharray="4 4"/>
<line x1="717.5" y1="1324.0" x2="717.5" y2="1500.0" stroke="#000" stroke-opacity="0.022" stroke-dasharray="6 6"/>
<line x1="728.5" y1="1324.0" x2="728.5" y2="1500.0" stroke="#000" stroke-opacity="0.022" stroke-dasharray="6 6"/>
<line x1="739.5" y1="1324.0" x2="739.5" y2="1500.0" stroke="#000" stroke-opacity="0.022" stroke-dasharray="6 6"/>
<line x1="750.5" y1="1324.0" x2="750.5" y2="1500.0" stroke="#000" stroke-opacity="0.022" stroke-dasharray="6 6"/>
<line x1="761.5" y1="1324.0" x2="761.5" y2="1500.0" stroke="#000" stroke-opacity="0.115" stroke-dasharray="4 4"/>
<line x1="772.5" y1="1324.0" x2="772.5" y2="1500.0" stroke="#000" stroke-opacity="0.022" stroke-dasharray="6 6"/>
<line x1="783.5" y1="1324.0" x2="783.5" y2="1500.0" stroke="#000" stroke-opacity="0.022" stroke-dasharray="6 6"/>
<line x1="794.5" y1="1324.0" x2="794.5" y2="1500.0" stroke="#000" stroke-opacity="0.022" stroke-dasharray="6 6"/>
<line x1="805.5" y1="1324.0" x2="805.5" y2="1500.0" stroke="#000" stroke-opacity="0.022" stroke-dasharray="6 6"/>
<line x1="816.5" y1="1324.0" x2="816.5" y2="1500.0" stroke="#000" stroke-opacity="0.115" stroke-dasharray="4 4"/>
<line x1="827.5" y1="1324.0" x2="827.5" y2="1500.0" stroke="#000" stroke-opacity="0.022" stroke-dasharray="6 6"/>
<line x1="838.5" y1="1324.0" x2="838.5" y2="1500.0" stroke="#000" stroke-opacity="0.022" stroke-dasharray="6 6"/>
<line x1="849.5" y1="1324.0" x2="849.5" y2="1500.0" stroke="#000" stroke-opacity="0.022" stroke-dasharray="6 6"/>
<line x1="860.5" y1="1324.0" x2="860.5" y2="1500.0" stroke="#000" stroke-opacity="0.022" stroke-dasharray="6 6"/>
<line x1="871.5" y1="1324.0" x2="871.5" y2="1500.0" stroke="#000" stroke-opacity="0.115" stroke-dasharray="4 4"/>
<line x1="882.5" y1="1324.0" x2="882.5" y2="1500.0" stroke="#000" stroke-opacity="0.022" stroke-dasharray="6 6"/>
<line x1="892.5" y1="1324.0" x2="892.5" y2="1500.0" stroke="#000" stroke-opacity="0.022" stroke-dasharray="6 6"/>
<line x1="903.5" y1="1324.0" x2="903.5" y2="1500.0" stroke="#000" stroke-opacity="0.022" stroke-dasharray="6 6"/>
<line x1="914.5" y1="1324.0" x2="914.5" y2="1500.0" stroke="#000" stroke-opacity="0.022" stroke-dasharray="6 6"/>
<line x1="925.5" y1="1324.0" x2="925.5" y2="1500.0" stroke="#000" stroke-opacity="0.115" stroke-dasharray="4 4"/>
<line x1="936.5" y1="1324.0" x2="936.5" y2="1500.0" stroke="#000" stroke-opacity="0.022" stroke-dasharray="6 6"/>
<line x1="947.5" y1="1324.0" x2="947.5" y2="1500.0" stroke="#000" stroke-opacity="0.022" stroke-dasharray="6 6"/>
<line x1="958.5" y1="1324.0" x2="958.5" y2="1500.0" stroke="#000" stroke-opacity="0.022" stroke-dasharray="6 6"/>
<line x1="969.5" y1="1324.0" x2="969.5" y2="1500.0" stroke="#000" stroke-opacity="0.022" stroke-dasharray="6 6"/>
<line x1="980.5" y1="1324.0" x2="980.5" y2="1500.0" stroke="#000" stroke-opacity="0.115" stroke-dasharray="4 4"/>
<line x1="991.5" y1="1324.0" x2="991.5" y2="1500.0" stroke="#000" stroke-opacity="0.022" stroke-dasharray="6 6"/>
<line x1="1002.5" y1="1324.0" x2="1002.5" y2="1500.0" stroke="#000" stroke-opacity="0.022" stroke-dasharray="6 6"/>
<line x1="1013.5" y1="1324.0" x2="1013.5" y2="1500.0" stroke="#000" stroke-opacity="0.022" stroke-dasharray="6 6"/>
<line x1="1024.5" y1="1324.0" x2="1024.5" y2="1500.0" stroke="#000" stroke-opacity="0.022" stroke-dasharray="6 6"/>
<line x1="1035.5" y1="1324.0" x2="1035.5" y2="1500.0" stroke="#000" stroke-opacity="0.115" stroke-dasharray="4 4"/>
<line x1="1046.5" y1="1324.0" x2="1046.5" y2="1500.0" stroke="#000" stroke-opacity="0.022" stroke-dasharray="6 6"/>
<line x1="1057.5" y1="1324.0" x2="1057.5" y2="1500.0" stroke="#000" stroke-opacity="0.022" stroke-dasharray="6 6"/>
<line x1="1067.5" y1="1324.0" x2="1067.5" y2="1500.0" stroke="#000" stroke-opacity="0.022" stroke-dasharray="6 6"/>
<line x1="1078.5" y1="1324.0" x2="1078.5" y2="1500.0" stroke="#000" stroke-opacity="0.022" stroke-dasharray="6 6"/>
<line x1="1089.5" y1="1324.0" x2="1089.5" y2="1500.0" stroke="#000" stroke-opacity="0.115" stroke-dasharray="4 4"/>
<line x1="1100.5" y1="1324.0" x2="1100.5" y2="1500.0" stroke="#000" stroke-opacity="0.022" stroke-dasharray="6 6"/>
<line x1="1111.5" y1="1324.0" x2="1111.5" y2="1500.0" stroke="#000" stroke-opacity="0.022" stroke-dasharray="6 6"/>
<line x1="1122.5" y1="1324.0" x2="1122.5" y2="1500.0" stroke="#000" stroke-opacity="0.022" stroke-dasharray="6 6"/>
<line x1="1133.5" y1="1324.0" x2="1133.5" y2="1500.0" stroke="#000" stroke-opacity="0.022" stroke-dasharray="6 6"/>
<line x1="1144.5" y1="1324.0" x2="1144.5" y2="1500.0" stroke="#000" stroke-opacity="0.115" stroke-dasharray="4 4"/>
<line x1="99" y1="1325.5" x2="1151" y2="1325.5" stroke="#000" stroke-opacity="0.115" stroke-dasharray="4 4"/>
<line x1="99" y1="1350.5" x2="1151" y2="1350.5" stroke="#000" stroke-opacity="0.115" stroke-dasharray="4 4"/>
<line x1="99" y1="1375.5" x2="1151" y2="1375.5" stroke="#000" stroke-opacity="0.115" stroke-dasharray="4 4"/>
<line x1="99" y1="1400.5" x2="1151" y2="1400.5" stroke="#000" stroke-opacity="0.115" stroke-dasharray="4 4"/>
<line x1="99" y1="1425.5" x2="1151" y2="1425.5" stroke="#000" stroke-opacity="0.115" stroke-dasharray="4 4"/>
<line x1="99" y1="1450.5" x2="1151" y2="1450.5" stroke="#000" stroke-opacity="0.115" stroke-dasharray="4 4"/>
<line x1="99" y1="1475.5" x2="1151" y2="1475.5" stroke="#000" stroke-opacity="0.115" stroke-dasharray="4 4"/>
</g>
<clipPath id="cpos"><rect x="0" y="1300" width="1200" height="100.5"/></clipPath>
<clipPath id="cneg"><rect x="0" y="1400.5" width="1200" height="150"/></clipPath>
<path d="M105.5 1400.5 L105.50 1357.50C107.32 1359.04 112.79 1363.42 116.44 1366.75C120.08 1370.08 123.73 1373.75 127.37 1377.50C131.02 1381.25 134.67 1385.38 138.31 1389.25C141.96 1393.12 145.60 1397.29 149.25 1400.75C152.89 1404.21 156.54 1406.04 160.19 1410.00C163.83 1413.96 167.48 1421.67 171.12 1424.50C174.77 1427.33 178.41 1427.12 182.06 1427.00C185.70 1426.88 189.35 1424.50 193.00 1423.75C196.64 1423.00 200.29 1422.92 203.93 1422.50C207.58 1422.08 211.22 1421.17 214.87 1421.25C218.52 1421.33 222.16 1421.54 225.81 1423.00C229.45 1424.46 233.10 1428.42 236.74 1430.00C240.39 1431.58 244.04 1431.33 247.68 1432.50C251.33 1433.67 254.97 1434.17 258.62 1437.00C262.26 1439.83 265.91 1448.08 269.55 1449.50C273.20 1450.92 276.85 1445.75 280.49 1445.50C284.14 1445.25 287.78 1447.33 291.43 1448.00C295.07 1448.67 298.72 1449.50 302.37 1449.50C306.01 1449.50 309.66 1448.00 313.30 1448.00C316.95 1448.00 320.59 1449.79 324.24 1449.50C327.89 1449.21 331.53 1446.50 335.18 1446.25C338.82 1446.00 342.47 1449.79 346.11 1448.00C349.76 1446.21 353.41 1439.88 357.05 1435.50C360.70 1431.12 364.34 1424.46 367.99 1421.75C371.63 1419.04 375.28 1418.92 378.93 1419.25C382.57 1419.58 386.22 1423.42 389.86 1423.75C393.51 1424.08 397.15 1421.79 400.80 1421.25C404.44 1420.71 408.09 1419.79 411.74 1420.50C415.38 1421.21 419.03 1424.96 422.67 1425.50C426.32 1426.04 429.96 1425.92 433.61 1423.75C437.26 1421.58 440.90 1415.21 444.55 1412.50C448.19 1409.79 451.84 1410.33 455.48 1407.50C459.13 1404.67 462.78 1400.08 466.42 1395.50C470.07 1390.92 473.71 1383.42 477.36 1380.00C481.00 1376.58 484.65 1375.21 488.29 1375.00C491.94 1374.79 495.59 1377.29 499.23 1378.75C502.88 1380.21 506.52 1383.54 510.17 1383.75C513.81 1383.96 517.46 1381.67 521.11 1380.00C524.75 1378.33 528.40 1375.92 532.04 1373.75C535.69 1371.58 539.33 1368.25 542.98 1367.00C546.63 1365.75 550.27 1366.29 553.92 1366.25C557.56 1366.21 561.21 1366.75 564.85 1366.75C568.50 1366.75 572.15 1367.79 575.79 1366.25C579.44 1364.71 583.08 1360.21 586.73 1357.50C590.37 1354.79 594.02 1352.29 597.66 1350.00C601.31 1347.71 604.96 1345.42 608.60 1343.75C612.25 1342.08 615.89 1340.33 619.54 1340.00C623.18 1339.67 626.83 1341.83 630.48 1341.75C634.12 1341.67 637.77 1341.67 641.41 1339.50C645.06 1337.33 648.70 1330.54 652.35 1328.75C656.00 1326.96 659.64 1326.67 663.29 1328.75C666.93 1330.83 670.58 1336.25 674.22 1341.25C677.87 1346.25 681.52 1354.17 685.16 1358.75C688.81 1363.33 692.45 1366.04 696.10 1368.75C699.74 1371.46 703.39 1370.71 707.03 1375.00C710.68 1379.29 714.33 1390.54 717.97 1394.50C721.62 1398.46 725.26 1397.83 728.91 1398.75C732.55 1399.67 736.20 1399.17 739.85 1400.00C743.49 1400.83 747.14 1404.38 750.78 1403.75C754.43 1403.12 758.07 1399.79 761.72 1396.25C765.37 1392.71 769.01 1386.17 772.66 1382.50C776.30 1378.83 779.95 1375.50 783.59 1374.25C787.24 1373.00 790.89 1373.00 794.53 1375.00C798.18 1377.00 801.82 1384.08 805.47 1386.25C809.11 1388.42 812.76 1387.08 816.40 1388.00C820.05 1388.92 823.70 1389.67 827.34 1391.75C830.99 1393.83 834.63 1397.46 838.28 1400.50C841.92 1403.54 845.57 1407.17 849.22 1410.00C852.86 1412.83 856.51 1415.21 860.15 1417.50C863.80 1419.79 867.44 1421.58 871.09 1423.75C874.74 1425.92 878.38 1429.38 882.03 1430.50C885.67 1431.62 889.32 1432.04 892.96 1430.50C896.61 1428.96 900.26 1425.08 903.90 1421.25C907.55 1417.42 911.19 1409.71 914.84 1407.50C918.48 1405.29 922.13 1401.54 925.77 1408.00C929.42 1414.46 933.07 1436.83 936.71 1446.25C940.36 1455.67 944.00 1458.67 947.65 1464.50C951.29 1470.33 954.94 1482.00 958.59 1481.25C962.23 1480.50 965.88 1467.08 969.52 1460.00C973.17 1452.92 976.81 1443.54 980.46 1438.75C984.11 1433.96 987.75 1431.67 991.40 1431.25C995.04 1430.83 998.69 1433.04 1002.33 1436.25C1005.98 1439.46 1009.63 1448.29 1013.27 1450.50C1016.92 1452.71 1020.56 1451.46 1024.21 1449.50C1027.85 1447.54 1031.50 1441.79 1035.14 1438.75C1038.79 1435.71 1042.44 1434.38 1046.08 1431.25C1049.73 1428.12 1053.37 1424.58 1057.02 1420.00C1060.66 1415.42 1064.31 1408.42 1067.96 1403.75C1071.60 1399.08 1075.25 1394.71 1078.89 1392.00C1082.54 1389.29 1086.18 1387.33 1089.83 1387.50C1093.48 1387.67 1097.12 1392.17 1100.77 1393.00C1104.41 1393.83 1108.06 1393.71 1111.70 1392.50C1115.35 1391.29 1119.00 1387.00 1122.64 1385.75C1126.29 1384.50 1129.93 1384.79 1133.58 1385.00C1137.22 1385.21 1142.69 1386.67 1144.51 1387.00 L1144.5 1400.5 Z" fill="#96fa96" clip-path="url(#cpos)"/>
<path d="M105.5 1400.5 L105.50 1357.50C107.32 1359.04 112.79 1363.42 116.44 1366.75C120.08 1370.08 123.73 1373.75 127.37 1377.50C131.02 1381.25 134.67 1385.38 138.31 1389.25C141.96 1393.12 145.60 1397.29 149.25 1400.75C152.89 1404.21 156.54 1406.04 160.19 1410.00C163.83 1413.96 167.48 1421.67 171.12 1424.50C174.77 1427.33 178.41 1427.12 182.06 1427.00C185.70 1426.88 189.35 1424.50 193.00 1423.75C196.64 1423.00 200.29 1422.92 203.93 1422.50C207.58 1422.08 211.22 1421.17 214.87 1421.25C218.52 1421.33 222.16 1421.54 225.81 1423.00C229.45 1424.46 233.10 1428.42 236.74 1430.00C240.39 1431.58 244.04 1431.33 247.68 1432.50C251.33 1433.67 254.97 1434.17 258.62 1437.00C262.26 1439.83 265.91 1448.08 269.55 1449.50C273.20 1450.92 276.85 1445.75 280.49 1445.50C284.14 1445.25 287.78 1447.33 291.43 1448.00C295.07 1448.67 298.72 1449.50 302.37 1449.50C306.01 1449.50 309.66 1448.00 313.30 1448.00C316.95 1448.00 320.59 1449.79 324.24 1449.50C327.89 1449.21 331.53 1446.50 335.18 1446.25C338.82 1446.00 342.47 1449.79 346.11 1448.00C349.76 1446.21 353.41 1439.88 357.05 1435.50C360.70 1431.12 364.34 1424.46 367.99 1421.75C371.63 1419.04 375.28 1418.92 378.93 1419.25C382.57 1419.58 386.22 1423.42 389.86 1423.75C393.51 1424.08 397.15 1421.79 400.80 1421.25C404.44 1420.71 408.09 1419.79 411.74 1420.50C415.38 1421.21 419.03 1424.96 422.67 1425.50C426.32 1426.04 429.96 1425.92 433.61 1423.75C437.26 1421.58 440.90 1415.21 444.55 1412.50C448.19 1409.79 451.84 1410.33 455.48 1407.50C459.13 1404.67 462.78 1400.08 466.42 1395.50C470.07 1390.92 473.71 1383.42 477.36 1380.00C481.00 1376.58 484.65 1375.21 488.29 1375.00C491.94 1374.79 495.59 1377.29 499.23 1378.75C502.88 1380.21 506.52 1383.54 510.17 1383.75C513.81 1383.96 517.46 1381.67 521.11 1380.00C524.75 1378.33 528.40 1375.92 532.04 1373.75C535.69 1371.58 539.33 1368.25 542.98 1367.00C546.63 1365.75 550.27 1366.29 553.92 1366.25C557.56 1366.21 561.21 1366.75 564.85 1366.75C568.50 1366.75 572.15 1367.79 575.79 1366.25C579.44 1364.71 583.08 1360.21 586.73 1357.50C590.37 1354.79 594.02 1352.29 597.66 1350.00C601.31 1347.71 604.96 1345.42 608.60 1343.75C612.25 1342.08 615.89 1340.33 619.54 1340.00C623.18 1339.67 626.83 1341.83 630.48 1341.75C634.12 1341.67 637.77 1341.67 641.41 1339.50C645.06 1337.33 648.70 1330.54 652.35 1328.75C656.00 1326.96 659.64 1326.67 663.29 1328.75C666.93 1330.83 670.58 1336.25 674.22 1341.25C677.87 1346.25 681.52 1354.17 685.16 1358.75C688.81 1363.33 692.45 1366.04 696.10 1368.75C699.74 1371.46 703.39 1370.71 707.03 1375.00C710.68 1379.29 714.33 1390.54 717.97 1394.50C721.62 1398.46 725.26 1397.83 728.91 1398.75C732.55 1399.67 736.20 1399.17 739.85 1400.00C743.49 1400.83 747.14 1404.38 750.78 1403.75C754.43 1403.12 758.07 1399.79 761.72 1396.25C765.37 1392.71 769.01 1386.17 772.66 1382.50C776.30 1378.83 779.95 1375.50 783.59 1374.25C787.24 1373.00 790.89 1373.00 794.53 1375.00C798.18 1377.00 801.82 1384.08 805.47 1386.25C809.11 1388.42 812.76 1387.08 816.40 1388.00C820.05 1388.92 823.70 1389.67 827.34 1391.75C830.99 1393.83 834.63 1397.46 838.28 1400.50C841.92 1403.54 845.57 1407.17 849.22 1410.00C852.86 1412.83 856.51 1415.21 860.15 1417.50C863.80 1419.79 867.44 1421.58 871.09 1423.75C874.74 1425.92 878.38 1429.38 882.03 1430.50C885.67 1431.62 889.32 1432.04 892.96 1430.50C896.61 1428.96 900.26 1425.08 903.90 1421.25C907.55 1417.42 911.19 1409.71 914.84 1407.50C918.48 1405.29 922.13 1401.54 925.77 1408.00C929.42 1414.46 933.07 1436.83 936.71 1446.25C940.36 1455.67 944.00 1458.67 947.65 1464.50C951.29 1470.33 954.94 1482.00 958.59 1481.25C962.23 1480.50 965.88 1467.08 969.52 1460.00C973.17 1452.92 976.81 1443.54 980.46 1438.75C984.11 1433.96 987.75 1431.67 991.40 1431.25C995.04 1430.83 998.69 1433.04 1002.33 1436.25C1005.98 1439.46 1009.63 1448.29 1013.27 1450.50C1016.92 1452.71 1020.56 1451.46 1024.21 1449.50C1027.85 1447.54 1031.50 1441.79 1035.14 1438.75C1038.79 1435.71 1042.44 1434.38 1046.08 1431.25C1049.73 1428.12 1053.37 1424.58 1057.02 1420.00C1060.66 1415.42 1064.31 1408.42 1067.96 1403.75C1071.60 1399.08 1075.25 1394.71 1078.89 1392.00C1082.54 1389.29 1086.18 1387.33 1089.83 1387.50C1093.48 1387.67 1097.12 1392.17 1100.77 1393.00C1104.41 1393.83 1108.06 1393.71 1111.70 1392.50C1115.35 1391.29 1119.00 1387.00 1122.64 1385.75C1126.29 1384.50 1129.93 1384.79 1133.58 1385.00C1137.22 1385.21 1142.69 1386.67 1144.51 1387.00 L1144.5 1400.5 Z" fill="#fa9696" clip-path="url(#cneg)"/>
<rect x="150" y="1400" width="995" height="1" fill="#96fa96" shape-rendering="crispEdges"/>
<g shape-rendering="crispEdges">
<rect x="100" y="1319" width="1" height="182" fill="#000"/>
<rect x="100" y="1500" width="1056" height="1" fill="#000"/>
<rect x="98" y="1325" width="5" height="1" fill="#000"/>
<rect x="98" y="1350" width="5" height="1" fill="#000"/>
<rect x="98" y="1375" width="5" height="1" fill="#000"/>
<rect x="98" y="1400" width="5" height="1" fill="#000"/>
<rect x="98" y="1425" width="5" height="1" fill="#000"/>
<rect x="98" y="1450" width="5" height="1" fill="#000"/>
<rect x="98" y="1475" width="5" height="1" fill="#000"/>
<rect x="98" y="1500" width="5" height="1" fill="#000"/>
<rect x="98" y="1338" width="3" height="1" fill="#f00"/>
<rect x="98" y="1363" width="3" height="1" fill="#f00"/>
<rect x="98" y="1388" width="3" height="1" fill="#f00"/>
<rect x="98" y="1413" width="3" height="1" fill="#f00"/>
<rect x="98" y="1438" width="3" height="1" fill="#f00"/>
<rect x="98" y="1463" width="3" height="1" fill="#f00"/>
<rect x="98" y="1488" width="3" height="1" fill="#f00"/>
<rect x="105" y="1498" width="1" height="6" fill="#000"/>
<rect x="116" y="1501" width="1" height="2" fill="#bbb"/>
<rect x="127" y="1501" width="1" height="2" fill="#bbb"/>
<rect x="138" y="1501" width="1" height="2" fill="#bbb"/>
<rect x="149" y="1501" width="1" height="2" fill="#bbb"/>
<rect x="160" y="1498" width="1" height="6" fill="#000"/>
<rect x="171" y="1501" width="1" height="2" fill="#bbb"/>
<rect x="182" y="1501" width="1" height="2" fill="#bbb"/>
<rect x="192" y="1501" width="1" height="2" fill="#bbb"/>
<rect x="203" y="1501" width="1" height="2" fill="#bbb"/>
<rect x="214" y="1498" width="1" height="6" fill="#000"/>
<rect x="225" y="1501" width="1" height="2" fill="#bbb"/>
<rect x="236" y="1501" width="1" height="2" fill="#bbb"/>
<rect x="247" y="1501" width="1" height="2" fill="#bbb"/>
<rect x="258" y="1501" width="1" height="2" fill="#bbb"/>
<rect x="269" y="1498" width="1" height="6" fill="#000"/>
<rect x="280" y="1501" width="1" height="2" fill="#bbb"/>
<rect x="291" y="1501" width="1" height="2" fill="#bbb"/>
<rect x="302" y="1501" width="1" height="2" fill="#bbb"/>
<rect x="313" y="1501" width="1" height="2" fill="#bbb"/>
<rect x="324" y="1498" width="1" height="6" fill="#000"/>
<rect x="335" y="1501" width="1" height="2" fill="#bbb"/>
<rect x="346" y="1501" width="1" height="2" fill="#bbb"/>
<rect x="357" y="1501" width="1" height="2" fill="#bbb"/>
<rect x="367" y="1501" width="1" height="2" fill="#bbb"/>
<rect x="378" y="1498" width="1" height="6" fill="#000"/>
<rect x="389" y="1501" width="1" height="2" fill="#bbb"/>
<rect x="400" y="1501" width="1" height="2" fill="#bbb"/>
<rect x="411" y="1501" width="1" height="2" fill="#bbb"/>
<rect x="422" y="1501" width="1" height="2" fill="#bbb"/>
<rect x="433" y="1498" width="1" height="6" fill="#000"/>
<rect x="444" y="1501" width="1" height="2" fill="#bbb"/>
<rect x="455" y="1501" width="1" height="2" fill="#bbb"/>
<rect x="466" y="1501" width="1" height="2" fill="#bbb"/>
<rect x="477" y="1501" width="1" height="2" fill="#bbb"/>
<rect x="488" y="1498" width="1" height="6" fill="#000"/>
<rect x="499" y="1501" width="1" height="2" fill="#bbb"/>
<rect x="510" y="1501" width="1" height="2" fill="#bbb"/>
<rect x="521" y="1501" width="1" height="2" fill="#bbb"/>
<rect x="532" y="1501" width="1" height="2" fill="#bbb"/>
<rect x="542" y="1498" width="1" height="6" fill="#000"/>
<rect x="553" y="1501" width="1" height="2" fill="#bbb"/>
<rect x="564" y="1501" width="1" height="2" fill="#bbb"/>
<rect x="575" y="1501" width="1" height="2" fill="#bbb"/>
<rect x="586" y="1501" width="1" height="2" fill="#bbb"/>
<rect x="597" y="1498" width="1" height="6" fill="#000"/>
<rect x="608" y="1501" width="1" height="2" fill="#bbb"/>
<rect x="619" y="1501" width="1" height="2" fill="#bbb"/>
<rect x="630" y="1501" width="1" height="2" fill="#bbb"/>
<rect x="641" y="1501" width="1" height="2" fill="#bbb"/>
<rect x="652" y="1498" width="1" height="6" fill="#000"/>
<rect x="663" y="1501" width="1" height="2" fill="#bbb"/>
<rect x="674" y="1501" width="1" height="2" fill="#bbb"/>
<rect x="685" y="1501" width="1" height="2" fill="#bbb"/>
<rect x="696" y="1501" width="1" height="2" fill="#bbb"/>
<rect x="707" y="1498" width="1" height="6" fill="#000"/>
<rect x="717" y="1501" width="1" height="2" fill="#bbb"/>
<rect x="728" y="1501" width="1" height="2" fill="#bbb"/>
<rect x="739" y="1501" width="1" height="2" fill="#bbb"/>
<rect x="750" y="1501" width="1" height="2" fill="#bbb"/>
<rect x="761" y="1498" width="1" height="6" fill="#000"/>
<rect x="772" y="1501" width="1" height="2" fill="#bbb"/>
<rect x="783" y="1501" width="1" height="2" fill="#bbb"/>
<rect x="794" y="1501" width="1" height="2" fill="#bbb"/>
<rect x="805" y="1501" width="1" height="2" fill="#bbb"/>
<rect x="816" y="1498" width="1" height="6" fill="#000"/>
<rect x="827" y="1501" width="1" height="2" fill="#bbb"/>
<rect x="838" y="1501" width="1" height="2" fill="#bbb"/>
<rect x="849" y="1501" width="1" height="2" fill="#bbb"/>
<rect x="860" y="1501" width="1" height="2" fill="#bbb"/>
<rect x="871" y="1498" width="1" height="6" fill="#000"/>
<rect x="882" y="1501" width="1" height="2" fill="#bbb"/>
<rect x="892" y="1501" width="1" height="2" fill="#bbb"/>
<rect x="903" y="1501" width="1" height="2" fill="#bbb"/>
<rect x="914" y="1501" width="1" height="2" fill="#bbb"/>
<rect x="925" y="1498" width="1" height="6" fill="#000"/>
<rect x="936" y="1501" width="1" height="2" fill="#bbb"/>
<rect x="947" y="1501" width="1" height="2" fill="#bbb"/>
<rect x="958" y="1501" width="1" height="2" fill="#bbb"/>
<rect x="969" y="1501" width="1" height="2" fill="#bbb"/>
<rect x="980" y="1498" width="1" height="6" fill="#000"/>
<rect x="991" y="1501" width="1" height="2" fill="#bbb"/>
<rect x="1002" y="1501" width="1" height="2" fill="#bbb"/>
<rect x="1013" y="1501" width="1" height="2" fill="#bbb"/>
<rect x="1024" y="1501" width="1" height="2" fill="#bbb"/>
<rect x="1035" y="1498" width="1" height="6" fill="#000"/>
<rect x="1046" y="1501" width="1" height="2" fill="#bbb"/>
<rect x="1057" y="1501" width="1" height="2" fill="#bbb"/>
<rect x="1067" y="1501" width="1" height="2" fill="#bbb"/>
<rect x="1078" y="1501" width="1" height="2" fill="#bbb"/>
<rect x="1089" y="1498" width="1" height="6" fill="#000"/>
<rect x="1100" y="1501" width="1" height="2" fill="#bbb"/>
<rect x="1111" y="1501" width="1" height="2" fill="#bbb"/>
<rect x="1122" y="1501" width="1" height="2" fill="#bbb"/>
<rect x="1133" y="1501" width="1" height="2" fill="#bbb"/>
<rect x="1144" y="1498" width="1" height="6" fill="#000"/>
</g>
<path d="M100.5 1313.0 L97 1320.0 L104 1320.0 Z" fill="#000"/>
<path d="M1162.5 1500.5 L1155 1497.0 L1155 1504.0 Z" fill="#000"/>
<text x="98.00" y="1329.40" font-size="11" text-anchor="end" textLength="23.72" lengthAdjust="spacingAndGlyphs" fill="#000">0.60</text>
<text x="98.00" y="1354.40" font-size="11" text-anchor="end" textLength="23.72" lengthAdjust="spacingAndGlyphs" fill="#000">0.40</text>
<text x="98.00" y="1379.40" font-size="11" text-anchor="end" textLength="23.72" lengthAdjust="spacingAndGlyphs" fill="#000">0.20</text>
<text x="98.00" y="1404.40" font-size="11" text-anchor="end" textLength="23.72" lengthAdjust="spacingAndGlyphs" fill="#000">0.00</text>
<text x="98.00" y="1429.40" font-size="11" text-anchor="end" textLength="27.78" lengthAdjust="spacingAndGlyphs" fill="#000">-0.20</text>
<text x="98.00" y="1454.40" font-size="11" text-anchor="end" textLength="27.78" lengthAdjust="spacingAndGlyphs" fill="#000">-0.40</text>
<text x="98.00" y="1479.40" font-size="11" text-anchor="end" textLength="27.78" lengthAdjust="spacingAndGlyphs" fill="#000">-0.60</text>
<text x="98.00" y="1504.40" font-size="11" text-anchor="end" textLength="27.78" lengthAdjust="spacingAndGlyphs" fill="#000">-0.80</text>
<text x="107.00" y="1513.75" font-size="11" text-anchor="middle" textLength="29.55" lengthAdjust="spacingAndGlyphs" fill="#000">8 Mai</text>
<text x="161.69" y="1513.75" font-size="11" text-anchor="middle" textLength="36.30" lengthAdjust="spacingAndGlyphs" fill="#000">15 Mai</text>
<text x="216.37" y="1513.75" font-size="11" text-anchor="middle" textLength="36.55" lengthAdjust="spacingAndGlyphs" fill="#000">22 Mai</text>
<text x="271.05" y="1513.75" font-size="11" text-anchor="middle" textLength="36.55" lengthAdjust="spacingAndGlyphs" fill="#000">29 Mai</text>
<text x="325.74" y="1513.75" font-size="11" text-anchor="middle" textLength="32.58" lengthAdjust="spacingAndGlyphs" fill="#000">5 Juin</text>
<text x="380.43" y="1513.75" font-size="11" text-anchor="middle" textLength="39.37" lengthAdjust="spacingAndGlyphs" fill="#000">12 Juin</text>
<text x="435.11" y="1513.75" font-size="11" text-anchor="middle" textLength="39.37" lengthAdjust="spacingAndGlyphs" fill="#000">19 Juin</text>
<text x="489.79" y="1513.75" font-size="11" text-anchor="middle" textLength="39.37" lengthAdjust="spacingAndGlyphs" fill="#000">26 Juin</text>
<text x="544.48" y="1513.75" font-size="11" text-anchor="middle" textLength="28.30" lengthAdjust="spacingAndGlyphs" fill="#000">3 Juil</text>
<text x="599.16" y="1513.75" font-size="11" text-anchor="middle" textLength="35.80" lengthAdjust="spacingAndGlyphs" fill="#000">10 Juil</text>
<text x="653.85" y="1513.75" font-size="11" text-anchor="middle" textLength="35.30" lengthAdjust="spacingAndGlyphs" fill="#000">17 Juil</text>
<text x="708.53" y="1513.75" font-size="11" text-anchor="middle" textLength="35.30" lengthAdjust="spacingAndGlyphs" fill="#000">24 Juil</text>
<text x="763.22" y="1513.75" font-size="11" text-anchor="middle" textLength="35.30" lengthAdjust="spacingAndGlyphs" fill="#000">31 Juil</text>
<text x="817.90" y="1514.50" font-size="11" text-anchor="middle" textLength="34.63" lengthAdjust="spacingAndGlyphs" fill="#000">7 Août</text>
<text x="872.59" y="1514.50" font-size="11" text-anchor="middle" textLength="41.42" lengthAdjust="spacingAndGlyphs" fill="#000">14 Août</text>
<text x="927.27" y="1514.50" font-size="11" text-anchor="middle" textLength="44.55" lengthAdjust="spacingAndGlyphs" fill="#000">21 Août</text>
<text x="981.96" y="1514.50" font-size="11" text-anchor="middle" textLength="44.55" lengthAdjust="spacingAndGlyphs" fill="#000">28 Août</text>
<text x="1036.64" y="1512.75" font-size="11" text-anchor="middle" textLength="38.05" lengthAdjust="spacingAndGlyphs" fill="#000">4 Sept</text>
<text x="1091.33" y="1512.75" font-size="11" text-anchor="middle" textLength="44.30" lengthAdjust="spacingAndGlyphs" fill="#000">11 Sept</text>
<text x="1146.01" y="1512.75" font-size="11" text-anchor="middle" textLength="44.55" lengthAdjust="spacingAndGlyphs" fill="#000">18 Sept</text>
<text x="627.00" y="1527.00" font-size="11" text-anchor="middle" textLength="254.75" lengthAdjust="spacingAndGlyphs" fill="#000">Date (du 8 Mai 2015 au 18 Septembre 2015)</text>
<text x="67.50" y="1410.50" font-size="11" text-anchor="middle" textLength="32.75" lengthAdjust="spacingAndGlyphs" fill="#000" transform="rotate(-90 67.5 1410.5)">MACD</text>
<text x="111.80" y="1294.25" font-size="25" text-anchor="start" textLength="75.15" lengthAdjust="spacingAndGlyphs" fill="#000">Ipsen:</text>
<text x="196.30" y="1294.25" font-size="25" text-anchor="start" textLength="119.90" lengthAdjust="spacingAndGlyphs" fill="#000">graphique</text>
<text x="323.30" y="1294.25" font-size="25" text-anchor="start" textLength="29.15" lengthAdjust="spacingAndGlyphs" fill="#000">du</text>
<text x="362.30" y="1294.25" font-size="25" text-anchor="start" textLength="72.90" lengthAdjust="spacingAndGlyphs" fill="#000">MACD</text>
<rect x="444.00" y="1285.75" width="8.50" height="2.3" fill="#000"/>
<text x="461.30" y="1294.25" font-size="25" text-anchor="start" textLength="184.90" lengthAdjust="spacingAndGlyphs" fill="#000">MACD(12,26,9)</text>
<rect x="657.50" y="1285.75" width="7.50" height="2.3" fill="#000"/>
<text x="674.80" y="1294.25" font-size="25" text-anchor="start" textLength="207.90" lengthAdjust="spacingAndGlyphs" fill="#000">AnalyBourse.com</text>
</svg></body></html>
